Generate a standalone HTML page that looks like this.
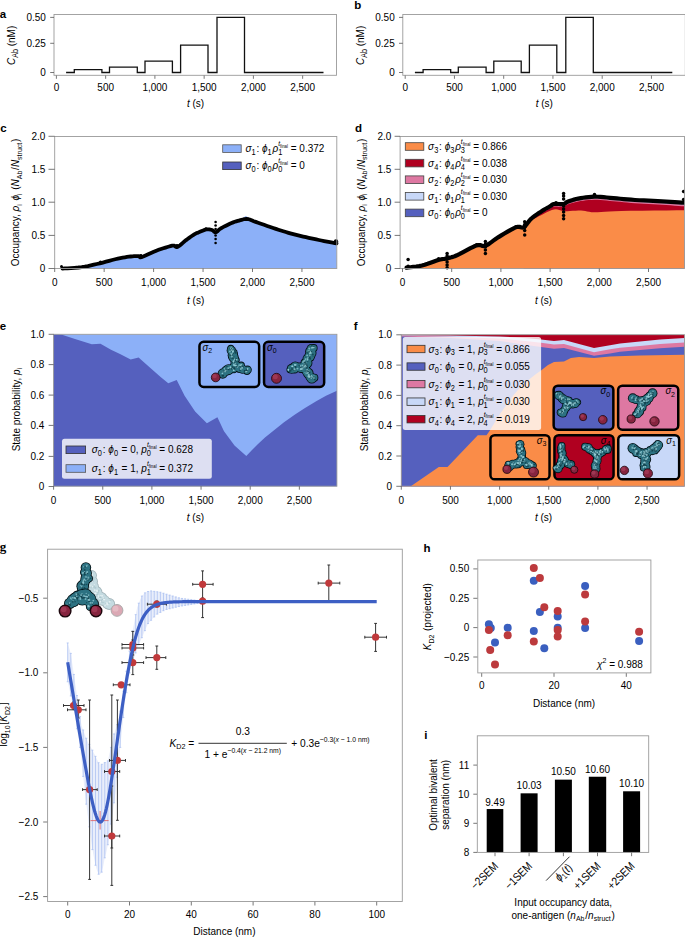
<!DOCTYPE html>
<html><head><meta charset="utf-8"><style>
html,body{margin:0;padding:0;background:#fff;overflow:hidden;}
svg{display:block;font-family:"Liberation Sans", sans-serif;}
</style></head><body>
<svg width="685" height="937" viewBox="0 0 685 937">
<rect width="685" height="937" fill="#fff"/>
<text x="-0.3" y="17.5" font-size="11.5" font-weight="bold" >a</text>
<rect x="54" y="14.5" width="282.5" height="60.8" fill="none" stroke="#9a9a9a" stroke-width="0.9" />
<line x1="50.2" y1="17.4" x2="54" y2="17.4" stroke="#555" stroke-width="0.8" />
<text transform="translate(45.9,20.95) scale(1,1.16)" font-size="10.0" text-anchor="end" >0.50</text>
<line x1="50.2" y1="43.3" x2="54" y2="43.3" stroke="#555" stroke-width="0.8" />
<text transform="translate(45.9,46.85) scale(1,1.16)" font-size="10.0" text-anchor="end" >0.25</text>
<line x1="50.2" y1="72.5" x2="54" y2="72.5" stroke="#555" stroke-width="0.8" />
<text transform="translate(45.9,76.05) scale(1,1.16)" font-size="10.0" text-anchor="end" >0</text>
<line x1="56.4" y1="75.5" x2="56.4" y2="78.8" stroke="#555" stroke-width="0.8" />
<text transform="translate(56.4,90.85) scale(1,1.16)" font-size="10.0" text-anchor="middle" >0</text>
<line x1="105.65" y1="75.5" x2="105.65" y2="78.8" stroke="#555" stroke-width="0.8" />
<text transform="translate(105.65,90.85) scale(1,1.16)" font-size="10.0" text-anchor="middle" >500</text>
<line x1="154.9" y1="75.5" x2="154.9" y2="78.8" stroke="#555" stroke-width="0.8" />
<text transform="translate(154.9,90.85) scale(1,1.16)" font-size="10.0" text-anchor="middle" >1,000</text>
<line x1="204.15" y1="75.5" x2="204.15" y2="78.8" stroke="#555" stroke-width="0.8" />
<text transform="translate(204.15,90.85) scale(1,1.16)" font-size="10.0" text-anchor="middle" >1,500</text>
<line x1="253.4" y1="75.5" x2="253.4" y2="78.8" stroke="#555" stroke-width="0.8" />
<text transform="translate(253.4,90.85) scale(1,1.16)" font-size="10.0" text-anchor="middle" >2,000</text>
<line x1="302.65" y1="75.5" x2="302.65" y2="78.8" stroke="#555" stroke-width="0.8" />
<text transform="translate(302.65,90.85) scale(1,1.16)" font-size="10.0" text-anchor="middle" >2,500</text>
<text transform="translate(195.5,107.35) scale(1,1.16)" font-size="10.0" text-anchor="middle" ><tspan font-style="italic">t</tspan> (s)</text>
<text transform="translate(15.05,45.4) rotate(-90) scale(1,1.16)" font-size="10.0" text-anchor="middle" ><tspan font-style="italic">C</tspan><tspan font-size="7.2" dy="2.3">Ab</tspan><tspan dy="-2.3"> </tspan>(nM)</text>
<path d="M66.1,72.5 H74.3 V69.6 H101.9 V72.5 H109.5 V67.2 H137.3 V72.5 H145 V61.2 H172.4 V72.5 H180.6 V45.1 H208 V72.5 H217 V17.3 H244.5 V72.5 H323.5" transform="translate(0,0)" fill="none" stroke="#111" stroke-width="1.3"/>
<text x="354.3" y="8.8" font-size="11.5" font-weight="bold" >b</text>
<rect x="402.8" y="14.5" width="282.5" height="60.8" fill="none" stroke="#9a9a9a" stroke-width="0.9" />
<line x1="399" y1="17.4" x2="402.8" y2="17.4" stroke="#555" stroke-width="0.8" />
<text transform="translate(394.7,20.95) scale(1,1.16)" font-size="10.0" text-anchor="end" >0.50</text>
<line x1="399" y1="43.3" x2="402.8" y2="43.3" stroke="#555" stroke-width="0.8" />
<text transform="translate(394.7,46.85) scale(1,1.16)" font-size="10.0" text-anchor="end" >0.25</text>
<line x1="399" y1="72.5" x2="402.8" y2="72.5" stroke="#555" stroke-width="0.8" />
<text transform="translate(394.7,76.05) scale(1,1.16)" font-size="10.0" text-anchor="end" >0</text>
<line x1="405.2" y1="75.5" x2="405.2" y2="78.8" stroke="#555" stroke-width="0.8" />
<text transform="translate(405.2,90.85) scale(1,1.16)" font-size="10.0" text-anchor="middle" >0</text>
<line x1="454.45" y1="75.5" x2="454.45" y2="78.8" stroke="#555" stroke-width="0.8" />
<text transform="translate(454.45,90.85) scale(1,1.16)" font-size="10.0" text-anchor="middle" >500</text>
<line x1="503.7" y1="75.5" x2="503.7" y2="78.8" stroke="#555" stroke-width="0.8" />
<text transform="translate(503.7,90.85) scale(1,1.16)" font-size="10.0" text-anchor="middle" >1,000</text>
<line x1="552.95" y1="75.5" x2="552.95" y2="78.8" stroke="#555" stroke-width="0.8" />
<text transform="translate(552.95,90.85) scale(1,1.16)" font-size="10.0" text-anchor="middle" >1,500</text>
<line x1="602.2" y1="75.5" x2="602.2" y2="78.8" stroke="#555" stroke-width="0.8" />
<text transform="translate(602.2,90.85) scale(1,1.16)" font-size="10.0" text-anchor="middle" >2,000</text>
<line x1="651.45" y1="75.5" x2="651.45" y2="78.8" stroke="#555" stroke-width="0.8" />
<text transform="translate(651.45,90.85) scale(1,1.16)" font-size="10.0" text-anchor="middle" >2,500</text>
<text transform="translate(544.3,107.35) scale(1,1.16)" font-size="10.0" text-anchor="middle" ><tspan font-style="italic">t</tspan> (s)</text>
<text transform="translate(363.85,45.4) rotate(-90) scale(1,1.16)" font-size="10.0" text-anchor="middle" ><tspan font-style="italic">C</tspan><tspan font-size="7.2" dy="2.3">Ab</tspan><tspan dy="-2.3"> </tspan>(nM)</text>
<path d="M66.1,72.5 H74.3 V69.6 H101.9 V72.5 H109.5 V67.2 H137.3 V72.5 H145 V61.2 H172.4 V72.5 H180.6 V45.1 H208 V72.5 H217 V17.3 H244.5 V72.5 H323.5" transform="translate(348.8,0)" fill="none" stroke="#111" stroke-width="1.3"/>
<text x="0.3" y="131.8" font-size="11.5" font-weight="bold" >c</text>
<polygon points="62.5,268.5 62.5,268.6 64.6,268.46 67.52,268.3 70.97,268.09 74.67,267.83 78.34,267.5 81.7,267.1 84.78,266.61 87.81,266.04 90.82,265.4 93.81,264.72 96.8,264.01 99.8,263.3 102.88,262.54 106.03,261.7 109.18,260.84 112.26,260.01 115.19,259.24 117.9,258.6 120.39,258.08 122.71,257.64 124.89,257.28 126.94,256.97 128.87,256.72 130.7,256.5 132.45,256.33 134.12,256.22 135.67,256.16 137.07,256.14 138.29,256.16 139.3,256.2 139.88,256.37 140.01,256.68 139.96,257.03 139.99,257.3 140.38,257.36 141.4,257.1 143.17,256.43 145.5,255.43 148.18,254.22 151.01,252.94 153.79,251.72 156.3,250.7 158.65,249.83 161.01,249.01 163.33,248.26 165.5,247.57 167.45,246.98 169.1,246.5 170.39,246.13 171.37,245.87 172.12,245.71 172.76,245.61 173.35,245.58 174,245.6 174.62,245.78 175.11,246.17 175.57,246.62 176.09,246.99 176.73,247.13 177.6,246.9 178.73,246.23 180.07,245.2 181.54,243.96 183.08,242.61 184.62,241.28 186.1,240.1 187.58,239.01 189.13,237.89 190.68,236.79 192.16,235.76 193.53,234.85 194.7,234.1 195.6,233.57 196.27,233.23 196.81,233.01 197.34,232.83 197.97,232.62 198.8,232.3 199.89,231.84 201.15,231.29 202.51,230.7 203.89,230.15 205.21,229.69 206.4,229.4 207.46,229.28 208.45,229.28 209.38,229.38 210.26,229.54 211.1,229.76 211.9,230 212.63,230.36 213.28,230.87 213.89,231.42 214.49,231.92 215.11,232.25 215.8,232.3 216.49,232.04 217.14,231.55 217.81,230.89 218.59,230.12 219.52,229.3 220.7,228.5 222.19,227.65 223.97,226.69 225.91,225.69 227.9,224.7 229.84,223.78 231.6,223 233.21,222.36 234.76,221.81 236.24,221.33 237.68,220.91 239.06,220.54 240.4,220.2 241.66,219.86 242.82,219.53 243.93,219.24 245.04,219.04 246.18,218.94 247.4,219 248.6,219.21 249.73,219.54 250.89,219.99 252.2,220.54 253.77,221.18 255.7,221.9 258.11,222.75 260.93,223.74 264.01,224.83 267.19,225.94 270.3,227.02 273.2,228 275.85,228.88 278.38,229.71 280.85,230.51 283.32,231.28 285.85,232.04 288.5,232.8 291.31,233.57 294.25,234.34 297.24,235.09 300.24,235.83 303.18,236.53 306,237.2 308.69,237.82 311.3,238.4 313.85,238.94 316.37,239.47 318.88,239.99 321.4,240.5 324.11,241.04 327.01,241.6 329.91,242.16 332.6,242.66 334.86,243.09 336.5,243.4 336.8,268.5" fill="#8cb0f8"/>
<polygon points="238,221 245.8,216 252,219.5 247.4,220" fill="#8cb0f8"/>
<path d="M62.5,268.6 64.6,268.46 67.52,268.3 70.97,268.09 74.67,267.83 78.34,267.5 81.7,267.1 84.78,266.61 87.81,266.04 90.82,265.4 93.81,264.72 96.8,264.01 99.8,263.3 102.88,262.54 106.03,261.7 109.18,260.84 112.26,260.01 115.19,259.24 117.9,258.6 120.39,258.08 122.71,257.64 124.89,257.28 126.94,256.97 128.87,256.72 130.7,256.5 132.45,256.33 134.12,256.22 135.67,256.16 137.07,256.14 138.29,256.16 139.3,256.2 139.88,256.37 140.01,256.68 139.96,257.03 139.99,257.3 140.38,257.36 141.4,257.1 143.17,256.43 145.5,255.43 148.18,254.22 151.01,252.94 153.79,251.72 156.3,250.7 158.65,249.83 161.01,249.01 163.33,248.26 165.5,247.57 167.45,246.98 169.1,246.5 170.39,246.13 171.37,245.87 172.12,245.71 172.76,245.61 173.35,245.58 174,245.6 174.62,245.78 175.11,246.17 175.57,246.62 176.09,246.99 176.73,247.13 177.6,246.9 178.73,246.23 180.07,245.2 181.54,243.96 183.08,242.61 184.62,241.28 186.1,240.1 187.58,239.01 189.13,237.89 190.68,236.79 192.16,235.76 193.53,234.85 194.7,234.1 195.6,233.57 196.27,233.23 196.81,233.01 197.34,232.83 197.97,232.62 198.8,232.3 199.89,231.84 201.15,231.29 202.51,230.7 203.89,230.15 205.21,229.69 206.4,229.4 207.46,229.28 208.45,229.28 209.38,229.38 210.26,229.54 211.1,229.76 211.9,230 212.63,230.36 213.28,230.87 213.89,231.42 214.49,231.92 215.11,232.25 215.8,232.3 216.49,232.04 217.14,231.55 217.81,230.89 218.59,230.12 219.52,229.3 220.7,228.5 222.19,227.65 223.97,226.69 225.91,225.69 227.9,224.7 229.84,223.78 231.6,223 233.21,222.36 234.76,221.81 236.24,221.33 237.68,220.91 239.06,220.54 240.4,220.2 241.66,219.86 242.82,219.53 243.93,219.24 245.04,219.04 246.18,218.94 247.4,219 248.6,219.21 249.73,219.54 250.89,219.99 252.2,220.54 253.77,221.18 255.7,221.9 258.11,222.75 260.93,223.74 264.01,224.83 267.19,225.94 270.3,227.02 273.2,228 275.85,228.88 278.38,229.71 280.85,230.51 283.32,231.28 285.85,232.04 288.5,232.8 291.31,233.57 294.25,234.34 297.24,235.09 300.24,235.83 303.18,236.53 306,237.2 308.69,237.82 311.3,238.4 313.85,238.94 316.37,239.47 318.88,239.99 321.4,240.5 324.11,241.04 327.01,241.6 329.91,242.16 332.6,242.66 334.86,243.09 336.5,243.4" fill="none" stroke="#000" stroke-width="3.8" stroke-linejoin="round" stroke-linecap="round"/>
<circle cx="215.6" cy="222" r="1.3" fill="#000"/>
<circle cx="215.6" cy="225.5" r="1.3" fill="#000"/>
<circle cx="215.6" cy="229" r="1.3" fill="#000"/>
<circle cx="215.6" cy="232" r="1.3" fill="#000"/>
<circle cx="215.6" cy="235.5" r="1.3" fill="#000"/>
<circle cx="215.6" cy="239" r="1.3" fill="#000"/>
<circle cx="215.6" cy="243" r="1.3" fill="#000"/>
<circle cx="61.5" cy="266.6" r="1.5" fill="#000"/>
<circle cx="100.5" cy="262" r="1.6" fill="#000"/>
<circle cx="336" cy="241.5" r="2.2" fill="#000"/>
<circle cx="141" cy="255.5" r="1.4" fill="#000"/>
<circle cx="177" cy="245.5" r="1.4" fill="#000"/>
<circle cx="206" cy="228.8" r="1.5" fill="#000"/>
<rect x="54.7" y="136.5" width="282.1" height="132" fill="none" stroke="#9a9a9a" stroke-width="0.9" />
<line x1="48.5" y1="136.3" x2="54.7" y2="136.3" stroke="#555" stroke-width="0.8" />
<text transform="translate(45.3,139.85) scale(1,1.16)" font-size="10.0" text-anchor="end" >2.0</text>
<line x1="48.5" y1="169.3" x2="54.7" y2="169.3" stroke="#555" stroke-width="0.8" />
<text transform="translate(45.3,172.85) scale(1,1.16)" font-size="10.0" text-anchor="end" >1.5</text>
<line x1="48.5" y1="202.2" x2="54.7" y2="202.2" stroke="#555" stroke-width="0.8" />
<text transform="translate(45.3,205.75) scale(1,1.16)" font-size="10.0" text-anchor="end" >1.0</text>
<line x1="48.5" y1="235.4" x2="54.7" y2="235.4" stroke="#555" stroke-width="0.8" />
<text transform="translate(45.3,238.95) scale(1,1.16)" font-size="10.0" text-anchor="end" >0.5</text>
<line x1="48.5" y1="268.5" x2="54.7" y2="268.5" stroke="#555" stroke-width="0.8" />
<text transform="translate(45.3,272.05) scale(1,1.16)" font-size="10.0" text-anchor="end" >0</text>
<line x1="54.7" y1="268.5" x2="54.7" y2="272" stroke="#555" stroke-width="0.8" />
<text transform="translate(54.7,286.35) scale(1,1.16)" font-size="10.0" text-anchor="middle" >0</text>
<line x1="104.15" y1="268.5" x2="104.15" y2="272" stroke="#555" stroke-width="0.8" />
<text transform="translate(104.15,286.35) scale(1,1.16)" font-size="10.0" text-anchor="middle" >500</text>
<line x1="153.6" y1="268.5" x2="153.6" y2="272" stroke="#555" stroke-width="0.8" />
<text transform="translate(153.6,286.35) scale(1,1.16)" font-size="10.0" text-anchor="middle" >1,000</text>
<line x1="203.05" y1="268.5" x2="203.05" y2="272" stroke="#555" stroke-width="0.8" />
<text transform="translate(203.05,286.35) scale(1,1.16)" font-size="10.0" text-anchor="middle" >1,500</text>
<line x1="252.5" y1="268.5" x2="252.5" y2="272" stroke="#555" stroke-width="0.8" />
<text transform="translate(252.5,286.35) scale(1,1.16)" font-size="10.0" text-anchor="middle" >2,000</text>
<line x1="301.95" y1="268.5" x2="301.95" y2="272" stroke="#555" stroke-width="0.8" />
<text transform="translate(301.95,286.35) scale(1,1.16)" font-size="10.0" text-anchor="middle" >2,500</text>
<text transform="translate(195.6,303.85) scale(1,1.16)" font-size="10.0" text-anchor="middle" ><tspan font-style="italic">t</tspan> (s)</text>
<text transform="translate(19.35,202.4) rotate(-90) scale(1,1.16)" font-size="10.0" text-anchor="middle" >Occupancy, <tspan font-style="italic">ρ</tspan><tspan font-size="7" dy="2">i</tspan><tspan dy="-2"> </tspan> <tspan font-style="italic">ϕ</tspan><tspan font-size="7" dy="2">i</tspan><tspan dy="-2"> </tspan> (<tspan font-style="italic">N</tspan><tspan font-size="7" dy="2">Ab</tspan><tspan dy="-2"> </tspan>/<tspan font-style="italic">N</tspan><tspan font-size="7" dy="2">struct</tspan><tspan dy="-2"> </tspan>)</text>
<rect x="222.7" y="144.8" width="18.5" height="7.6" fill="#8cb0f8" stroke="#555" stroke-width="0.8" />
<text transform="translate(245.5,152.15) scale(1,1.16)" font-size="10.0" text-anchor="start" ><tspan font-style="italic">σ</tspan><tspan font-size="7.4" dy="2.5">1</tspan><tspan dy="-2.5"> </tspan>: <tspan font-style="italic">ϕ</tspan><tspan font-size="7.4" dy="2.5">1</tspan><tspan dy="-2.5"> </tspan><tspan font-style="italic">ρ</tspan><tspan font-size="6.6" dy="-5.2" font-style="italic">t</tspan><tspan font-size="4.3" dy="1.3">final</tspan><tspan font-size="7.4" dx="-9.8" dy="6.4">1</tspan><tspan dy="-2.5" dx="5.7"> </tspan>= 0.372</text>
<rect x="222.7" y="162" width="18.5" height="7.6" fill="#5560be" stroke="#333" stroke-width="0.8" />
<text transform="translate(245.5,169.35) scale(1,1.16)" font-size="10.0" text-anchor="start" ><tspan font-style="italic">σ</tspan><tspan font-size="7.4" dy="2.5">0</tspan><tspan dy="-2.5"> </tspan>: <tspan font-style="italic">ϕ</tspan><tspan font-size="7.4" dy="2.5">0</tspan><tspan dy="-2.5"> </tspan><tspan font-style="italic">ρ</tspan><tspan font-size="6.6" dy="-5.2" font-style="italic">t</tspan><tspan font-size="4.3" dy="1.3">final</tspan><tspan font-size="7.4" dx="-9.8" dy="6.4">0</tspan><tspan dy="-2.5" dx="5.7"> </tspan>= 0</text>
<text x="354.9" y="132.4" font-size="11.5" font-weight="bold" >d</text>
<polygon points="406.6,268.5 406.6,267.7 408.25,267.5 410.53,267.25 413.23,266.94 416.15,266.56 419.11,266.08 421.9,265.5 424.66,264.73 427.57,263.77 430.51,262.72 433.36,261.67 435.99,260.73 438.3,260 440.19,259.51 441.76,259.2 443.11,258.99 444.37,258.82 445.66,258.61 447.1,258.3 448.56,257.96 449.93,257.65 451.32,257.31 452.86,256.86 454.68,256.21 456.9,255.3 459.74,253.93 463.14,252.13 466.81,250.14 470.47,248.19 473.83,246.53 476.6,245.4 478.65,244.98 480.18,245.11 481.41,245.53 482.55,245.96 483.81,246.14 485.4,245.8 487.28,244.89 489.29,243.62 491.41,242.09 493.65,240.43 496.01,238.72 498.5,237.1 501.28,235.4 504.37,233.52 507.59,231.61 510.73,229.81 513.6,228.29 516,227.2 517.85,226.73 519.29,226.79 520.46,227.12 521.5,227.48 522.53,227.59 523.7,227.2 524.95,226.24 526.15,224.91 527.35,223.33 528.6,221.65 529.93,219.99 531.4,218.5 533.07,217.12 534.91,215.74 536.85,214.38 538.79,213.09 540.63,211.88 542.3,210.8 543.81,209.85 545.24,209.01 546.58,208.27 547.83,207.6 548.97,206.98 550,206.4 550.82,205.86 551.4,205.36 551.89,204.92 552.4,204.55 553.06,204.24 554,204 555.33,203.89 556.96,203.9 558.75,203.99 560.54,204.07 562.17,204.1 563.5,204 564.41,203.77 564.99,203.47 565.42,203.1 565.87,202.69 566.5,202.25 567.5,201.8 568.84,201.31 570.4,200.76 572.14,200.18 574.05,199.61 576.11,199.07 578.3,198.6 580.66,198.17 583.2,197.75 585.89,197.36 588.7,197.04 591.58,196.81 594.5,196.7 597.46,196.74 600.5,196.9 603.61,197.16 606.8,197.47 610.06,197.8 613.4,198.1 616.78,198.39 620.2,198.72 623.69,199.06 627.3,199.39 631.06,199.71 635,200 639.25,200.25 643.79,200.47 648.48,200.68 653.17,200.88 657.73,201.08 662,201.3 666.21,201.54 670.52,201.81 674.69,202.08 678.48,202.33 681.66,202.55 684,202.7 684.4,268.5" fill="#c8d8f8"/>
<polygon points="523.7,227.3 524.5,226.42 525.58,225.21 526.87,223.77 528.31,222.23 529.84,220.7 531.4,219.3 533.07,217.98 534.91,216.64 536.85,215.31 538.79,214.04 540.63,212.85 542.3,211.8 543.81,210.89 545.24,210.08 546.58,209.37 547.83,208.73 548.97,208.15 550,207.6 550.82,207.09 551.4,206.64 551.89,206.24 552.4,205.9 553.06,205.62 554,205.4 555.33,205.3 556.96,205.31 558.75,205.39 560.54,205.47 562.17,205.5 563.5,205.4 564.41,205.18 564.99,204.89 565.42,204.54 565.87,204.15 566.5,203.73 567.5,203.3 568.84,202.83 570.4,202.29 572.14,201.73 574.05,201.17 576.11,200.65 578.3,200.2 580.66,199.79 583.2,199.39 585.89,199.02 588.7,198.71 591.58,198.5 594.5,198.4 597.46,198.44 600.5,198.61 603.61,198.86 606.8,199.17 610.06,199.49 613.4,199.8 616.78,200.11 620.2,200.44 623.69,200.8 627.3,201.16 631.06,201.49 635,201.8 639.25,202.07 643.79,202.31 648.48,202.53 653.17,202.75 657.73,202.97 662,203.2 666.21,203.46 670.52,203.75 674.69,204.04 678.48,204.31 681.66,204.54 684,204.7 684.4,268.5 523.7,268.5" fill="#de78a2"/>
<polygon points="523.7,227.4 524.5,226.57 525.58,225.41 526.87,224.05 528.31,222.59 529.84,221.13 531.4,219.8 533.07,218.54 534.91,217.25 536.85,215.98 538.79,214.75 540.63,213.61 542.3,212.6 543.81,211.72 545.24,210.96 546.58,210.28 547.83,209.67 548.97,209.11 550,208.6 550.82,208.13 551.4,207.71 551.89,207.34 552.4,207.04 553.06,206.79 554,206.6 555.33,206.52 556.96,206.56 558.75,206.66 560.54,206.76 562.17,206.79 563.5,206.7 564.41,206.48 564.99,206.17 565.42,205.79 565.87,205.38 566.5,204.94 567.5,204.5 568.84,204.03 570.4,203.51 572.14,202.97 574.05,202.43 576.11,201.93 578.3,201.5 580.66,201.11 583.2,200.72 585.89,200.37 588.7,200.09 591.58,199.89 594.5,199.8 597.46,199.85 600.5,200.01 603.61,200.27 606.8,200.57 610.06,200.9 613.4,201.2 616.78,201.5 620.2,201.84 623.69,202.19 627.3,202.54 631.06,202.88 635,203.2 639.25,203.49 643.79,203.77 648.48,204.03 653.17,204.29 657.73,204.54 662,204.8 666.21,205.07 670.52,205.36 674.69,205.65 678.48,205.91 681.66,206.14 684,206.3 684.4,268.5 523.7,268.5" fill="#b00020"/>
<polygon points="406.6,268.5 406.6,268.5 408.25,268.24 410.53,267.9 413.23,267.49 416.15,267.01 419.11,266.44 421.9,265.8 424.66,265 427.57,264.03 430.51,262.99 433.36,261.96 435.99,261.03 438.3,260.3 440.19,259.81 441.76,259.5 443.11,259.29 444.37,259.12 445.66,258.91 447.1,258.6 448.56,258.26 449.93,257.95 451.32,257.61 452.86,257.16 454.68,256.51 456.9,255.6 459.74,254.23 463.14,252.43 466.81,250.44 470.47,248.49 473.83,246.83 476.6,245.7 478.65,245.28 480.18,245.41 481.41,245.82 482.55,246.26 483.81,246.44 485.4,246.1 487.28,245.19 489.29,243.92 491.41,242.39 493.65,240.73 496.01,239.02 498.5,237.4 501.28,235.7 504.37,233.82 507.59,231.91 510.73,230.11 513.6,228.59 516,227.5 517.85,227.01 519.29,227.03 520.46,227.32 521.5,227.65 522.53,227.79 523.7,227.5 524.97,226.72 526.21,225.61 527.46,224.31 528.73,222.94 530.04,221.63 531.4,220.5 532.78,219.56 534.17,218.72 535.59,217.94 537.09,217.17 538.71,216.37 540.5,215.5 542.53,214.47 544.77,213.29 547.14,212.08 549.54,210.97 551.86,210.07 554,209.5 555.89,209.37 557.6,209.59 559.23,210.02 560.9,210.53 562.72,210.97 564.8,211.2 567.22,211.19 569.9,211.05 572.73,210.84 575.6,210.64 578.39,210.5 581,210.5 583.25,210.69 585.2,211.03 587.08,211.44 589.1,211.84 591.5,212.15 594.5,212.3 597.81,212.26 601.19,212.08 604.94,211.81 609.37,211.51 614.79,211.22 621.5,211 630.59,210.83 642.02,210.67 654.44,210.52 666.48,210.39 676.79,210.28 684,210.2 684.4,268.5" fill="#fa8c48"/>
<path d="M406.6,267.7 408.25,267.5 410.53,267.25 413.23,266.94 416.15,266.56 419.11,266.08 421.9,265.5 424.66,264.73 427.57,263.77 430.51,262.72 433.36,261.67 435.99,260.73 438.3,260 440.19,259.51 441.76,259.2 443.11,258.99 444.37,258.82 445.66,258.61 447.1,258.3 448.56,257.96 449.93,257.65 451.32,257.31 452.86,256.86 454.68,256.21 456.9,255.3 459.74,253.93 463.14,252.13 466.81,250.14 470.47,248.19 473.83,246.53 476.6,245.4 478.65,244.98 480.18,245.11 481.41,245.53 482.55,245.96 483.81,246.14 485.4,245.8 487.28,244.89 489.29,243.62 491.41,242.09 493.65,240.43 496.01,238.72 498.5,237.1 501.28,235.4 504.37,233.52 507.59,231.61 510.73,229.81 513.6,228.29 516,227.2 517.85,226.73 519.29,226.79 520.46,227.12 521.5,227.48 522.53,227.59 523.7,227.2 524.95,226.24 526.15,224.91 527.35,223.33 528.6,221.65 529.93,219.99 531.4,218.5 533.07,217.12 534.91,215.74 536.85,214.38 538.79,213.09 540.63,211.88 542.3,210.8 543.81,209.85 545.24,209.01 546.58,208.27 547.83,207.6 548.97,206.98 550,206.4 550.82,205.86 551.4,205.36 551.89,204.92 552.4,204.55 553.06,204.24 554,204 555.33,203.89 556.96,203.9 558.75,203.99 560.54,204.07 562.17,204.1 563.5,204 564.41,203.77 564.99,203.47 565.42,203.1 565.87,202.69 566.5,202.25 567.5,201.8 568.84,201.31 570.4,200.76 572.14,200.18 574.05,199.61 576.11,199.07 578.3,198.6 580.66,198.17 583.2,197.75 585.89,197.36 588.7,197.04 591.58,196.81 594.5,196.7 597.46,196.74 600.5,196.9 603.61,197.16 606.8,197.47 610.06,197.8 613.4,198.1 616.78,198.39 620.2,198.72 623.69,199.06 627.3,199.39 631.06,199.71 635,200 639.25,200.25 643.79,200.47 648.48,200.68 653.17,200.88 657.73,201.08 662,201.3 666.21,201.54 670.52,201.81 674.69,202.08 678.48,202.33 681.66,202.55 684,202.7" fill="none" stroke="#000" stroke-width="4.2" stroke-linejoin="round" stroke-linecap="round"/>
<circle cx="408.1" cy="259.6" r="1.75" fill="#000"/>
<circle cx="408.1" cy="266.2" r="1.75" fill="#000"/>
<circle cx="447.1" cy="253.5" r="1.75" fill="#000"/>
<circle cx="447.1" cy="256" r="1.75" fill="#000"/>
<circle cx="447.1" cy="259" r="1.75" fill="#000"/>
<circle cx="447.1" cy="262" r="1.75" fill="#000"/>
<circle cx="447.1" cy="265" r="1.75" fill="#000"/>
<circle cx="447.1" cy="267.7" r="1.75" fill="#000"/>
<circle cx="485.4" cy="241.5" r="1.75" fill="#000"/>
<circle cx="485.4" cy="244" r="1.75" fill="#000"/>
<circle cx="485.4" cy="247" r="1.75" fill="#000"/>
<circle cx="485.4" cy="250" r="1.75" fill="#000"/>
<circle cx="485.4" cy="253.5" r="1.75" fill="#000"/>
<circle cx="524.7" cy="221.7" r="1.75" fill="#000"/>
<circle cx="524.7" cy="224.5" r="1.75" fill="#000"/>
<circle cx="524.7" cy="227.5" r="1.75" fill="#000"/>
<circle cx="524.7" cy="230.5" r="1.75" fill="#000"/>
<circle cx="524.7" cy="234.9" r="1.75" fill="#000"/>
<circle cx="563.6" cy="193.5" r="1.75" fill="#000"/>
<circle cx="563.6" cy="196" r="1.75" fill="#000"/>
<circle cx="563.6" cy="199" r="1.75" fill="#000"/>
<circle cx="563.6" cy="206" r="1.75" fill="#000"/>
<circle cx="563.6" cy="209" r="1.75" fill="#000"/>
<circle cx="563.6" cy="212" r="1.75" fill="#000"/>
<circle cx="563.6" cy="215.5" r="1.75" fill="#000"/>
<circle cx="563.6" cy="218.8" r="1.75" fill="#000"/>
<circle cx="594.5" cy="194.5" r="1.75" fill="#000"/>
<circle cx="683.6" cy="191.5" r="1.75" fill="#000"/>
<circle cx="683.6" cy="199.5" r="1.75" fill="#000"/>
<circle cx="438.5" cy="258.5" r="1.6" fill="#000"/>
<circle cx="476.6" cy="244.5" r="1.6" fill="#000"/>
<circle cx="516" cy="226.5" r="1.6" fill="#000"/>
<circle cx="556" cy="202.5" r="1.6" fill="#000"/>
<rect x="400.1" y="136.5" width="284.4" height="132" fill="none" stroke="#9a9a9a" stroke-width="0.9" />
<line x1="394.6" y1="136.3" x2="400.1" y2="136.3" stroke="#555" stroke-width="0.8" />
<text transform="translate(391.4,139.85) scale(1,1.16)" font-size="10.0" text-anchor="end" >2.0</text>
<line x1="394.6" y1="169.3" x2="400.1" y2="169.3" stroke="#555" stroke-width="0.8" />
<text transform="translate(391.4,172.85) scale(1,1.16)" font-size="10.0" text-anchor="end" >1.5</text>
<line x1="394.6" y1="202.2" x2="400.1" y2="202.2" stroke="#555" stroke-width="0.8" />
<text transform="translate(391.4,205.75) scale(1,1.16)" font-size="10.0" text-anchor="end" >1.0</text>
<line x1="394.6" y1="235.4" x2="400.1" y2="235.4" stroke="#555" stroke-width="0.8" />
<text transform="translate(391.4,238.95) scale(1,1.16)" font-size="10.0" text-anchor="end" >0.5</text>
<line x1="394.6" y1="268.5" x2="400.1" y2="268.5" stroke="#555" stroke-width="0.8" />
<text transform="translate(391.4,272.05) scale(1,1.16)" font-size="10.0" text-anchor="end" >0</text>
<line x1="402.5" y1="268.5" x2="402.5" y2="272" stroke="#555" stroke-width="0.8" />
<text transform="translate(402.5,286.35) scale(1,1.16)" font-size="10.0" text-anchor="middle" >0</text>
<line x1="451.7" y1="268.5" x2="451.7" y2="272" stroke="#555" stroke-width="0.8" />
<text transform="translate(451.7,286.35) scale(1,1.16)" font-size="10.0" text-anchor="middle" >500</text>
<line x1="500.9" y1="268.5" x2="500.9" y2="272" stroke="#555" stroke-width="0.8" />
<text transform="translate(500.9,286.35) scale(1,1.16)" font-size="10.0" text-anchor="middle" >1,000</text>
<line x1="550.1" y1="268.5" x2="550.1" y2="272" stroke="#555" stroke-width="0.8" />
<text transform="translate(550.1,286.35) scale(1,1.16)" font-size="10.0" text-anchor="middle" >1,500</text>
<line x1="599.3" y1="268.5" x2="599.3" y2="272" stroke="#555" stroke-width="0.8" />
<text transform="translate(599.3,286.35) scale(1,1.16)" font-size="10.0" text-anchor="middle" >2,000</text>
<line x1="648.5" y1="268.5" x2="648.5" y2="272" stroke="#555" stroke-width="0.8" />
<text transform="translate(648.5,286.35) scale(1,1.16)" font-size="10.0" text-anchor="middle" >2,500</text>
<text transform="translate(543.5,303.85) scale(1,1.16)" font-size="10.0" text-anchor="middle" ><tspan font-style="italic">t</tspan> (s)</text>
<text transform="translate(364.65,202.4) rotate(-90) scale(1,1.16)" font-size="10.0" text-anchor="middle" >Occupancy, <tspan font-style="italic">ρ</tspan><tspan font-size="7" dy="2">i</tspan><tspan dy="-2"> </tspan> <tspan font-style="italic">ϕ</tspan><tspan font-size="7" dy="2">i</tspan><tspan dy="-2"> </tspan> (<tspan font-style="italic">N</tspan><tspan font-size="7" dy="2">Ab</tspan><tspan dy="-2"> </tspan>/<tspan font-style="italic">N</tspan><tspan font-size="7" dy="2">struct</tspan><tspan dy="-2"> </tspan>)</text>
<rect x="405.3" y="142.7" width="18.5" height="7.6" fill="#fa8c48" stroke="#444" stroke-width="0.8" />
<text transform="translate(428.1,150.05) scale(1,1.16)" font-size="10.0" text-anchor="start" ><tspan font-style="italic">σ</tspan><tspan font-size="7.4" dy="2.5">3</tspan><tspan dy="-2.5"> </tspan>: <tspan font-style="italic">ϕ</tspan><tspan font-size="7.4" dy="2.5">3</tspan><tspan dy="-2.5"> </tspan><tspan font-style="italic">ρ</tspan><tspan font-size="6.6" dy="-5.2" font-style="italic">t</tspan><tspan font-size="4.3" dy="1.3">final</tspan><tspan font-size="7.4" dx="-9.8" dy="6.4">3</tspan><tspan dy="-2.5" dx="5.7"> </tspan>= 0.866</text>
<rect x="405.3" y="159.3" width="18.5" height="7.6" fill="#b00020" stroke="#444" stroke-width="0.8" />
<text transform="translate(428.1,166.65) scale(1,1.16)" font-size="10.0" text-anchor="start" ><tspan font-style="italic">σ</tspan><tspan font-size="7.4" dy="2.5">4</tspan><tspan dy="-2.5"> </tspan>: <tspan font-style="italic">ϕ</tspan><tspan font-size="7.4" dy="2.5">4</tspan><tspan dy="-2.5"> </tspan><tspan font-style="italic">ρ</tspan><tspan font-size="6.6" dy="-5.2" font-style="italic">t</tspan><tspan font-size="4.3" dy="1.3">final</tspan><tspan font-size="7.4" dx="-9.8" dy="6.4">4</tspan><tspan dy="-2.5" dx="5.7"> </tspan>= 0.038</text>
<rect x="405.3" y="175.9" width="18.5" height="7.6" fill="#de78a2" stroke="#444" stroke-width="0.8" />
<text transform="translate(428.1,183.25) scale(1,1.16)" font-size="10.0" text-anchor="start" ><tspan font-style="italic">σ</tspan><tspan font-size="7.4" dy="2.5">2</tspan><tspan dy="-2.5"> </tspan>: <tspan font-style="italic">ϕ</tspan><tspan font-size="7.4" dy="2.5">2</tspan><tspan dy="-2.5"> </tspan><tspan font-style="italic">ρ</tspan><tspan font-size="6.6" dy="-5.2" font-style="italic">t</tspan><tspan font-size="4.3" dy="1.3">final</tspan><tspan font-size="7.4" dx="-9.8" dy="6.4">2</tspan><tspan dy="-2.5" dx="5.7"> </tspan>= 0.030</text>
<rect x="405.3" y="192.5" width="18.5" height="7.6" fill="#c8d8f8" stroke="#444" stroke-width="0.8" />
<text transform="translate(428.1,199.85) scale(1,1.16)" font-size="10.0" text-anchor="start" ><tspan font-style="italic">σ</tspan><tspan font-size="7.4" dy="2.5">1</tspan><tspan dy="-2.5"> </tspan>: <tspan font-style="italic">ϕ</tspan><tspan font-size="7.4" dy="2.5">1</tspan><tspan dy="-2.5"> </tspan><tspan font-style="italic">ρ</tspan><tspan font-size="6.6" dy="-5.2" font-style="italic">t</tspan><tspan font-size="4.3" dy="1.3">final</tspan><tspan font-size="7.4" dx="-9.8" dy="6.4">1</tspan><tspan dy="-2.5" dx="5.7"> </tspan>= 0.030</text>
<rect x="405.3" y="209.1" width="18.5" height="7.6" fill="#5560be" stroke="#444" stroke-width="0.8" />
<text transform="translate(428.1,216.45) scale(1,1.16)" font-size="10.0" text-anchor="start" ><tspan font-style="italic">σ</tspan><tspan font-size="7.4" dy="2.5">0</tspan><tspan dy="-2.5"> </tspan>: <tspan font-style="italic">ϕ</tspan><tspan font-size="7.4" dy="2.5">0</tspan><tspan dy="-2.5"> </tspan><tspan font-style="italic">ρ</tspan><tspan font-size="6.6" dy="-5.2" font-style="italic">t</tspan><tspan font-size="4.3" dy="1.3">final</tspan><tspan font-size="7.4" dx="-9.8" dy="6.4">0</tspan><tspan dy="-2.5" dx="5.7"> </tspan>= 0</text>
<text x="-0.3" y="329.9" font-size="11.5" font-weight="bold" >e</text>
<rect x="53.6" y="334.4" width="283.3" height="151.8" fill="#8cb0f8" stroke="none" stroke-width="1" />
<polygon points="53.6,334.4 62,334.8 75,339 91.8,344.3 100.5,343.7 111,349.7 120,354 130.7,359.4 138.6,357.6 150.4,368.1 160.9,377.3 168.3,383.3 176.7,379.9 184.6,395.7 195.1,411.5 206.9,423.3 217.4,417.2 224,431.2 234.5,445.6 246.3,456.1 252,450 258,444 265,437.5 273.4,430.7 284,422.2 295,414.5 305,408 316.6,401 326,395.8 336.9,390.8 336.9,486.2 53.6,486.2" fill="#5560be"/>
<rect x="53.6" y="334.3" width="283.3" height="151.9" fill="none" stroke="#9a9a9a" stroke-width="0.9" />
<line x1="48.6" y1="334.3" x2="53.6" y2="334.3" stroke="#555" stroke-width="0.8" />
<text transform="translate(44.4,337.85) scale(1,1.16)" font-size="10.0" text-anchor="end" >1.0</text>
<line x1="48.6" y1="364.6" x2="53.6" y2="364.6" stroke="#555" stroke-width="0.8" />
<text transform="translate(44.4,368.15) scale(1,1.16)" font-size="10.0" text-anchor="end" >0.8</text>
<line x1="48.6" y1="395.1" x2="53.6" y2="395.1" stroke="#555" stroke-width="0.8" />
<text transform="translate(44.4,398.65) scale(1,1.16)" font-size="10.0" text-anchor="end" >0.6</text>
<line x1="48.6" y1="425.4" x2="53.6" y2="425.4" stroke="#555" stroke-width="0.8" />
<text transform="translate(44.4,428.95) scale(1,1.16)" font-size="10.0" text-anchor="end" >0.4</text>
<line x1="48.6" y1="456.4" x2="53.6" y2="456.4" stroke="#555" stroke-width="0.8" />
<text transform="translate(44.4,459.95) scale(1,1.16)" font-size="10.0" text-anchor="end" >0.2</text>
<line x1="48.6" y1="486.5" x2="53.6" y2="486.5" stroke="#555" stroke-width="0.8" />
<text transform="translate(44.4,490.05) scale(1,1.16)" font-size="10.0" text-anchor="end" >0</text>
<line x1="53.6" y1="486.2" x2="53.6" y2="489.7" stroke="#555" stroke-width="0.8" />
<text transform="translate(53.6,504.05) scale(1,1.16)" font-size="10.0" text-anchor="middle" >0</text>
<line x1="102.75" y1="486.2" x2="102.75" y2="489.7" stroke="#555" stroke-width="0.8" />
<text transform="translate(102.75,504.05) scale(1,1.16)" font-size="10.0" text-anchor="middle" >500</text>
<line x1="151.9" y1="486.2" x2="151.9" y2="489.7" stroke="#555" stroke-width="0.8" />
<text transform="translate(151.9,504.05) scale(1,1.16)" font-size="10.0" text-anchor="middle" >1,000</text>
<line x1="201.05" y1="486.2" x2="201.05" y2="489.7" stroke="#555" stroke-width="0.8" />
<text transform="translate(201.05,504.05) scale(1,1.16)" font-size="10.0" text-anchor="middle" >1,500</text>
<line x1="250.2" y1="486.2" x2="250.2" y2="489.7" stroke="#555" stroke-width="0.8" />
<text transform="translate(250.2,504.05) scale(1,1.16)" font-size="10.0" text-anchor="middle" >2,000</text>
<line x1="299.35" y1="486.2" x2="299.35" y2="489.7" stroke="#555" stroke-width="0.8" />
<text transform="translate(299.35,504.05) scale(1,1.16)" font-size="10.0" text-anchor="middle" >2,500</text>
<text transform="translate(195.4,521.05) scale(1,1.16)" font-size="10.0" text-anchor="middle" ><tspan font-style="italic">t</tspan> (s)</text>
<text transform="translate(19.65,409.2) rotate(-90) scale(1,1.16)" font-size="10.0" text-anchor="middle" >State probability, <tspan font-style="italic">p</tspan><tspan font-size="7" dy="2">i</tspan><tspan dy="-2"> </tspan></text>
<rect x="62" y="438.8" width="149.8" height="40" rx="2.5" fill="#fff" fill-opacity="0.8"/>
<rect x="66" y="446" width="19.6" height="7.6" fill="#5560be" stroke="#333" stroke-width="0.8" />
<text transform="translate(91.8,453.35) scale(1,1.16)" font-size="10.0" text-anchor="start" ><tspan font-style="italic">σ</tspan><tspan font-size="7.4" dy="2.5">0</tspan><tspan dy="-2.5"> </tspan>: <tspan font-style="italic">ϕ</tspan><tspan font-size="7.4" dy="2.5">0</tspan><tspan dy="-2.5"> </tspan> = 0, <tspan font-style="italic">p</tspan><tspan font-size="6.6" dy="-5.2" font-style="italic">t</tspan><tspan font-size="4.3" dy="1.3">final</tspan><tspan font-size="7.4" dx="-9.8" dy="6.4">0</tspan><tspan dy="-2.5" dx="5.7"> </tspan>= 0.628</text>
<rect x="66" y="464.7" width="19.6" height="7.6" fill="#8cb0f8" stroke="#555" stroke-width="0.8" />
<text transform="translate(91.8,472.05) scale(1,1.16)" font-size="10.0" text-anchor="start" ><tspan font-style="italic">σ</tspan><tspan font-size="7.4" dy="2.5">1</tspan><tspan dy="-2.5"> </tspan>: <tspan font-style="italic">ϕ</tspan><tspan font-size="7.4" dy="2.5">1</tspan><tspan dy="-2.5"> </tspan> = 1, <tspan font-style="italic">p</tspan><tspan font-size="6.6" dy="-5.2" font-style="italic">t</tspan><tspan font-size="4.3" dy="1.3">final</tspan><tspan font-size="7.4" dx="-9.8" dy="6.4">1</tspan><tspan dy="-2.5" dx="5.7"> </tspan>= 0.372</text>
<rect x="199.45" y="341.85" width="59.7" height="45.1" rx="4.2" ry="4.2" fill="#8cb0f8" stroke="#000" stroke-width="2.5"/>
<text transform="translate(202.5,350.8) scale(1,1.16)" font-size="9.5" text-anchor="start" ><tspan font-style="italic">σ</tspan><tspan font-size="7" dy="2">2</tspan></text>
<rect x="264.05" y="341.85" width="60.1" height="45.1" rx="4.2" ry="4.2" fill="#5560be" stroke="#000" stroke-width="2.5"/>
<text transform="translate(267.1,350.8) scale(1,1.16)" font-size="9.5" text-anchor="start" ><tspan font-style="italic">σ</tspan><tspan font-size="7" dy="2">0</tspan></text>
<circle cx="235.07" cy="363.79" r="4.51" fill="#041115"/>
<circle cx="233.53" cy="362.23" r="2.74" fill="#041115"/>
<circle cx="234.79" cy="360.11" r="4.23" fill="#041115"/>
<circle cx="236.82" cy="360.06" r="2.94" fill="#041115"/>
<circle cx="233.46" cy="357.22" r="5.26" fill="#041115"/>
<circle cx="231.71" cy="355.24" r="4.01" fill="#041115"/>
<circle cx="233.14" cy="353.77" r="4.87" fill="#041115"/>
<circle cx="233.26" cy="351.37" r="3.45" fill="#041115"/>
<circle cx="231.25" cy="350.58" r="4.59" fill="#041115"/>
<circle cx="230.81" cy="348.38" r="3.54" fill="#041115"/>
<circle cx="235.67" cy="365.83" r="5.11" fill="#041115"/>
<circle cx="232.45" cy="368.36" r="4.77" fill="#041115"/>
<circle cx="233.99" cy="370.13" r="3.02" fill="#041115"/>
<circle cx="228.4" cy="369.7" r="5.43" fill="#041115"/>
<circle cx="225.65" cy="369.58" r="3.58" fill="#041115"/>
<circle cx="225.39" cy="371.38" r="4.65" fill="#041115"/>
<circle cx="222.69" cy="373.57" r="5.07" fill="#041115"/>
<circle cx="235.46" cy="366.58" r="5.06" fill="#041115"/>
<circle cx="239.78" cy="367.68" r="5.35" fill="#041115"/>
<circle cx="241.1" cy="365.32" r="3.75" fill="#041115"/>
<circle cx="242.63" cy="369.23" r="4.57" fill="#041115"/>
<circle cx="247.48" cy="369.86" r="4.32" fill="#041115"/>
<circle cx="246.91" cy="371.86" r="3.25" fill="#041115"/>
<circle cx="235.07" cy="363.79" r="3.66" fill="#2d7282"/>
<circle cx="233.53" cy="362.23" r="1.89" fill="#2d7282"/>
<circle cx="234.79" cy="360.11" r="3.38" fill="#2d7282"/>
<circle cx="236.82" cy="360.06" r="2.09" fill="#2d7282"/>
<circle cx="233.46" cy="357.22" r="4.41" fill="#2d7282"/>
<circle cx="231.71" cy="355.24" r="3.16" fill="#2d7282"/>
<circle cx="233.14" cy="353.77" r="4.02" fill="#2d7282"/>
<circle cx="233.26" cy="351.37" r="2.6" fill="#2d7282"/>
<circle cx="231.25" cy="350.58" r="3.74" fill="#2d7282"/>
<circle cx="230.81" cy="348.38" r="2.69" fill="#2d7282"/>
<circle cx="235.67" cy="365.83" r="4.26" fill="#2d7282"/>
<circle cx="232.45" cy="368.36" r="3.92" fill="#2d7282"/>
<circle cx="233.99" cy="370.13" r="2.17" fill="#2d7282"/>
<circle cx="228.4" cy="369.7" r="4.58" fill="#2d7282"/>
<circle cx="225.65" cy="369.58" r="2.73" fill="#2d7282"/>
<circle cx="225.39" cy="371.38" r="3.8" fill="#2d7282"/>
<circle cx="222.69" cy="373.57" r="4.22" fill="#2d7282"/>
<circle cx="235.46" cy="366.58" r="4.21" fill="#2d7282"/>
<circle cx="239.78" cy="367.68" r="4.5" fill="#2d7282"/>
<circle cx="241.1" cy="365.32" r="2.9" fill="#2d7282"/>
<circle cx="242.63" cy="369.23" r="3.72" fill="#2d7282"/>
<circle cx="247.48" cy="369.86" r="3.47" fill="#2d7282"/>
<circle cx="246.91" cy="371.86" r="2.4" fill="#2d7282"/>
<circle cx="235.16" cy="363.7" r="0.87" fill="#11404b" opacity="0.75"/>
<circle cx="237.09" cy="364.38" r="0.7" fill="#11404b" opacity="0.75"/>
<circle cx="237.17" cy="361.84" r="0.8" fill="#11404b" opacity="0.75"/>
<circle cx="235.54" cy="363.14" r="0.54" fill="#9ad3dc" opacity="0.7"/>
<circle cx="234.99" cy="363.64" r="0.6" fill="#9ad3dc" opacity="0.7"/>
<circle cx="233.78" cy="363.04" r="0.58" fill="#9ad3dc" opacity="0.7"/>
<circle cx="234.79" cy="362.58" r="0.69" fill="#11404b" opacity="0.75"/>
<circle cx="234.84" cy="361.88" r="0.73" fill="#11404b" opacity="0.75"/>
<circle cx="232.76" cy="362.43" r="0.89" fill="#11404b" opacity="0.75"/>
<circle cx="233.17" cy="361.6" r="0.81" fill="#9ad3dc" opacity="0.7"/>
<circle cx="233.82" cy="361.63" r="0.72" fill="#9ad3dc" opacity="0.7"/>
<circle cx="233.47" cy="361.87" r="0.65" fill="#9ad3dc" opacity="0.7"/>
<circle cx="236.18" cy="359.92" r="0.83" fill="#11404b" opacity="0.75"/>
<circle cx="235.91" cy="360.2" r="0.85" fill="#11404b" opacity="0.75"/>
<circle cx="236.44" cy="360.32" r="0.88" fill="#11404b" opacity="0.75"/>
<circle cx="233.52" cy="360.74" r="0.73" fill="#9ad3dc" opacity="0.7"/>
<circle cx="234.56" cy="359.31" r="0.85" fill="#9ad3dc" opacity="0.7"/>
<circle cx="234.77" cy="359.97" r="0.53" fill="#9ad3dc" opacity="0.7"/>
<circle cx="236.09" cy="358.62" r="0.65" fill="#11404b" opacity="0.75"/>
<circle cx="235.86" cy="360.33" r="0.69" fill="#11404b" opacity="0.75"/>
<circle cx="236.47" cy="360.45" r="0.72" fill="#11404b" opacity="0.75"/>
<circle cx="236.58" cy="359.64" r="0.69" fill="#9ad3dc" opacity="0.7"/>
<circle cx="236.81" cy="359.93" r="0.78" fill="#9ad3dc" opacity="0.7"/>
<circle cx="236.76" cy="359.57" r="0.61" fill="#9ad3dc" opacity="0.7"/>
<circle cx="233.74" cy="356.43" r="0.61" fill="#11404b" opacity="0.75"/>
<circle cx="231.2" cy="358.2" r="0.56" fill="#11404b" opacity="0.75"/>
<circle cx="232.95" cy="358.28" r="1" fill="#11404b" opacity="0.75"/>
<circle cx="231.44" cy="355.81" r="0.58" fill="#9ad3dc" opacity="0.7"/>
<circle cx="231.66" cy="356.62" r="0.94" fill="#9ad3dc" opacity="0.7"/>
<circle cx="232.89" cy="356.79" r="0.56" fill="#9ad3dc" opacity="0.7"/>
<circle cx="231.23" cy="355.15" r="0.98" fill="#11404b" opacity="0.75"/>
<circle cx="231.95" cy="354.84" r="0.67" fill="#11404b" opacity="0.75"/>
<circle cx="232.28" cy="353.72" r="0.98" fill="#11404b" opacity="0.75"/>
<circle cx="231.38" cy="355.12" r="0.65" fill="#9ad3dc" opacity="0.7"/>
<circle cx="231.74" cy="354.61" r="0.67" fill="#9ad3dc" opacity="0.7"/>
<circle cx="230.92" cy="354.76" r="0.7" fill="#9ad3dc" opacity="0.7"/>
<circle cx="233.58" cy="353.53" r="0.5" fill="#11404b" opacity="0.75"/>
<circle cx="235.79" cy="352.79" r="1.09" fill="#11404b" opacity="0.75"/>
<circle cx="230.34" cy="355" r="1.06" fill="#11404b" opacity="0.75"/>
<circle cx="231.16" cy="353.77" r="0.92" fill="#9ad3dc" opacity="0.7"/>
<circle cx="232.69" cy="352.44" r="0.64" fill="#9ad3dc" opacity="0.7"/>
<circle cx="232.5" cy="353.55" r="0.53" fill="#9ad3dc" opacity="0.7"/>
<circle cx="232.75" cy="351.05" r="0.99" fill="#11404b" opacity="0.75"/>
<circle cx="235.07" cy="351.89" r="0.92" fill="#11404b" opacity="0.75"/>
<circle cx="234.92" cy="350.51" r="1.04" fill="#11404b" opacity="0.75"/>
<circle cx="233.2" cy="351.26" r="0.87" fill="#9ad3dc" opacity="0.7"/>
<circle cx="232.69" cy="351.45" r="0.83" fill="#9ad3dc" opacity="0.7"/>
<circle cx="232.76" cy="350.79" r="0.97" fill="#9ad3dc" opacity="0.7"/>
<circle cx="230.47" cy="349.92" r="0.65" fill="#11404b" opacity="0.75"/>
<circle cx="232.17" cy="349.49" r="0.97" fill="#11404b" opacity="0.75"/>
<circle cx="230.9" cy="351.06" r="0.82" fill="#11404b" opacity="0.75"/>
<circle cx="231.3" cy="350.09" r="0.9" fill="#9ad3dc" opacity="0.7"/>
<circle cx="232.03" cy="348.77" r="0.91" fill="#9ad3dc" opacity="0.7"/>
<circle cx="229.96" cy="351.48" r="0.93" fill="#9ad3dc" opacity="0.7"/>
<circle cx="231.37" cy="348.56" r="0.66" fill="#11404b" opacity="0.75"/>
<circle cx="229.92" cy="348.23" r="0.78" fill="#11404b" opacity="0.75"/>
<circle cx="230.81" cy="348.38" r="0.53" fill="#11404b" opacity="0.75"/>
<circle cx="230.52" cy="348.47" r="0.53" fill="#9ad3dc" opacity="0.7"/>
<circle cx="231.61" cy="347.1" r="0.54" fill="#9ad3dc" opacity="0.7"/>
<circle cx="230.38" cy="347.94" r="0.66" fill="#9ad3dc" opacity="0.7"/>
<circle cx="234.36" cy="367.6" r="0.85" fill="#11404b" opacity="0.75"/>
<circle cx="235.26" cy="366.33" r="0.7" fill="#11404b" opacity="0.75"/>
<circle cx="237.02" cy="367.16" r="0.93" fill="#11404b" opacity="0.75"/>
<circle cx="235.39" cy="365.7" r="0.59" fill="#9ad3dc" opacity="0.7"/>
<circle cx="234.11" cy="365.12" r="0.89" fill="#9ad3dc" opacity="0.7"/>
<circle cx="233.66" cy="364.86" r="0.81" fill="#9ad3dc" opacity="0.7"/>
<circle cx="231.39" cy="368.84" r="0.8" fill="#11404b" opacity="0.75"/>
<circle cx="232.06" cy="367.09" r="0.92" fill="#11404b" opacity="0.75"/>
<circle cx="231.7" cy="368.54" r="0.82" fill="#11404b" opacity="0.75"/>
<circle cx="232.38" cy="368.09" r="0.71" fill="#9ad3dc" opacity="0.7"/>
<circle cx="230.56" cy="367.13" r="0.97" fill="#9ad3dc" opacity="0.7"/>
<circle cx="230.36" cy="367.4" r="0.9" fill="#9ad3dc" opacity="0.7"/>
<circle cx="233.93" cy="370.93" r="0.57" fill="#11404b" opacity="0.75"/>
<circle cx="234.44" cy="369.07" r="1.03" fill="#11404b" opacity="0.75"/>
<circle cx="234.3" cy="369.01" r="0.94" fill="#11404b" opacity="0.75"/>
<circle cx="233.86" cy="369.94" r="0.79" fill="#9ad3dc" opacity="0.7"/>
<circle cx="233.76" cy="370.3" r="0.89" fill="#9ad3dc" opacity="0.7"/>
<circle cx="233.8" cy="370.24" r="0.55" fill="#9ad3dc" opacity="0.7"/>
<circle cx="228.88" cy="369.26" r="0.51" fill="#11404b" opacity="0.75"/>
<circle cx="228.64" cy="369.33" r="1.01" fill="#11404b" opacity="0.75"/>
<circle cx="226.98" cy="366.99" r="1.07" fill="#11404b" opacity="0.75"/>
<circle cx="227.12" cy="367.67" r="0.52" fill="#9ad3dc" opacity="0.7"/>
<circle cx="228.35" cy="368.13" r="0.86" fill="#9ad3dc" opacity="0.7"/>
<circle cx="226.26" cy="370.43" r="0.97" fill="#9ad3dc" opacity="0.7"/>
<circle cx="226.31" cy="369.84" r="0.84" fill="#11404b" opacity="0.75"/>
<circle cx="225.9" cy="369.11" r="0.61" fill="#11404b" opacity="0.75"/>
<circle cx="225.66" cy="370.92" r="0.95" fill="#11404b" opacity="0.75"/>
<circle cx="225.02" cy="369.24" r="0.7" fill="#9ad3dc" opacity="0.7"/>
<circle cx="224.91" cy="369.29" r="0.54" fill="#9ad3dc" opacity="0.7"/>
<circle cx="224.43" cy="368.35" r="0.71" fill="#9ad3dc" opacity="0.7"/>
<circle cx="225.38" cy="370.9" r="0.91" fill="#11404b" opacity="0.75"/>
<circle cx="225.46" cy="369.34" r="0.81" fill="#11404b" opacity="0.75"/>
<circle cx="223.44" cy="371.58" r="1.04" fill="#11404b" opacity="0.75"/>
<circle cx="225.07" cy="371.45" r="0.87" fill="#9ad3dc" opacity="0.7"/>
<circle cx="225.89" cy="370.16" r="0.72" fill="#9ad3dc" opacity="0.7"/>
<circle cx="225.3" cy="370.85" r="0.63" fill="#9ad3dc" opacity="0.7"/>
<circle cx="223.31" cy="375.45" r="0.69" fill="#11404b" opacity="0.75"/>
<circle cx="222.95" cy="375.89" r="1.07" fill="#11404b" opacity="0.75"/>
<circle cx="222.01" cy="375.85" r="0.75" fill="#11404b" opacity="0.75"/>
<circle cx="223.04" cy="371.96" r="0.63" fill="#9ad3dc" opacity="0.7"/>
<circle cx="222.53" cy="373.57" r="0.74" fill="#9ad3dc" opacity="0.7"/>
<circle cx="222.19" cy="373.33" r="0.68" fill="#9ad3dc" opacity="0.7"/>
<circle cx="234.32" cy="368.92" r="0.59" fill="#11404b" opacity="0.75"/>
<circle cx="237.07" cy="366.49" r="0.86" fill="#11404b" opacity="0.75"/>
<circle cx="232.71" cy="367.14" r="0.99" fill="#11404b" opacity="0.75"/>
<circle cx="234.66" cy="365.47" r="0.86" fill="#9ad3dc" opacity="0.7"/>
<circle cx="235.72" cy="365.45" r="0.87" fill="#9ad3dc" opacity="0.7"/>
<circle cx="236.12" cy="365.42" r="0.61" fill="#9ad3dc" opacity="0.7"/>
<circle cx="240.02" cy="370.25" r="0.91" fill="#11404b" opacity="0.75"/>
<circle cx="242.75" cy="366.89" r="0.65" fill="#11404b" opacity="0.75"/>
<circle cx="240.12" cy="368.54" r="0.61" fill="#11404b" opacity="0.75"/>
<circle cx="239.26" cy="365.2" r="0.95" fill="#9ad3dc" opacity="0.7"/>
<circle cx="237.24" cy="367.44" r="0.66" fill="#9ad3dc" opacity="0.7"/>
<circle cx="237.96" cy="366.51" r="0.54" fill="#9ad3dc" opacity="0.7"/>
<circle cx="242.72" cy="366.38" r="0.68" fill="#11404b" opacity="0.75"/>
<circle cx="240.27" cy="366.38" r="0.91" fill="#11404b" opacity="0.75"/>
<circle cx="241.88" cy="365.36" r="0.76" fill="#11404b" opacity="0.75"/>
<circle cx="240.75" cy="365" r="0.79" fill="#9ad3dc" opacity="0.7"/>
<circle cx="241.49" cy="364.62" r="0.77" fill="#9ad3dc" opacity="0.7"/>
<circle cx="240.54" cy="365.49" r="0.83" fill="#9ad3dc" opacity="0.7"/>
<circle cx="244.64" cy="370.95" r="1.05" fill="#11404b" opacity="0.75"/>
<circle cx="244.93" cy="370.83" r="0.72" fill="#11404b" opacity="0.75"/>
<circle cx="242.95" cy="367" r="0.68" fill="#11404b" opacity="0.75"/>
<circle cx="242.18" cy="367.68" r="0.9" fill="#9ad3dc" opacity="0.7"/>
<circle cx="240.8" cy="369.01" r="0.98" fill="#9ad3dc" opacity="0.7"/>
<circle cx="242.24" cy="367.95" r="0.56" fill="#9ad3dc" opacity="0.7"/>
<circle cx="246.5" cy="369.89" r="0.93" fill="#11404b" opacity="0.75"/>
<circle cx="246.8" cy="368.44" r="0.61" fill="#11404b" opacity="0.75"/>
<circle cx="246.41" cy="368.47" r="0.61" fill="#11404b" opacity="0.75"/>
<circle cx="247.95" cy="368.42" r="0.56" fill="#9ad3dc" opacity="0.7"/>
<circle cx="247.65" cy="369.49" r="0.67" fill="#9ad3dc" opacity="0.7"/>
<circle cx="247.26" cy="368.49" r="0.78" fill="#9ad3dc" opacity="0.7"/>
<circle cx="246.39" cy="371.16" r="0.69" fill="#11404b" opacity="0.75"/>
<circle cx="246.97" cy="371.98" r="0.93" fill="#11404b" opacity="0.75"/>
<circle cx="246.94" cy="370.82" r="0.94" fill="#11404b" opacity="0.75"/>
<circle cx="246.46" cy="371.68" r="0.69" fill="#9ad3dc" opacity="0.7"/>
<circle cx="246.96" cy="371.71" r="0.75" fill="#9ad3dc" opacity="0.7"/>
<circle cx="245.69" cy="371.77" r="0.68" fill="#9ad3dc" opacity="0.7"/>
<circle cx="215.7" cy="377.4" r="4.4" fill="#86243f" stroke="#1c060c" stroke-width="0.8"/>
<circle cx="214.6" cy="376.08" r="2.2" fill="#a8405c" opacity="0.7"/>
<circle cx="304.37" cy="365.83" r="4.68" fill="#041115"/>
<circle cx="306.47" cy="366.77" r="3.15" fill="#041115"/>
<circle cx="306.88" cy="363.02" r="5.58" fill="#041115"/>
<circle cx="304.12" cy="362.38" r="3.54" fill="#041115"/>
<circle cx="307.17" cy="358.74" r="4.6" fill="#041115"/>
<circle cx="309.69" cy="356.28" r="5.46" fill="#041115"/>
<circle cx="308.67" cy="358.86" r="3.88" fill="#041115"/>
<circle cx="311.17" cy="353.01" r="5.34" fill="#041115"/>
<circle cx="309.05" cy="351.35" r="3.85" fill="#041115"/>
<circle cx="311.48" cy="348.96" r="5.04" fill="#041115"/>
<circle cx="313.79" cy="347.95" r="3.85" fill="#041115"/>
<circle cx="303.68" cy="367.65" r="5.09" fill="#041115"/>
<circle cx="305.56" cy="365.94" r="3.87" fill="#041115"/>
<circle cx="299.86" cy="367.49" r="5.04" fill="#041115"/>
<circle cx="301.19" cy="369.63" r="3.27" fill="#041115"/>
<circle cx="295.27" cy="366.94" r="5.44" fill="#041115"/>
<circle cx="294.75" cy="369.65" r="3.76" fill="#041115"/>
<circle cx="291.75" cy="368.8" r="4.99" fill="#041115"/>
<circle cx="289.63" cy="370.09" r="3.13" fill="#041115"/>
<circle cx="304.64" cy="367.77" r="5.21" fill="#041115"/>
<circle cx="306.59" cy="371.4" r="4.79" fill="#041115"/>
<circle cx="308.78" cy="372.29" r="3.05" fill="#041115"/>
<circle cx="308.18" cy="373.08" r="5.38" fill="#041115"/>
<circle cx="309.38" cy="375.52" r="3.63" fill="#041115"/>
<circle cx="309.82" cy="376.88" r="4.43" fill="#041115"/>
<circle cx="311.74" cy="378.23" r="5.34" fill="#041115"/>
<circle cx="314.37" cy="377.66" r="3.97" fill="#041115"/>
<circle cx="304.37" cy="365.83" r="3.83" fill="#2d7282"/>
<circle cx="306.47" cy="366.77" r="2.3" fill="#2d7282"/>
<circle cx="306.88" cy="363.02" r="4.73" fill="#2d7282"/>
<circle cx="304.12" cy="362.38" r="2.69" fill="#2d7282"/>
<circle cx="307.17" cy="358.74" r="3.75" fill="#2d7282"/>
<circle cx="309.69" cy="356.28" r="4.61" fill="#2d7282"/>
<circle cx="308.67" cy="358.86" r="3.03" fill="#2d7282"/>
<circle cx="311.17" cy="353.01" r="4.49" fill="#2d7282"/>
<circle cx="309.05" cy="351.35" r="3" fill="#2d7282"/>
<circle cx="311.48" cy="348.96" r="4.19" fill="#2d7282"/>
<circle cx="313.79" cy="347.95" r="3" fill="#2d7282"/>
<circle cx="303.68" cy="367.65" r="4.24" fill="#2d7282"/>
<circle cx="305.56" cy="365.94" r="3.02" fill="#2d7282"/>
<circle cx="299.86" cy="367.49" r="4.19" fill="#2d7282"/>
<circle cx="301.19" cy="369.63" r="2.42" fill="#2d7282"/>
<circle cx="295.27" cy="366.94" r="4.59" fill="#2d7282"/>
<circle cx="294.75" cy="369.65" r="2.91" fill="#2d7282"/>
<circle cx="291.75" cy="368.8" r="4.14" fill="#2d7282"/>
<circle cx="289.63" cy="370.09" r="2.28" fill="#2d7282"/>
<circle cx="304.64" cy="367.77" r="4.36" fill="#2d7282"/>
<circle cx="306.59" cy="371.4" r="3.94" fill="#2d7282"/>
<circle cx="308.78" cy="372.29" r="2.2" fill="#2d7282"/>
<circle cx="308.18" cy="373.08" r="4.53" fill="#2d7282"/>
<circle cx="309.38" cy="375.52" r="2.78" fill="#2d7282"/>
<circle cx="309.82" cy="376.88" r="3.58" fill="#2d7282"/>
<circle cx="311.74" cy="378.23" r="4.49" fill="#2d7282"/>
<circle cx="314.37" cy="377.66" r="3.12" fill="#2d7282"/>
<circle cx="301.92" cy="367.38" r="0.87" fill="#11404b" opacity="0.75"/>
<circle cx="304.74" cy="365.01" r="0.61" fill="#11404b" opacity="0.75"/>
<circle cx="303.97" cy="365.98" r="0.73" fill="#11404b" opacity="0.75"/>
<circle cx="304.81" cy="365.06" r="0.5" fill="#9ad3dc" opacity="0.7"/>
<circle cx="303.92" cy="366.08" r="0.89" fill="#9ad3dc" opacity="0.7"/>
<circle cx="303.63" cy="365.53" r="0.55" fill="#9ad3dc" opacity="0.7"/>
<circle cx="307.24" cy="366.68" r="0.62" fill="#11404b" opacity="0.75"/>
<circle cx="306.56" cy="366.8" r="0.6" fill="#11404b" opacity="0.75"/>
<circle cx="306.34" cy="366.52" r="0.52" fill="#11404b" opacity="0.75"/>
<circle cx="306.14" cy="366.46" r="1" fill="#9ad3dc" opacity="0.7"/>
<circle cx="305.66" cy="367" r="0.89" fill="#9ad3dc" opacity="0.7"/>
<circle cx="305.19" cy="366.02" r="0.74" fill="#9ad3dc" opacity="0.7"/>
<circle cx="306.96" cy="364.58" r="0.52" fill="#11404b" opacity="0.75"/>
<circle cx="306.05" cy="363.47" r="1.03" fill="#11404b" opacity="0.75"/>
<circle cx="307.8" cy="361.38" r="0.52" fill="#11404b" opacity="0.75"/>
<circle cx="306.06" cy="362.95" r="0.6" fill="#9ad3dc" opacity="0.7"/>
<circle cx="304.19" cy="362.95" r="0.57" fill="#9ad3dc" opacity="0.7"/>
<circle cx="304.35" cy="364.35" r="0.78" fill="#9ad3dc" opacity="0.7"/>
<circle cx="304.98" cy="362.32" r="1.04" fill="#11404b" opacity="0.75"/>
<circle cx="303.15" cy="360.97" r="0.95" fill="#11404b" opacity="0.75"/>
<circle cx="303.92" cy="362.38" r="0.63" fill="#11404b" opacity="0.75"/>
<circle cx="304.54" cy="360.85" r="0.96" fill="#9ad3dc" opacity="0.7"/>
<circle cx="302.99" cy="362" r="0.9" fill="#9ad3dc" opacity="0.7"/>
<circle cx="303.58" cy="361.04" r="0.76" fill="#9ad3dc" opacity="0.7"/>
<circle cx="306.01" cy="357.04" r="0.66" fill="#11404b" opacity="0.75"/>
<circle cx="309.71" cy="357.41" r="0.54" fill="#11404b" opacity="0.75"/>
<circle cx="310.01" cy="358.22" r="0.9" fill="#11404b" opacity="0.75"/>
<circle cx="305.24" cy="359.8" r="0.56" fill="#9ad3dc" opacity="0.7"/>
<circle cx="308.02" cy="357.32" r="0.53" fill="#9ad3dc" opacity="0.7"/>
<circle cx="305.61" cy="358.99" r="0.78" fill="#9ad3dc" opacity="0.7"/>
<circle cx="309.62" cy="352.86" r="0.63" fill="#11404b" opacity="0.75"/>
<circle cx="313.09" cy="356.35" r="0.51" fill="#11404b" opacity="0.75"/>
<circle cx="310" cy="355.98" r="0.99" fill="#11404b" opacity="0.75"/>
<circle cx="309.73" cy="353.64" r="0.78" fill="#9ad3dc" opacity="0.7"/>
<circle cx="309.88" cy="355.62" r="0.84" fill="#9ad3dc" opacity="0.7"/>
<circle cx="307.13" cy="355.47" r="0.89" fill="#9ad3dc" opacity="0.7"/>
<circle cx="307.42" cy="359.08" r="0.52" fill="#11404b" opacity="0.75"/>
<circle cx="310.08" cy="359.16" r="0.79" fill="#11404b" opacity="0.75"/>
<circle cx="309.65" cy="357.75" r="0.58" fill="#11404b" opacity="0.75"/>
<circle cx="307.26" cy="358.26" r="0.76" fill="#9ad3dc" opacity="0.7"/>
<circle cx="307.3" cy="359.79" r="0.91" fill="#9ad3dc" opacity="0.7"/>
<circle cx="307.64" cy="359.28" r="0.69" fill="#9ad3dc" opacity="0.7"/>
<circle cx="311.43" cy="351.92" r="0.64" fill="#11404b" opacity="0.75"/>
<circle cx="307.71" cy="353.3" r="0.56" fill="#11404b" opacity="0.75"/>
<circle cx="312.84" cy="354.48" r="1.03" fill="#11404b" opacity="0.75"/>
<circle cx="310.27" cy="352.04" r="0.93" fill="#9ad3dc" opacity="0.7"/>
<circle cx="311.17" cy="352.72" r="0.94" fill="#9ad3dc" opacity="0.7"/>
<circle cx="310.22" cy="353.08" r="0.92" fill="#9ad3dc" opacity="0.7"/>
<circle cx="307.36" cy="352.24" r="0.6" fill="#11404b" opacity="0.75"/>
<circle cx="309.35" cy="351.05" r="0.59" fill="#11404b" opacity="0.75"/>
<circle cx="308.24" cy="351.38" r="0.83" fill="#11404b" opacity="0.75"/>
<circle cx="309.54" cy="350.02" r="0.5" fill="#9ad3dc" opacity="0.7"/>
<circle cx="307.98" cy="351.07" r="0.74" fill="#9ad3dc" opacity="0.7"/>
<circle cx="308.88" cy="350.37" r="0.54" fill="#9ad3dc" opacity="0.7"/>
<circle cx="311.57" cy="351.8" r="0.71" fill="#11404b" opacity="0.75"/>
<circle cx="311.83" cy="345.67" r="0.88" fill="#11404b" opacity="0.75"/>
<circle cx="310.58" cy="347.13" r="0.69" fill="#11404b" opacity="0.75"/>
<circle cx="311.98" cy="347.73" r="0.96" fill="#9ad3dc" opacity="0.7"/>
<circle cx="309.18" cy="348.4" r="0.89" fill="#9ad3dc" opacity="0.7"/>
<circle cx="310.92" cy="347.83" r="0.57" fill="#9ad3dc" opacity="0.7"/>
<circle cx="313.9" cy="347.09" r="0.9" fill="#11404b" opacity="0.75"/>
<circle cx="313.92" cy="348.1" r="0.59" fill="#11404b" opacity="0.75"/>
<circle cx="313.94" cy="347.56" r="1.04" fill="#11404b" opacity="0.75"/>
<circle cx="312.73" cy="347.47" r="0.68" fill="#9ad3dc" opacity="0.7"/>
<circle cx="313.67" cy="347.71" r="0.7" fill="#9ad3dc" opacity="0.7"/>
<circle cx="313.98" cy="347.56" r="0.83" fill="#9ad3dc" opacity="0.7"/>
<circle cx="303.21" cy="368.56" r="0.51" fill="#11404b" opacity="0.75"/>
<circle cx="306.88" cy="368.06" r="1" fill="#11404b" opacity="0.75"/>
<circle cx="304.55" cy="365.05" r="1.07" fill="#11404b" opacity="0.75"/>
<circle cx="302.05" cy="367.95" r="0.75" fill="#9ad3dc" opacity="0.7"/>
<circle cx="302.27" cy="365.48" r="0.88" fill="#9ad3dc" opacity="0.7"/>
<circle cx="303.89" cy="367.3" r="0.83" fill="#9ad3dc" opacity="0.7"/>
<circle cx="304.75" cy="364.33" r="0.87" fill="#11404b" opacity="0.75"/>
<circle cx="305.92" cy="365.3" r="1.06" fill="#11404b" opacity="0.75"/>
<circle cx="304.36" cy="366.74" r="1.04" fill="#11404b" opacity="0.75"/>
<circle cx="305.42" cy="365.28" r="0.62" fill="#9ad3dc" opacity="0.7"/>
<circle cx="304.35" cy="365.57" r="1" fill="#9ad3dc" opacity="0.7"/>
<circle cx="305.85" cy="365.14" r="0.7" fill="#9ad3dc" opacity="0.7"/>
<circle cx="300.25" cy="366.62" r="0.75" fill="#11404b" opacity="0.75"/>
<circle cx="300.48" cy="367.54" r="0.82" fill="#11404b" opacity="0.75"/>
<circle cx="299.14" cy="365.56" r="0.72" fill="#11404b" opacity="0.75"/>
<circle cx="300.68" cy="365.96" r="0.58" fill="#9ad3dc" opacity="0.7"/>
<circle cx="297.46" cy="368.62" r="0.99" fill="#9ad3dc" opacity="0.7"/>
<circle cx="300.52" cy="365.94" r="0.66" fill="#9ad3dc" opacity="0.7"/>
<circle cx="301.61" cy="369.9" r="0.63" fill="#11404b" opacity="0.75"/>
<circle cx="302.74" cy="368.87" r="0.97" fill="#11404b" opacity="0.75"/>
<circle cx="301.47" cy="370" r="0.68" fill="#11404b" opacity="0.75"/>
<circle cx="301.35" cy="369.32" r="0.9" fill="#9ad3dc" opacity="0.7"/>
<circle cx="300.95" cy="368.76" r="0.98" fill="#9ad3dc" opacity="0.7"/>
<circle cx="300.33" cy="369.53" r="0.58" fill="#9ad3dc" opacity="0.7"/>
<circle cx="295.36" cy="367.01" r="0.69" fill="#11404b" opacity="0.75"/>
<circle cx="295.43" cy="367.1" r="1.1" fill="#11404b" opacity="0.75"/>
<circle cx="294.47" cy="370.11" r="0.92" fill="#11404b" opacity="0.75"/>
<circle cx="295.01" cy="364.97" r="0.98" fill="#9ad3dc" opacity="0.7"/>
<circle cx="295.88" cy="364.85" r="0.78" fill="#9ad3dc" opacity="0.7"/>
<circle cx="294.75" cy="364.81" r="0.78" fill="#9ad3dc" opacity="0.7"/>
<circle cx="294.39" cy="369.64" r="1.01" fill="#11404b" opacity="0.75"/>
<circle cx="294.59" cy="369.66" r="0.6" fill="#11404b" opacity="0.75"/>
<circle cx="295.17" cy="369.22" r="0.73" fill="#11404b" opacity="0.75"/>
<circle cx="294.31" cy="368.06" r="0.66" fill="#9ad3dc" opacity="0.7"/>
<circle cx="293.98" cy="369.26" r="0.51" fill="#9ad3dc" opacity="0.7"/>
<circle cx="294.78" cy="369.52" r="0.98" fill="#9ad3dc" opacity="0.7"/>
<circle cx="292.05" cy="369.22" r="1.01" fill="#11404b" opacity="0.75"/>
<circle cx="292.09" cy="368.11" r="0.83" fill="#11404b" opacity="0.75"/>
<circle cx="289.39" cy="369.14" r="0.61" fill="#11404b" opacity="0.75"/>
<circle cx="292.11" cy="366.14" r="0.85" fill="#9ad3dc" opacity="0.7"/>
<circle cx="292.75" cy="366.47" r="0.69" fill="#9ad3dc" opacity="0.7"/>
<circle cx="292.19" cy="366.58" r="0.79" fill="#9ad3dc" opacity="0.7"/>
<circle cx="290.51" cy="370.79" r="1.05" fill="#11404b" opacity="0.75"/>
<circle cx="289.23" cy="371.2" r="1.04" fill="#11404b" opacity="0.75"/>
<circle cx="289.57" cy="370.05" r="0.88" fill="#11404b" opacity="0.75"/>
<circle cx="288.35" cy="369.97" r="0.83" fill="#9ad3dc" opacity="0.7"/>
<circle cx="288.33" cy="369.77" r="0.81" fill="#9ad3dc" opacity="0.7"/>
<circle cx="288.44" cy="369.68" r="0.95" fill="#9ad3dc" opacity="0.7"/>
<circle cx="307.05" cy="365.86" r="0.9" fill="#11404b" opacity="0.75"/>
<circle cx="303.98" cy="365.77" r="0.82" fill="#11404b" opacity="0.75"/>
<circle cx="305.87" cy="367.67" r="0.55" fill="#11404b" opacity="0.75"/>
<circle cx="304.38" cy="366.33" r="0.77" fill="#9ad3dc" opacity="0.7"/>
<circle cx="304.26" cy="367.09" r="0.6" fill="#9ad3dc" opacity="0.7"/>
<circle cx="302.61" cy="368.69" r="0.95" fill="#9ad3dc" opacity="0.7"/>
<circle cx="306.47" cy="371.05" r="1.09" fill="#11404b" opacity="0.75"/>
<circle cx="307.34" cy="369.97" r="0.5" fill="#11404b" opacity="0.75"/>
<circle cx="307.69" cy="369.76" r="0.87" fill="#11404b" opacity="0.75"/>
<circle cx="305" cy="372.44" r="0.52" fill="#9ad3dc" opacity="0.7"/>
<circle cx="306.25" cy="371.09" r="0.68" fill="#9ad3dc" opacity="0.7"/>
<circle cx="307.2" cy="369.55" r="0.91" fill="#9ad3dc" opacity="0.7"/>
<circle cx="308.58" cy="372.94" r="0.86" fill="#11404b" opacity="0.75"/>
<circle cx="309.49" cy="372.44" r="1.08" fill="#11404b" opacity="0.75"/>
<circle cx="308.82" cy="370.77" r="0.68" fill="#11404b" opacity="0.75"/>
<circle cx="308.5" cy="371.18" r="0.85" fill="#9ad3dc" opacity="0.7"/>
<circle cx="308.51" cy="372.1" r="0.51" fill="#9ad3dc" opacity="0.7"/>
<circle cx="309.19" cy="371.02" r="0.64" fill="#9ad3dc" opacity="0.7"/>
<circle cx="308.24" cy="371.61" r="0.88" fill="#11404b" opacity="0.75"/>
<circle cx="308.82" cy="372.1" r="0.87" fill="#11404b" opacity="0.75"/>
<circle cx="308.12" cy="374.93" r="0.52" fill="#11404b" opacity="0.75"/>
<circle cx="307.27" cy="372.97" r="0.96" fill="#9ad3dc" opacity="0.7"/>
<circle cx="306" cy="373.65" r="0.54" fill="#9ad3dc" opacity="0.7"/>
<circle cx="308.5" cy="372.6" r="0.55" fill="#9ad3dc" opacity="0.7"/>
<circle cx="309.88" cy="377.54" r="0.9" fill="#11404b" opacity="0.75"/>
<circle cx="310.24" cy="374.82" r="0.57" fill="#11404b" opacity="0.75"/>
<circle cx="308.83" cy="376.38" r="1.09" fill="#11404b" opacity="0.75"/>
<circle cx="308.87" cy="375.6" r="0.92" fill="#9ad3dc" opacity="0.7"/>
<circle cx="307.7" cy="376.05" r="0.65" fill="#9ad3dc" opacity="0.7"/>
<circle cx="308.69" cy="374.5" r="0.95" fill="#9ad3dc" opacity="0.7"/>
<circle cx="311.97" cy="377.99" r="0.61" fill="#11404b" opacity="0.75"/>
<circle cx="309.8" cy="376.81" r="0.96" fill="#11404b" opacity="0.75"/>
<circle cx="310.06" cy="377.42" r="0.52" fill="#11404b" opacity="0.75"/>
<circle cx="309.02" cy="376.65" r="0.99" fill="#9ad3dc" opacity="0.7"/>
<circle cx="309.39" cy="376.08" r="1" fill="#9ad3dc" opacity="0.7"/>
<circle cx="309.24" cy="376.97" r="0.98" fill="#9ad3dc" opacity="0.7"/>
<circle cx="314.08" cy="377.49" r="1.09" fill="#11404b" opacity="0.75"/>
<circle cx="314.77" cy="379.38" r="0.92" fill="#11404b" opacity="0.75"/>
<circle cx="310.24" cy="375.59" r="0.56" fill="#11404b" opacity="0.75"/>
<circle cx="311.25" cy="378.26" r="0.74" fill="#9ad3dc" opacity="0.7"/>
<circle cx="310.75" cy="376.94" r="0.68" fill="#9ad3dc" opacity="0.7"/>
<circle cx="311.5" cy="375.78" r="0.88" fill="#9ad3dc" opacity="0.7"/>
<circle cx="314.74" cy="377.75" r="0.63" fill="#11404b" opacity="0.75"/>
<circle cx="314.47" cy="379.08" r="0.62" fill="#11404b" opacity="0.75"/>
<circle cx="313.76" cy="377.05" r="0.72" fill="#11404b" opacity="0.75"/>
<circle cx="313.99" cy="375.78" r="0.6" fill="#9ad3dc" opacity="0.7"/>
<circle cx="312.5" cy="376.96" r="0.61" fill="#9ad3dc" opacity="0.7"/>
<circle cx="313.97" cy="377.9" r="0.91" fill="#9ad3dc" opacity="0.7"/>
<circle cx="276.5" cy="378.3" r="5" fill="#86243f" stroke="#1c060c" stroke-width="0.8"/>
<circle cx="275.25" cy="376.8" r="2.5" fill="#a8405c" opacity="0.7"/>
<text x="353.8" y="329.9" font-size="11.5" font-weight="bold" >f</text>
<rect x="401.3" y="334.8" width="283.2" height="151.4" fill="#b00020" stroke="none" stroke-width="1" />
<polygon points="401.3,335.2 450,335.6 500,336.4 530,338.5 541,339.6 554,341.1 564,339.9 594,348.1 610,345.2 620,343.5 640,341.4 660,339.6 684.5,338.1 684.5,486.2 401.3,486.2" fill="#c8d8f8"/>
<polygon points="401.3,335.8 450,336.8 500,338.5 530,341.5 541,342.8 554,344.6 564,344 594,352.2 610,349.3 620,347.8 640,345.9 660,344 684.5,342.4 684.5,486.2 401.3,486.2" fill="#de78a2"/>
<polygon points="401.3,336.4 450,338 500,341 530,345.5 541,346.9 554,348.7 564,348.1 594,355.7 610,353.4 620,351.8 640,349.9 660,348.3 684.5,346.7 684.5,486.2 401.3,486.2" fill="#5560be"/>
<polygon points="410.8,486.2 438.8,466.9 447.5,466.9 477.8,435.3 486.5,435.3 489.7,430.7 500,414 513.4,395.2 521,386.5 529.1,379.4 536,374 541,370.6 548,365 554,362.1 564,361.5 570.9,358 579,357.1 594,358 610,356.6 640,355.4 684.5,354.8 684.5,486.2" fill="#fa8c48"/>
<rect x="401.3" y="334.7" width="283.2" height="151.5" fill="none" stroke="#9a9a9a" stroke-width="0.9" />
<line x1="396.3" y1="334.8" x2="401.3" y2="334.8" stroke="#555" stroke-width="0.8" />
<text transform="translate(392.1,338.35) scale(1,1.16)" font-size="10.0" text-anchor="end" >1.0</text>
<line x1="396.3" y1="365.1" x2="401.3" y2="365.1" stroke="#555" stroke-width="0.8" />
<text transform="translate(392.1,368.65) scale(1,1.16)" font-size="10.0" text-anchor="end" >0.8</text>
<line x1="396.3" y1="395.4" x2="401.3" y2="395.4" stroke="#555" stroke-width="0.8" />
<text transform="translate(392.1,398.95) scale(1,1.16)" font-size="10.0" text-anchor="end" >0.6</text>
<line x1="396.3" y1="425.7" x2="401.3" y2="425.7" stroke="#555" stroke-width="0.8" />
<text transform="translate(392.1,429.25) scale(1,1.16)" font-size="10.0" text-anchor="end" >0.4</text>
<line x1="396.3" y1="456" x2="401.3" y2="456" stroke="#555" stroke-width="0.8" />
<text transform="translate(392.1,459.55) scale(1,1.16)" font-size="10.0" text-anchor="end" >0.2</text>
<line x1="396.3" y1="486.3" x2="401.3" y2="486.3" stroke="#555" stroke-width="0.8" />
<text transform="translate(392.1,489.85) scale(1,1.16)" font-size="10.0" text-anchor="end" >0</text>
<line x1="401.3" y1="486.2" x2="401.3" y2="489.7" stroke="#555" stroke-width="0.8" />
<text transform="translate(401.3,504.05) scale(1,1.16)" font-size="10.0" text-anchor="middle" >0</text>
<line x1="450.45" y1="486.2" x2="450.45" y2="489.7" stroke="#555" stroke-width="0.8" />
<text transform="translate(450.45,504.05) scale(1,1.16)" font-size="10.0" text-anchor="middle" >500</text>
<line x1="499.6" y1="486.2" x2="499.6" y2="489.7" stroke="#555" stroke-width="0.8" />
<text transform="translate(499.6,504.05) scale(1,1.16)" font-size="10.0" text-anchor="middle" >1,000</text>
<line x1="548.75" y1="486.2" x2="548.75" y2="489.7" stroke="#555" stroke-width="0.8" />
<text transform="translate(548.75,504.05) scale(1,1.16)" font-size="10.0" text-anchor="middle" >1,500</text>
<line x1="597.9" y1="486.2" x2="597.9" y2="489.7" stroke="#555" stroke-width="0.8" />
<text transform="translate(597.9,504.05) scale(1,1.16)" font-size="10.0" text-anchor="middle" >2,000</text>
<line x1="647.05" y1="486.2" x2="647.05" y2="489.7" stroke="#555" stroke-width="0.8" />
<text transform="translate(647.05,504.05) scale(1,1.16)" font-size="10.0" text-anchor="middle" >2,500</text>
<text transform="translate(543.5,521.05) scale(1,1.16)" font-size="10.0" text-anchor="middle" ><tspan font-style="italic">t</tspan> (s)</text>
<text transform="translate(368.45,409.2) rotate(-90) scale(1,1.16)" font-size="10.0" text-anchor="middle" >State probability, <tspan font-style="italic">p</tspan><tspan font-size="7" dy="2">i</tspan><tspan dy="-2"> </tspan></text>
<rect x="402.8" y="337" width="138.3" height="93.1" rx="2.5" fill="#fff" fill-opacity="0.8"/>
<rect x="407" y="345.3" width="18" height="7.4" fill="#fa8c48" stroke="#333" stroke-width="0.8" />
<text transform="translate(428.6,352.55) scale(1,1.16)" font-size="10.0" text-anchor="start" ><tspan font-style="italic">σ</tspan><tspan font-size="7.4" dy="2.5">3</tspan><tspan dy="-2.5"> </tspan>: <tspan font-style="italic">ϕ</tspan><tspan font-size="7.4" dy="2.5">3</tspan><tspan dy="-2.5"> </tspan> = 1, <tspan font-style="italic">p</tspan><tspan font-size="6.6" dy="-5.2" font-style="italic">t</tspan><tspan font-size="4.3" dy="1.3">final</tspan><tspan font-size="7.4" dx="-9.8" dy="6.4">3</tspan><tspan dy="-2.5" dx="5.7"> </tspan>= 0.866</text>
<rect x="407" y="362.85" width="18" height="7.4" fill="#5560be" stroke="#333" stroke-width="0.8" />
<text transform="translate(428.6,370.1) scale(1,1.16)" font-size="10.0" text-anchor="start" ><tspan font-style="italic">σ</tspan><tspan font-size="7.4" dy="2.5">0</tspan><tspan dy="-2.5"> </tspan>: <tspan font-style="italic">ϕ</tspan><tspan font-size="7.4" dy="2.5">0</tspan><tspan dy="-2.5"> </tspan> = 0, <tspan font-style="italic">p</tspan><tspan font-size="6.6" dy="-5.2" font-style="italic">t</tspan><tspan font-size="4.3" dy="1.3">final</tspan><tspan font-size="7.4" dx="-9.8" dy="6.4">0</tspan><tspan dy="-2.5" dx="5.7"> </tspan>= 0.055</text>
<rect x="407" y="380.4" width="18" height="7.4" fill="#de78a2" stroke="#333" stroke-width="0.8" />
<text transform="translate(428.6,387.65) scale(1,1.16)" font-size="10.0" text-anchor="start" ><tspan font-style="italic">σ</tspan><tspan font-size="7.4" dy="2.5">2</tspan><tspan dy="-2.5"> </tspan>: <tspan font-style="italic">ϕ</tspan><tspan font-size="7.4" dy="2.5">2</tspan><tspan dy="-2.5"> </tspan> = 1, <tspan font-style="italic">p</tspan><tspan font-size="6.6" dy="-5.2" font-style="italic">t</tspan><tspan font-size="4.3" dy="1.3">final</tspan><tspan font-size="7.4" dx="-9.8" dy="6.4">0</tspan><tspan dy="-2.5" dx="5.7"> </tspan>= 0.030</text>
<rect x="407" y="397.95" width="18" height="7.4" fill="#c8d8f8" stroke="#333" stroke-width="0.8" />
<text transform="translate(428.6,405.2) scale(1,1.16)" font-size="10.0" text-anchor="start" ><tspan font-style="italic">σ</tspan><tspan font-size="7.4" dy="2.5">1</tspan><tspan dy="-2.5"> </tspan>: <tspan font-style="italic">ϕ</tspan><tspan font-size="7.4" dy="2.5">1</tspan><tspan dy="-2.5"> </tspan> = 1, <tspan font-style="italic">p</tspan><tspan font-size="6.6" dy="-5.2" font-style="italic">t</tspan><tspan font-size="4.3" dy="1.3">final</tspan><tspan font-size="7.4" dx="-9.8" dy="6.4">1</tspan><tspan dy="-2.5" dx="5.7"> </tspan>= 0.030</text>
<rect x="407" y="415.5" width="18" height="7.4" fill="#b00020" stroke="#333" stroke-width="0.8" />
<text transform="translate(428.6,422.75) scale(1,1.16)" font-size="10.0" text-anchor="start" ><tspan font-style="italic">σ</tspan><tspan font-size="7.4" dy="2.5">4</tspan><tspan dy="-2.5"> </tspan>: <tspan font-style="italic">ϕ</tspan><tspan font-size="7.4" dy="2.5">4</tspan><tspan dy="-2.5"> </tspan> = 2, <tspan font-style="italic">p</tspan><tspan font-size="6.6" dy="-5.2" font-style="italic">t</tspan><tspan font-size="4.3" dy="1.3">final</tspan><tspan font-size="7.4" dx="-9.8" dy="6.4">4</tspan><tspan dy="-2.5" dx="5.7"> </tspan>= 0.019</text>
<rect x="553.65" y="385.65" width="59.7" height="44" rx="4.2" ry="4.2" fill="#5560be" stroke="#000" stroke-width="2.5"/>
<text transform="translate(610.1,394.2) scale(1,1.16)" font-size="9.5" text-anchor="end" ><tspan font-style="italic">σ</tspan><tspan font-size="7" dy="2">0</tspan></text>
<rect x="618.15" y="385.65" width="60.1" height="44" rx="4.2" ry="4.2" fill="#de78a2" stroke="#000" stroke-width="2.5"/>
<text transform="translate(675,394.2) scale(1,1.16)" font-size="9.5" text-anchor="end" ><tspan font-style="italic">σ</tspan><tspan font-size="7" dy="2">2</tspan></text>
<rect x="490.45" y="435.25" width="59.1" height="44.1" rx="4.2" ry="4.2" fill="#fa8c48" stroke="#000" stroke-width="2.5"/>
<text transform="translate(546.3,443.8) scale(1,1.16)" font-size="9.5" text-anchor="end" ><tspan font-style="italic">σ</tspan><tspan font-size="7" dy="2">3</tspan></text>
<rect x="554.45" y="435.25" width="59.1" height="44.1" rx="4.2" ry="4.2" fill="#b00020" stroke="#000" stroke-width="2.5"/>
<text transform="translate(610.3,443.8) scale(1,1.16)" font-size="9.5" text-anchor="end" ><tspan font-style="italic">σ</tspan><tspan font-size="7" dy="2">4</tspan></text>
<rect x="618.25" y="435.25" width="60.9" height="44.1" rx="4.2" ry="4.2" fill="#c8d8f8" stroke="#000" stroke-width="2.5"/>
<text transform="translate(675.9,443.8) scale(1,1.16)" font-size="9.5" text-anchor="end" ><tspan font-style="italic">σ</tspan><tspan font-size="7" dy="2">1</tspan></text>
<circle cx="569.09" cy="404.17" r="4.5" fill="#041115"/>
<circle cx="567.08" cy="400.77" r="4.63" fill="#041115"/>
<circle cx="569.2" cy="399.98" r="3.35" fill="#041115"/>
<circle cx="563.48" cy="399.3" r="4.81" fill="#041115"/>
<circle cx="561.19" cy="398.66" r="3.4" fill="#041115"/>
<circle cx="561.35" cy="396.82" r="3.82" fill="#041115"/>
<circle cx="558.96" cy="395.48" r="4.66" fill="#041115"/>
<circle cx="557.26" cy="393.94" r="2.88" fill="#041115"/>
<circle cx="569.29" cy="403.24" r="3.81" fill="#041115"/>
<circle cx="571.06" cy="403.04" r="2.98" fill="#041115"/>
<circle cx="572.21" cy="403.36" r="4.13" fill="#041115"/>
<circle cx="572.76" cy="405.25" r="3.26" fill="#041115"/>
<circle cx="574.98" cy="403.53" r="4.58" fill="#041115"/>
<circle cx="573.54" cy="405.24" r="2.87" fill="#041115"/>
<circle cx="576.3" cy="402.18" r="3.97" fill="#041115"/>
<circle cx="578.18" cy="402.22" r="2.94" fill="#041115"/>
<circle cx="568.4" cy="404.21" r="4.19" fill="#041115"/>
<circle cx="567.59" cy="406.04" r="2.92" fill="#041115"/>
<circle cx="566.32" cy="406.79" r="4.59" fill="#041115"/>
<circle cx="566.31" cy="404.54" r="3.51" fill="#041115"/>
<circle cx="565.81" cy="408.14" r="3.83" fill="#041115"/>
<circle cx="567.6" cy="408.24" r="2.37" fill="#041115"/>
<circle cx="564.4" cy="410.19" r="4.01" fill="#041115"/>
<circle cx="562.71" cy="412.75" r="4.84" fill="#041115"/>
<circle cx="560.34" cy="412.38" r="3.62" fill="#041115"/>
<circle cx="569.09" cy="404.17" r="3.65" fill="#2d7282"/>
<circle cx="567.08" cy="400.77" r="3.78" fill="#2d7282"/>
<circle cx="569.2" cy="399.98" r="2.5" fill="#2d7282"/>
<circle cx="563.48" cy="399.3" r="3.96" fill="#2d7282"/>
<circle cx="561.19" cy="398.66" r="2.55" fill="#2d7282"/>
<circle cx="561.35" cy="396.82" r="2.97" fill="#2d7282"/>
<circle cx="558.96" cy="395.48" r="3.81" fill="#2d7282"/>
<circle cx="557.26" cy="393.94" r="2.03" fill="#2d7282"/>
<circle cx="569.29" cy="403.24" r="2.96" fill="#2d7282"/>
<circle cx="571.06" cy="403.04" r="2.13" fill="#2d7282"/>
<circle cx="572.21" cy="403.36" r="3.28" fill="#2d7282"/>
<circle cx="572.76" cy="405.25" r="2.41" fill="#2d7282"/>
<circle cx="574.98" cy="403.53" r="3.73" fill="#2d7282"/>
<circle cx="573.54" cy="405.24" r="2.02" fill="#2d7282"/>
<circle cx="576.3" cy="402.18" r="3.12" fill="#2d7282"/>
<circle cx="578.18" cy="402.22" r="2.09" fill="#2d7282"/>
<circle cx="568.4" cy="404.21" r="3.34" fill="#2d7282"/>
<circle cx="567.59" cy="406.04" r="2.07" fill="#2d7282"/>
<circle cx="566.32" cy="406.79" r="3.74" fill="#2d7282"/>
<circle cx="566.31" cy="404.54" r="2.66" fill="#2d7282"/>
<circle cx="565.81" cy="408.14" r="2.98" fill="#2d7282"/>
<circle cx="567.6" cy="408.24" r="1.52" fill="#2d7282"/>
<circle cx="564.4" cy="410.19" r="3.16" fill="#2d7282"/>
<circle cx="562.71" cy="412.75" r="3.99" fill="#2d7282"/>
<circle cx="560.34" cy="412.38" r="2.77" fill="#2d7282"/>
<circle cx="570.79" cy="405.55" r="0.98" fill="#11404b" opacity="0.75"/>
<circle cx="569.15" cy="404.09" r="1.07" fill="#11404b" opacity="0.75"/>
<circle cx="569.92" cy="404.71" r="0.87" fill="#11404b" opacity="0.75"/>
<circle cx="569.42" cy="403.37" r="0.96" fill="#9ad3dc" opacity="0.7"/>
<circle cx="568.59" cy="403.53" r="0.66" fill="#9ad3dc" opacity="0.7"/>
<circle cx="568.81" cy="404.21" r="0.57" fill="#9ad3dc" opacity="0.7"/>
<circle cx="565.95" cy="397.97" r="0.6" fill="#11404b" opacity="0.75"/>
<circle cx="569.92" cy="401.67" r="0.82" fill="#11404b" opacity="0.75"/>
<circle cx="566.48" cy="401.17" r="0.86" fill="#11404b" opacity="0.75"/>
<circle cx="567.24" cy="399.61" r="0.71" fill="#9ad3dc" opacity="0.7"/>
<circle cx="565.06" cy="401.8" r="0.52" fill="#9ad3dc" opacity="0.7"/>
<circle cx="565.58" cy="399.33" r="0.57" fill="#9ad3dc" opacity="0.7"/>
<circle cx="568.98" cy="398.09" r="0.88" fill="#11404b" opacity="0.75"/>
<circle cx="569.25" cy="399.77" r="0.76" fill="#11404b" opacity="0.75"/>
<circle cx="570.2" cy="401.35" r="0.68" fill="#11404b" opacity="0.75"/>
<circle cx="567.91" cy="398.99" r="0.93" fill="#9ad3dc" opacity="0.7"/>
<circle cx="569.62" cy="399.31" r="0.74" fill="#9ad3dc" opacity="0.7"/>
<circle cx="569.09" cy="399.16" r="0.65" fill="#9ad3dc" opacity="0.7"/>
<circle cx="563.1" cy="399.56" r="0.73" fill="#11404b" opacity="0.75"/>
<circle cx="566.51" cy="399.08" r="0.88" fill="#11404b" opacity="0.75"/>
<circle cx="562.41" cy="399.31" r="0.55" fill="#11404b" opacity="0.75"/>
<circle cx="561.47" cy="399.01" r="0.93" fill="#9ad3dc" opacity="0.7"/>
<circle cx="561.59" cy="398.52" r="0.89" fill="#9ad3dc" opacity="0.7"/>
<circle cx="563.08" cy="397.61" r="0.88" fill="#9ad3dc" opacity="0.7"/>
<circle cx="560.26" cy="399.74" r="0.67" fill="#11404b" opacity="0.75"/>
<circle cx="559.63" cy="398.8" r="0.91" fill="#11404b" opacity="0.75"/>
<circle cx="560.67" cy="400.51" r="0.89" fill="#11404b" opacity="0.75"/>
<circle cx="561.13" cy="398.56" r="0.77" fill="#9ad3dc" opacity="0.7"/>
<circle cx="560.05" cy="398.56" r="0.73" fill="#9ad3dc" opacity="0.7"/>
<circle cx="561.32" cy="397.55" r="0.9" fill="#9ad3dc" opacity="0.7"/>
<circle cx="560.46" cy="398.07" r="0.94" fill="#11404b" opacity="0.75"/>
<circle cx="561.74" cy="396.09" r="1.01" fill="#11404b" opacity="0.75"/>
<circle cx="562.47" cy="395.63" r="1.09" fill="#11404b" opacity="0.75"/>
<circle cx="561.86" cy="395.9" r="0.76" fill="#9ad3dc" opacity="0.7"/>
<circle cx="559.73" cy="397.08" r="0.97" fill="#9ad3dc" opacity="0.7"/>
<circle cx="560.32" cy="395.92" r="0.86" fill="#9ad3dc" opacity="0.7"/>
<circle cx="558.89" cy="394.96" r="0.97" fill="#11404b" opacity="0.75"/>
<circle cx="557.18" cy="394.49" r="0.75" fill="#11404b" opacity="0.75"/>
<circle cx="557.27" cy="393.82" r="0.88" fill="#11404b" opacity="0.75"/>
<circle cx="558.93" cy="395.31" r="0.58" fill="#9ad3dc" opacity="0.7"/>
<circle cx="557.62" cy="394.52" r="0.61" fill="#9ad3dc" opacity="0.7"/>
<circle cx="558.54" cy="393.93" r="0.52" fill="#9ad3dc" opacity="0.7"/>
<circle cx="556.9" cy="394" r="0.53" fill="#11404b" opacity="0.75"/>
<circle cx="557.61" cy="394.32" r="0.61" fill="#11404b" opacity="0.75"/>
<circle cx="557.28" cy="393.99" r="0.78" fill="#11404b" opacity="0.75"/>
<circle cx="556.5" cy="393.57" r="0.8" fill="#9ad3dc" opacity="0.7"/>
<circle cx="556.07" cy="393.88" r="0.5" fill="#9ad3dc" opacity="0.7"/>
<circle cx="556.88" cy="393.72" r="0.71" fill="#9ad3dc" opacity="0.7"/>
<circle cx="570.77" cy="404.54" r="0.72" fill="#11404b" opacity="0.75"/>
<circle cx="570.71" cy="403.56" r="0.56" fill="#11404b" opacity="0.75"/>
<circle cx="568.52" cy="403.01" r="0.85" fill="#11404b" opacity="0.75"/>
<circle cx="570.07" cy="401.84" r="0.71" fill="#9ad3dc" opacity="0.7"/>
<circle cx="569.42" cy="401.97" r="0.68" fill="#9ad3dc" opacity="0.7"/>
<circle cx="568.14" cy="403.5" r="0.78" fill="#9ad3dc" opacity="0.7"/>
<circle cx="572.65" cy="402.6" r="0.87" fill="#11404b" opacity="0.75"/>
<circle cx="570.16" cy="404.26" r="0.5" fill="#11404b" opacity="0.75"/>
<circle cx="571.81" cy="403.64" r="0.87" fill="#11404b" opacity="0.75"/>
<circle cx="570.18" cy="403.25" r="0.95" fill="#9ad3dc" opacity="0.7"/>
<circle cx="570.47" cy="402.76" r="0.61" fill="#9ad3dc" opacity="0.7"/>
<circle cx="569.74" cy="402.78" r="0.69" fill="#9ad3dc" opacity="0.7"/>
<circle cx="574.53" cy="402.78" r="0.86" fill="#11404b" opacity="0.75"/>
<circle cx="572.05" cy="405.93" r="0.8" fill="#11404b" opacity="0.75"/>
<circle cx="571.48" cy="403.79" r="1.09" fill="#11404b" opacity="0.75"/>
<circle cx="571.71" cy="402.89" r="0.74" fill="#9ad3dc" opacity="0.7"/>
<circle cx="570.9" cy="403.74" r="0.72" fill="#9ad3dc" opacity="0.7"/>
<circle cx="570.55" cy="403.03" r="0.91" fill="#9ad3dc" opacity="0.7"/>
<circle cx="573.78" cy="405.34" r="0.66" fill="#11404b" opacity="0.75"/>
<circle cx="574.14" cy="404.66" r="0.65" fill="#11404b" opacity="0.75"/>
<circle cx="572.72" cy="405.55" r="1.09" fill="#11404b" opacity="0.75"/>
<circle cx="571.78" cy="405.05" r="0.74" fill="#9ad3dc" opacity="0.7"/>
<circle cx="572.39" cy="404.33" r="0.87" fill="#9ad3dc" opacity="0.7"/>
<circle cx="571.59" cy="405.61" r="0.65" fill="#9ad3dc" opacity="0.7"/>
<circle cx="574" cy="403.32" r="0.68" fill="#11404b" opacity="0.75"/>
<circle cx="573.62" cy="403.27" r="0.72" fill="#11404b" opacity="0.75"/>
<circle cx="574.92" cy="401.77" r="0.52" fill="#11404b" opacity="0.75"/>
<circle cx="573.83" cy="403.43" r="0.96" fill="#9ad3dc" opacity="0.7"/>
<circle cx="575.4" cy="402.23" r="0.51" fill="#9ad3dc" opacity="0.7"/>
<circle cx="574.98" cy="402.44" r="0.79" fill="#9ad3dc" opacity="0.7"/>
<circle cx="573.28" cy="404.26" r="0.79" fill="#11404b" opacity="0.75"/>
<circle cx="574.07" cy="404.91" r="0.74" fill="#11404b" opacity="0.75"/>
<circle cx="573.73" cy="404.99" r="0.68" fill="#11404b" opacity="0.75"/>
<circle cx="573.57" cy="405.06" r="0.92" fill="#9ad3dc" opacity="0.7"/>
<circle cx="573.4" cy="404.63" r="0.64" fill="#9ad3dc" opacity="0.7"/>
<circle cx="573.55" cy="404.04" r="0.57" fill="#9ad3dc" opacity="0.7"/>
<circle cx="574.95" cy="402.37" r="0.8" fill="#11404b" opacity="0.75"/>
<circle cx="576.12" cy="402.52" r="0.85" fill="#11404b" opacity="0.75"/>
<circle cx="576.37" cy="402.02" r="0.64" fill="#11404b" opacity="0.75"/>
<circle cx="576.5" cy="400.57" r="0.83" fill="#9ad3dc" opacity="0.7"/>
<circle cx="575.04" cy="402.97" r="0.99" fill="#9ad3dc" opacity="0.7"/>
<circle cx="577.15" cy="401" r="0.52" fill="#9ad3dc" opacity="0.7"/>
<circle cx="578.38" cy="401.92" r="0.89" fill="#11404b" opacity="0.75"/>
<circle cx="579.31" cy="401.87" r="0.58" fill="#11404b" opacity="0.75"/>
<circle cx="577.77" cy="403.7" r="0.59" fill="#11404b" opacity="0.75"/>
<circle cx="577.89" cy="401.67" r="0.58" fill="#9ad3dc" opacity="0.7"/>
<circle cx="578.11" cy="402.08" r="0.55" fill="#9ad3dc" opacity="0.7"/>
<circle cx="578" cy="402.14" r="0.53" fill="#9ad3dc" opacity="0.7"/>
<circle cx="566.63" cy="403.31" r="1.03" fill="#11404b" opacity="0.75"/>
<circle cx="569.16" cy="405.07" r="0.69" fill="#11404b" opacity="0.75"/>
<circle cx="567.34" cy="403.44" r="1.06" fill="#11404b" opacity="0.75"/>
<circle cx="568.2" cy="404.12" r="0.85" fill="#9ad3dc" opacity="0.7"/>
<circle cx="567.02" cy="404.49" r="0.75" fill="#9ad3dc" opacity="0.7"/>
<circle cx="568.85" cy="403.05" r="0.81" fill="#9ad3dc" opacity="0.7"/>
<circle cx="567.52" cy="406.95" r="0.65" fill="#11404b" opacity="0.75"/>
<circle cx="567.6" cy="405.19" r="0.58" fill="#11404b" opacity="0.75"/>
<circle cx="567.65" cy="406.65" r="0.94" fill="#11404b" opacity="0.75"/>
<circle cx="566.61" cy="406.16" r="0.83" fill="#9ad3dc" opacity="0.7"/>
<circle cx="566.73" cy="406.39" r="0.55" fill="#9ad3dc" opacity="0.7"/>
<circle cx="566.78" cy="406.27" r="0.62" fill="#9ad3dc" opacity="0.7"/>
<circle cx="567.35" cy="405.78" r="0.69" fill="#11404b" opacity="0.75"/>
<circle cx="566.34" cy="406.7" r="0.94" fill="#11404b" opacity="0.75"/>
<circle cx="566.74" cy="406.93" r="1.07" fill="#11404b" opacity="0.75"/>
<circle cx="566.15" cy="406.19" r="0.56" fill="#9ad3dc" opacity="0.7"/>
<circle cx="567.18" cy="405.38" r="0.91" fill="#9ad3dc" opacity="0.7"/>
<circle cx="564.8" cy="407.14" r="0.68" fill="#9ad3dc" opacity="0.7"/>
<circle cx="566.38" cy="405.25" r="0.87" fill="#11404b" opacity="0.75"/>
<circle cx="565.84" cy="405.21" r="0.58" fill="#11404b" opacity="0.75"/>
<circle cx="566.99" cy="403.34" r="0.98" fill="#11404b" opacity="0.75"/>
<circle cx="565.08" cy="403.7" r="0.76" fill="#9ad3dc" opacity="0.7"/>
<circle cx="565.8" cy="403.64" r="0.87" fill="#9ad3dc" opacity="0.7"/>
<circle cx="566.09" cy="404.42" r="0.52" fill="#9ad3dc" opacity="0.7"/>
<circle cx="565.84" cy="408.23" r="1.03" fill="#11404b" opacity="0.75"/>
<circle cx="564.01" cy="408.35" r="0.5" fill="#11404b" opacity="0.75"/>
<circle cx="563.73" cy="408.53" r="0.87" fill="#11404b" opacity="0.75"/>
<circle cx="565.01" cy="407.61" r="0.55" fill="#9ad3dc" opacity="0.7"/>
<circle cx="565.43" cy="408.21" r="0.69" fill="#9ad3dc" opacity="0.7"/>
<circle cx="564.27" cy="407.37" r="0.58" fill="#9ad3dc" opacity="0.7"/>
<circle cx="567.59" cy="408.58" r="0.6" fill="#11404b" opacity="0.75"/>
<circle cx="567.53" cy="408.52" r="0.79" fill="#11404b" opacity="0.75"/>
<circle cx="568.7" cy="408.46" r="0.72" fill="#11404b" opacity="0.75"/>
<circle cx="567.91" cy="407.6" r="0.84" fill="#9ad3dc" opacity="0.7"/>
<circle cx="566.88" cy="407.63" r="0.56" fill="#9ad3dc" opacity="0.7"/>
<circle cx="567.49" cy="407.9" r="0.84" fill="#9ad3dc" opacity="0.7"/>
<circle cx="564.35" cy="409.78" r="0.62" fill="#11404b" opacity="0.75"/>
<circle cx="564.98" cy="410.28" r="0.55" fill="#11404b" opacity="0.75"/>
<circle cx="562.4" cy="411.62" r="0.72" fill="#11404b" opacity="0.75"/>
<circle cx="563.42" cy="409.94" r="0.64" fill="#9ad3dc" opacity="0.7"/>
<circle cx="564.21" cy="408.7" r="0.58" fill="#9ad3dc" opacity="0.7"/>
<circle cx="562.99" cy="410.12" r="0.97" fill="#9ad3dc" opacity="0.7"/>
<circle cx="561.87" cy="411.66" r="1.09" fill="#11404b" opacity="0.75"/>
<circle cx="562.9" cy="412.76" r="0.97" fill="#11404b" opacity="0.75"/>
<circle cx="562.59" cy="412.83" r="0.83" fill="#11404b" opacity="0.75"/>
<circle cx="563.49" cy="411.6" r="0.68" fill="#9ad3dc" opacity="0.7"/>
<circle cx="562.45" cy="412.85" r="0.95" fill="#9ad3dc" opacity="0.7"/>
<circle cx="560.94" cy="411.07" r="0.53" fill="#9ad3dc" opacity="0.7"/>
<circle cx="560.35" cy="412.49" r="0.74" fill="#11404b" opacity="0.75"/>
<circle cx="560.87" cy="412.59" r="0.74" fill="#11404b" opacity="0.75"/>
<circle cx="560.3" cy="412.49" r="0.52" fill="#11404b" opacity="0.75"/>
<circle cx="560.55" cy="412.04" r="0.75" fill="#9ad3dc" opacity="0.7"/>
<circle cx="559.46" cy="411.89" r="0.54" fill="#9ad3dc" opacity="0.7"/>
<circle cx="560.07" cy="412.31" r="0.77" fill="#9ad3dc" opacity="0.7"/>
<circle cx="583.1" cy="417.1" r="3.6" fill="#86243f" stroke="#1c060c" stroke-width="0.8"/>
<circle cx="582.2" cy="416.02" r="1.8" fill="#a8405c" opacity="0.7"/>
<circle cx="602.8" cy="419.8" r="4.3" fill="#86243f" stroke="#1c060c" stroke-width="0.8"/>
<circle cx="601.72" cy="418.51" r="2.15" fill="#a8405c" opacity="0.7"/>
<circle cx="645.12" cy="401.68" r="4.79" fill="#041115"/>
<circle cx="647.48" cy="401.68" r="3.48" fill="#041115"/>
<circle cx="642.12" cy="400.77" r="4.43" fill="#041115"/>
<circle cx="639.28" cy="400.62" r="4.2" fill="#041115"/>
<circle cx="637.33" cy="400.14" r="3.1" fill="#041115"/>
<circle cx="635.99" cy="400.01" r="4.11" fill="#041115"/>
<circle cx="636.63" cy="398.17" r="3.04" fill="#041115"/>
<circle cx="632.74" cy="398.15" r="4.85" fill="#041115"/>
<circle cx="644.51" cy="401.05" r="4.81" fill="#041115"/>
<circle cx="642.94" cy="399.27" r="3.12" fill="#041115"/>
<circle cx="646.72" cy="399.25" r="4.97" fill="#041115"/>
<circle cx="645.13" cy="401.15" r="3.87" fill="#041115"/>
<circle cx="648.57" cy="397.98" r="4.93" fill="#041115"/>
<circle cx="649.41" cy="395.68" r="3.88" fill="#041115"/>
<circle cx="650.3" cy="395.94" r="3.92" fill="#041115"/>
<circle cx="648.74" cy="394.96" r="2.46" fill="#041115"/>
<circle cx="652.54" cy="393.19" r="4.89" fill="#041115"/>
<circle cx="651.62" cy="395.43" r="3.07" fill="#041115"/>
<circle cx="644.02" cy="401.24" r="4.44" fill="#041115"/>
<circle cx="642.3" cy="404.5" r="4.69" fill="#041115"/>
<circle cx="641.15" cy="406.5" r="3.64" fill="#041115"/>
<circle cx="641.25" cy="406.22" r="4.6" fill="#041115"/>
<circle cx="642.82" cy="407.83" r="3.66" fill="#041115"/>
<circle cx="639.92" cy="409.17" r="3.95" fill="#041115"/>
<circle cx="641.76" cy="408.95" r="2.59" fill="#041115"/>
<circle cx="639.15" cy="411.41" r="5.01" fill="#041115"/>
<circle cx="637.53" cy="413.97" r="4.4" fill="#041115"/>
<circle cx="635.44" cy="414.36" r="3.25" fill="#041115"/>
<circle cx="645.12" cy="401.68" r="3.94" fill="#2d7282"/>
<circle cx="647.48" cy="401.68" r="2.63" fill="#2d7282"/>
<circle cx="642.12" cy="400.77" r="3.58" fill="#2d7282"/>
<circle cx="639.28" cy="400.62" r="3.35" fill="#2d7282"/>
<circle cx="637.33" cy="400.14" r="2.25" fill="#2d7282"/>
<circle cx="635.99" cy="400.01" r="3.26" fill="#2d7282"/>
<circle cx="636.63" cy="398.17" r="2.19" fill="#2d7282"/>
<circle cx="632.74" cy="398.15" r="4" fill="#2d7282"/>
<circle cx="644.51" cy="401.05" r="3.96" fill="#2d7282"/>
<circle cx="642.94" cy="399.27" r="2.27" fill="#2d7282"/>
<circle cx="646.72" cy="399.25" r="4.12" fill="#2d7282"/>
<circle cx="645.13" cy="401.15" r="3.02" fill="#2d7282"/>
<circle cx="648.57" cy="397.98" r="4.08" fill="#2d7282"/>
<circle cx="649.41" cy="395.68" r="3.03" fill="#2d7282"/>
<circle cx="650.3" cy="395.94" r="3.07" fill="#2d7282"/>
<circle cx="648.74" cy="394.96" r="1.61" fill="#2d7282"/>
<circle cx="652.54" cy="393.19" r="4.04" fill="#2d7282"/>
<circle cx="651.62" cy="395.43" r="2.22" fill="#2d7282"/>
<circle cx="644.02" cy="401.24" r="3.59" fill="#2d7282"/>
<circle cx="642.3" cy="404.5" r="3.84" fill="#2d7282"/>
<circle cx="641.15" cy="406.5" r="2.79" fill="#2d7282"/>
<circle cx="641.25" cy="406.22" r="3.75" fill="#2d7282"/>
<circle cx="642.82" cy="407.83" r="2.81" fill="#2d7282"/>
<circle cx="639.92" cy="409.17" r="3.1" fill="#2d7282"/>
<circle cx="641.76" cy="408.95" r="1.74" fill="#2d7282"/>
<circle cx="639.15" cy="411.41" r="4.16" fill="#2d7282"/>
<circle cx="637.53" cy="413.97" r="3.55" fill="#2d7282"/>
<circle cx="635.44" cy="414.36" r="2.4" fill="#2d7282"/>
<circle cx="644.89" cy="401.82" r="0.95" fill="#11404b" opacity="0.75"/>
<circle cx="644.96" cy="403.21" r="0.97" fill="#11404b" opacity="0.75"/>
<circle cx="645.15" cy="401.74" r="0.57" fill="#11404b" opacity="0.75"/>
<circle cx="644.61" cy="400.82" r="0.63" fill="#9ad3dc" opacity="0.7"/>
<circle cx="643.21" cy="400.24" r="0.63" fill="#9ad3dc" opacity="0.7"/>
<circle cx="643.16" cy="400.53" r="0.81" fill="#9ad3dc" opacity="0.7"/>
<circle cx="647.37" cy="402.67" r="0.79" fill="#11404b" opacity="0.75"/>
<circle cx="647.98" cy="402.3" r="0.68" fill="#11404b" opacity="0.75"/>
<circle cx="647.71" cy="401.04" r="0.9" fill="#11404b" opacity="0.75"/>
<circle cx="648.3" cy="400.33" r="0.69" fill="#9ad3dc" opacity="0.7"/>
<circle cx="647.19" cy="401.14" r="0.7" fill="#9ad3dc" opacity="0.7"/>
<circle cx="646.48" cy="400.74" r="0.97" fill="#9ad3dc" opacity="0.7"/>
<circle cx="642.11" cy="400.79" r="0.77" fill="#11404b" opacity="0.75"/>
<circle cx="642.2" cy="400.8" r="0.96" fill="#11404b" opacity="0.75"/>
<circle cx="643.68" cy="402.1" r="0.72" fill="#11404b" opacity="0.75"/>
<circle cx="642.99" cy="398.98" r="0.53" fill="#9ad3dc" opacity="0.7"/>
<circle cx="639.92" cy="400.96" r="0.81" fill="#9ad3dc" opacity="0.7"/>
<circle cx="640.56" cy="399.79" r="0.91" fill="#9ad3dc" opacity="0.7"/>
<circle cx="638.03" cy="400.68" r="0.56" fill="#11404b" opacity="0.75"/>
<circle cx="639.03" cy="400.91" r="0.88" fill="#11404b" opacity="0.75"/>
<circle cx="638.98" cy="400.38" r="0.88" fill="#11404b" opacity="0.75"/>
<circle cx="638.98" cy="400.73" r="0.82" fill="#9ad3dc" opacity="0.7"/>
<circle cx="637.75" cy="399.38" r="0.81" fill="#9ad3dc" opacity="0.7"/>
<circle cx="639.21" cy="400.26" r="0.92" fill="#9ad3dc" opacity="0.7"/>
<circle cx="638.29" cy="400.7" r="1.05" fill="#11404b" opacity="0.75"/>
<circle cx="638.67" cy="399.26" r="0.77" fill="#11404b" opacity="0.75"/>
<circle cx="636.84" cy="398.8" r="0.58" fill="#11404b" opacity="0.75"/>
<circle cx="637.93" cy="398.95" r="0.72" fill="#9ad3dc" opacity="0.7"/>
<circle cx="637.33" cy="399.43" r="0.64" fill="#9ad3dc" opacity="0.7"/>
<circle cx="637.3" cy="399.96" r="0.9" fill="#9ad3dc" opacity="0.7"/>
<circle cx="636.72" cy="399.91" r="1.06" fill="#11404b" opacity="0.75"/>
<circle cx="637.92" cy="401.14" r="0.67" fill="#11404b" opacity="0.75"/>
<circle cx="637.08" cy="399.78" r="1.05" fill="#11404b" opacity="0.75"/>
<circle cx="635.75" cy="400.15" r="0.91" fill="#9ad3dc" opacity="0.7"/>
<circle cx="635.53" cy="398.92" r="0.52" fill="#9ad3dc" opacity="0.7"/>
<circle cx="635.15" cy="400.13" r="0.53" fill="#9ad3dc" opacity="0.7"/>
<circle cx="637.97" cy="398.11" r="1.07" fill="#11404b" opacity="0.75"/>
<circle cx="636.45" cy="397.59" r="0.55" fill="#11404b" opacity="0.75"/>
<circle cx="636.61" cy="397.97" r="0.83" fill="#11404b" opacity="0.75"/>
<circle cx="636.04" cy="397.69" r="0.54" fill="#9ad3dc" opacity="0.7"/>
<circle cx="635.91" cy="398.49" r="0.52" fill="#9ad3dc" opacity="0.7"/>
<circle cx="636.43" cy="397.94" r="0.64" fill="#9ad3dc" opacity="0.7"/>
<circle cx="633.8" cy="399.63" r="0.73" fill="#11404b" opacity="0.75"/>
<circle cx="632.86" cy="398.85" r="0.84" fill="#11404b" opacity="0.75"/>
<circle cx="633.87" cy="397.43" r="0.6" fill="#11404b" opacity="0.75"/>
<circle cx="632.06" cy="397.96" r="0.79" fill="#9ad3dc" opacity="0.7"/>
<circle cx="632.77" cy="396.63" r="0.59" fill="#9ad3dc" opacity="0.7"/>
<circle cx="631.73" cy="397.85" r="0.72" fill="#9ad3dc" opacity="0.7"/>
<circle cx="641.99" cy="402.95" r="0.83" fill="#11404b" opacity="0.75"/>
<circle cx="643.32" cy="399.12" r="0.89" fill="#11404b" opacity="0.75"/>
<circle cx="644.91" cy="399.94" r="0.9" fill="#11404b" opacity="0.75"/>
<circle cx="644.78" cy="400.62" r="0.81" fill="#9ad3dc" opacity="0.7"/>
<circle cx="644.29" cy="400.94" r="0.52" fill="#9ad3dc" opacity="0.7"/>
<circle cx="644.49" cy="400.67" r="0.86" fill="#9ad3dc" opacity="0.7"/>
<circle cx="643.48" cy="399.66" r="0.52" fill="#11404b" opacity="0.75"/>
<circle cx="641.57" cy="398.89" r="0.64" fill="#11404b" opacity="0.75"/>
<circle cx="641.41" cy="398.6" r="0.68" fill="#11404b" opacity="0.75"/>
<circle cx="642.11" cy="398.56" r="0.93" fill="#9ad3dc" opacity="0.7"/>
<circle cx="641.94" cy="399.42" r="0.56" fill="#9ad3dc" opacity="0.7"/>
<circle cx="641.56" cy="399.71" r="0.53" fill="#9ad3dc" opacity="0.7"/>
<circle cx="648.88" cy="398.05" r="0.91" fill="#11404b" opacity="0.75"/>
<circle cx="646.44" cy="397.12" r="0.67" fill="#11404b" opacity="0.75"/>
<circle cx="646.09" cy="399.48" r="1.02" fill="#11404b" opacity="0.75"/>
<circle cx="646.72" cy="397.11" r="0.61" fill="#9ad3dc" opacity="0.7"/>
<circle cx="646.34" cy="398.59" r="0.9" fill="#9ad3dc" opacity="0.7"/>
<circle cx="646.47" cy="396.59" r="0.85" fill="#9ad3dc" opacity="0.7"/>
<circle cx="644.38" cy="399.43" r="0.56" fill="#11404b" opacity="0.75"/>
<circle cx="645.07" cy="401.1" r="0.72" fill="#11404b" opacity="0.75"/>
<circle cx="646.84" cy="402.69" r="0.52" fill="#11404b" opacity="0.75"/>
<circle cx="645.87" cy="399.43" r="0.72" fill="#9ad3dc" opacity="0.7"/>
<circle cx="645.16" cy="400.96" r="0.57" fill="#9ad3dc" opacity="0.7"/>
<circle cx="644.95" cy="401.28" r="0.5" fill="#9ad3dc" opacity="0.7"/>
<circle cx="648.71" cy="397.73" r="0.85" fill="#11404b" opacity="0.75"/>
<circle cx="648.51" cy="398.41" r="0.75" fill="#11404b" opacity="0.75"/>
<circle cx="649.9" cy="400.88" r="0.73" fill="#11404b" opacity="0.75"/>
<circle cx="647.81" cy="396.65" r="0.81" fill="#9ad3dc" opacity="0.7"/>
<circle cx="647.99" cy="397.46" r="0.57" fill="#9ad3dc" opacity="0.7"/>
<circle cx="648.75" cy="397.42" r="0.72" fill="#9ad3dc" opacity="0.7"/>
<circle cx="649.91" cy="394.38" r="1.07" fill="#11404b" opacity="0.75"/>
<circle cx="649.86" cy="394.52" r="0.57" fill="#11404b" opacity="0.75"/>
<circle cx="648.45" cy="395.05" r="1.02" fill="#11404b" opacity="0.75"/>
<circle cx="648.51" cy="394.61" r="0.91" fill="#9ad3dc" opacity="0.7"/>
<circle cx="648.13" cy="394.6" r="0.95" fill="#9ad3dc" opacity="0.7"/>
<circle cx="647.62" cy="396.03" r="0.93" fill="#9ad3dc" opacity="0.7"/>
<circle cx="650.81" cy="395.28" r="0.65" fill="#11404b" opacity="0.75"/>
<circle cx="650.92" cy="396.61" r="1.01" fill="#11404b" opacity="0.75"/>
<circle cx="650.29" cy="395.95" r="0.68" fill="#11404b" opacity="0.75"/>
<circle cx="649.12" cy="396.43" r="0.88" fill="#9ad3dc" opacity="0.7"/>
<circle cx="650.41" cy="395.69" r="0.69" fill="#9ad3dc" opacity="0.7"/>
<circle cx="648.54" cy="396.43" r="0.92" fill="#9ad3dc" opacity="0.7"/>
<circle cx="647.53" cy="394.81" r="0.81" fill="#11404b" opacity="0.75"/>
<circle cx="648.85" cy="394.34" r="0.72" fill="#11404b" opacity="0.75"/>
<circle cx="649.82" cy="394.92" r="0.86" fill="#11404b" opacity="0.75"/>
<circle cx="648.92" cy="394.27" r="0.9" fill="#9ad3dc" opacity="0.7"/>
<circle cx="648.54" cy="395.05" r="0.55" fill="#9ad3dc" opacity="0.7"/>
<circle cx="648.37" cy="394.27" r="0.58" fill="#9ad3dc" opacity="0.7"/>
<circle cx="652.17" cy="393.18" r="0.91" fill="#11404b" opacity="0.75"/>
<circle cx="652.59" cy="392.91" r="1.09" fill="#11404b" opacity="0.75"/>
<circle cx="652.33" cy="392.84" r="0.71" fill="#11404b" opacity="0.75"/>
<circle cx="650.63" cy="393.54" r="0.96" fill="#9ad3dc" opacity="0.7"/>
<circle cx="651.98" cy="393.26" r="0.81" fill="#9ad3dc" opacity="0.7"/>
<circle cx="652.99" cy="391.27" r="0.73" fill="#9ad3dc" opacity="0.7"/>
<circle cx="652.45" cy="396.13" r="0.77" fill="#11404b" opacity="0.75"/>
<circle cx="651.95" cy="394.47" r="0.94" fill="#11404b" opacity="0.75"/>
<circle cx="652.71" cy="395.23" r="1.05" fill="#11404b" opacity="0.75"/>
<circle cx="651.51" cy="395.41" r="0.94" fill="#9ad3dc" opacity="0.7"/>
<circle cx="650.39" cy="396.17" r="0.73" fill="#9ad3dc" opacity="0.7"/>
<circle cx="651.19" cy="395.64" r="0.86" fill="#9ad3dc" opacity="0.7"/>
<circle cx="642.68" cy="402.43" r="0.56" fill="#11404b" opacity="0.75"/>
<circle cx="644.57" cy="400.32" r="1" fill="#11404b" opacity="0.75"/>
<circle cx="645.17" cy="402.77" r="0.78" fill="#11404b" opacity="0.75"/>
<circle cx="643.9" cy="401.17" r="0.77" fill="#9ad3dc" opacity="0.7"/>
<circle cx="644.08" cy="400.91" r="0.72" fill="#9ad3dc" opacity="0.7"/>
<circle cx="642.1" cy="402.53" r="0.98" fill="#9ad3dc" opacity="0.7"/>
<circle cx="641.66" cy="403.18" r="0.54" fill="#11404b" opacity="0.75"/>
<circle cx="643.87" cy="406" r="0.98" fill="#11404b" opacity="0.75"/>
<circle cx="644.94" cy="404.32" r="0.76" fill="#11404b" opacity="0.75"/>
<circle cx="640.91" cy="404.37" r="0.67" fill="#9ad3dc" opacity="0.7"/>
<circle cx="640.94" cy="402.75" r="0.73" fill="#9ad3dc" opacity="0.7"/>
<circle cx="643.29" cy="402.98" r="0.52" fill="#9ad3dc" opacity="0.7"/>
<circle cx="641.13" cy="405.03" r="0.87" fill="#11404b" opacity="0.75"/>
<circle cx="643.11" cy="406.54" r="0.8" fill="#11404b" opacity="0.75"/>
<circle cx="640.79" cy="406.41" r="0.52" fill="#11404b" opacity="0.75"/>
<circle cx="640.77" cy="406.76" r="0.65" fill="#9ad3dc" opacity="0.7"/>
<circle cx="640.96" cy="406.54" r="0.86" fill="#9ad3dc" opacity="0.7"/>
<circle cx="640.81" cy="404.93" r="0.61" fill="#9ad3dc" opacity="0.7"/>
<circle cx="641.01" cy="404.46" r="0.55" fill="#11404b" opacity="0.75"/>
<circle cx="642.01" cy="405.47" r="0.61" fill="#11404b" opacity="0.75"/>
<circle cx="642.38" cy="408.75" r="0.63" fill="#11404b" opacity="0.75"/>
<circle cx="640.01" cy="405.61" r="0.68" fill="#9ad3dc" opacity="0.7"/>
<circle cx="641.15" cy="405.94" r="0.71" fill="#9ad3dc" opacity="0.7"/>
<circle cx="640.45" cy="404.9" r="0.8" fill="#9ad3dc" opacity="0.7"/>
<circle cx="642.65" cy="409.26" r="1.08" fill="#11404b" opacity="0.75"/>
<circle cx="641.38" cy="407.99" r="1" fill="#11404b" opacity="0.75"/>
<circle cx="642.81" cy="408.43" r="1.08" fill="#11404b" opacity="0.75"/>
<circle cx="642.01" cy="407.65" r="0.69" fill="#9ad3dc" opacity="0.7"/>
<circle cx="643.42" cy="406.98" r="0.95" fill="#9ad3dc" opacity="0.7"/>
<circle cx="642.25" cy="407.93" r="0.82" fill="#9ad3dc" opacity="0.7"/>
<circle cx="639.23" cy="410.67" r="0.8" fill="#11404b" opacity="0.75"/>
<circle cx="640.16" cy="409.3" r="0.76" fill="#11404b" opacity="0.75"/>
<circle cx="639.49" cy="409.08" r="0.66" fill="#11404b" opacity="0.75"/>
<circle cx="639.42" cy="409.53" r="0.65" fill="#9ad3dc" opacity="0.7"/>
<circle cx="638.81" cy="408.61" r="0.93" fill="#9ad3dc" opacity="0.7"/>
<circle cx="639.66" cy="407.68" r="0.64" fill="#9ad3dc" opacity="0.7"/>
<circle cx="640.75" cy="408.98" r="1.04" fill="#11404b" opacity="0.75"/>
<circle cx="641.77" cy="408.97" r="0.53" fill="#11404b" opacity="0.75"/>
<circle cx="640.56" cy="408.84" r="0.59" fill="#11404b" opacity="0.75"/>
<circle cx="641.78" cy="408.19" r="0.93" fill="#9ad3dc" opacity="0.7"/>
<circle cx="641.84" cy="408.75" r="0.9" fill="#9ad3dc" opacity="0.7"/>
<circle cx="641.55" cy="409.01" r="0.7" fill="#9ad3dc" opacity="0.7"/>
<circle cx="638.92" cy="411.43" r="0.67" fill="#11404b" opacity="0.75"/>
<circle cx="639.35" cy="411.81" r="0.56" fill="#11404b" opacity="0.75"/>
<circle cx="639.86" cy="411.52" r="0.7" fill="#11404b" opacity="0.75"/>
<circle cx="637.53" cy="410.4" r="0.81" fill="#9ad3dc" opacity="0.7"/>
<circle cx="638.46" cy="410.77" r="0.81" fill="#9ad3dc" opacity="0.7"/>
<circle cx="638.59" cy="411.46" r="0.56" fill="#9ad3dc" opacity="0.7"/>
<circle cx="637.34" cy="413.63" r="0.63" fill="#11404b" opacity="0.75"/>
<circle cx="636.58" cy="415.26" r="0.89" fill="#11404b" opacity="0.75"/>
<circle cx="636.11" cy="413.05" r="0.62" fill="#11404b" opacity="0.75"/>
<circle cx="638.17" cy="412.37" r="0.7" fill="#9ad3dc" opacity="0.7"/>
<circle cx="636.32" cy="413.32" r="0.56" fill="#9ad3dc" opacity="0.7"/>
<circle cx="636.76" cy="412.03" r="0.68" fill="#9ad3dc" opacity="0.7"/>
<circle cx="634.95" cy="414.36" r="1.05" fill="#11404b" opacity="0.75"/>
<circle cx="634.94" cy="414.85" r="0.93" fill="#11404b" opacity="0.75"/>
<circle cx="634.23" cy="415.61" r="0.75" fill="#11404b" opacity="0.75"/>
<circle cx="635.16" cy="413.89" r="0.79" fill="#9ad3dc" opacity="0.7"/>
<circle cx="635.24" cy="414.2" r="0.94" fill="#9ad3dc" opacity="0.7"/>
<circle cx="634.51" cy="414.52" r="0.84" fill="#9ad3dc" opacity="0.7"/>
<circle cx="631.2" cy="419" r="4.1" fill="#86243f" stroke="#1c060c" stroke-width="0.8"/>
<circle cx="630.18" cy="417.77" r="2.05" fill="#a8405c" opacity="0.7"/>
<circle cx="654.5" cy="421.4" r="4.7" fill="#86243f" stroke="#1c060c" stroke-width="0.8"/>
<circle cx="653.33" cy="419.99" r="2.35" fill="#a8405c" opacity="0.7"/>
<circle cx="521.44" cy="460.24" r="4.44" fill="#041115"/>
<circle cx="519.34" cy="459.76" r="2.97" fill="#041115"/>
<circle cx="521.61" cy="456.06" r="4.12" fill="#041115"/>
<circle cx="523.39" cy="456.89" r="2.56" fill="#041115"/>
<circle cx="521.72" cy="453" r="4.56" fill="#041115"/>
<circle cx="520.17" cy="451.4" r="3.58" fill="#041115"/>
<circle cx="520.63" cy="451.16" r="4.74" fill="#041115"/>
<circle cx="522.11" cy="449.35" r="3.08" fill="#041115"/>
<circle cx="519.79" cy="446.89" r="4.22" fill="#041115"/>
<circle cx="520.13" cy="444.22" r="4.27" fill="#041115"/>
<circle cx="518.17" cy="443.62" r="2.61" fill="#041115"/>
<circle cx="521.53" cy="461.29" r="4.12" fill="#041115"/>
<circle cx="520.76" cy="463.09" r="2.96" fill="#041115"/>
<circle cx="518.43" cy="462.72" r="4.59" fill="#041115"/>
<circle cx="518.51" cy="464.97" r="3.26" fill="#041115"/>
<circle cx="516.1" cy="463.87" r="4.68" fill="#041115"/>
<circle cx="518.38" cy="463.58" r="2.88" fill="#041115"/>
<circle cx="512.66" cy="464.19" r="4.55" fill="#041115"/>
<circle cx="514.82" cy="464.73" r="3.32" fill="#041115"/>
<circle cx="509.12" cy="466.6" r="4.97" fill="#041115"/>
<circle cx="508.28" cy="464.27" r="3.52" fill="#041115"/>
<circle cx="521.93" cy="461.54" r="4.75" fill="#041115"/>
<circle cx="525.01" cy="461.55" r="4.62" fill="#041115"/>
<circle cx="528.29" cy="464.02" r="4.83" fill="#041115"/>
<circle cx="526.49" cy="465.58" r="3.5" fill="#041115"/>
<circle cx="530.19" cy="464.22" r="4.08" fill="#041115"/>
<circle cx="531.99" cy="464.92" r="3.08" fill="#041115"/>
<circle cx="532.6" cy="465.83" r="4.21" fill="#041115"/>
<circle cx="521.44" cy="460.24" r="3.59" fill="#2d7282"/>
<circle cx="519.34" cy="459.76" r="2.12" fill="#2d7282"/>
<circle cx="521.61" cy="456.06" r="3.27" fill="#2d7282"/>
<circle cx="523.39" cy="456.89" r="1.71" fill="#2d7282"/>
<circle cx="521.72" cy="453" r="3.71" fill="#2d7282"/>
<circle cx="520.17" cy="451.4" r="2.73" fill="#2d7282"/>
<circle cx="520.63" cy="451.16" r="3.89" fill="#2d7282"/>
<circle cx="522.11" cy="449.35" r="2.23" fill="#2d7282"/>
<circle cx="519.79" cy="446.89" r="3.37" fill="#2d7282"/>
<circle cx="520.13" cy="444.22" r="3.42" fill="#2d7282"/>
<circle cx="518.17" cy="443.62" r="1.76" fill="#2d7282"/>
<circle cx="521.53" cy="461.29" r="3.27" fill="#2d7282"/>
<circle cx="520.76" cy="463.09" r="2.11" fill="#2d7282"/>
<circle cx="518.43" cy="462.72" r="3.74" fill="#2d7282"/>
<circle cx="518.51" cy="464.97" r="2.41" fill="#2d7282"/>
<circle cx="516.1" cy="463.87" r="3.83" fill="#2d7282"/>
<circle cx="518.38" cy="463.58" r="2.03" fill="#2d7282"/>
<circle cx="512.66" cy="464.19" r="3.7" fill="#2d7282"/>
<circle cx="514.82" cy="464.73" r="2.47" fill="#2d7282"/>
<circle cx="509.12" cy="466.6" r="4.12" fill="#2d7282"/>
<circle cx="508.28" cy="464.27" r="2.67" fill="#2d7282"/>
<circle cx="521.93" cy="461.54" r="3.9" fill="#2d7282"/>
<circle cx="525.01" cy="461.55" r="3.77" fill="#2d7282"/>
<circle cx="528.29" cy="464.02" r="3.98" fill="#2d7282"/>
<circle cx="526.49" cy="465.58" r="2.65" fill="#2d7282"/>
<circle cx="530.19" cy="464.22" r="3.23" fill="#2d7282"/>
<circle cx="531.99" cy="464.92" r="2.23" fill="#2d7282"/>
<circle cx="532.6" cy="465.83" r="3.36" fill="#2d7282"/>
<circle cx="522.57" cy="460.87" r="0.83" fill="#11404b" opacity="0.75"/>
<circle cx="523.19" cy="458.67" r="1.02" fill="#11404b" opacity="0.75"/>
<circle cx="521.23" cy="461.41" r="0.72" fill="#11404b" opacity="0.75"/>
<circle cx="522.1" cy="458.1" r="0.58" fill="#9ad3dc" opacity="0.7"/>
<circle cx="520.83" cy="460.32" r="0.62" fill="#9ad3dc" opacity="0.7"/>
<circle cx="520.4" cy="459.28" r="0.63" fill="#9ad3dc" opacity="0.7"/>
<circle cx="520.05" cy="459.78" r="0.72" fill="#11404b" opacity="0.75"/>
<circle cx="517.86" cy="459.1" r="0.91" fill="#11404b" opacity="0.75"/>
<circle cx="518.3" cy="459.66" r="0.91" fill="#11404b" opacity="0.75"/>
<circle cx="518.23" cy="460.33" r="0.89" fill="#9ad3dc" opacity="0.7"/>
<circle cx="519.65" cy="458.68" r="0.7" fill="#9ad3dc" opacity="0.7"/>
<circle cx="519.14" cy="459.65" r="0.82" fill="#9ad3dc" opacity="0.7"/>
<circle cx="521.77" cy="456.13" r="0.63" fill="#11404b" opacity="0.75"/>
<circle cx="522.08" cy="456.82" r="0.53" fill="#11404b" opacity="0.75"/>
<circle cx="522.01" cy="456.06" r="0.56" fill="#11404b" opacity="0.75"/>
<circle cx="521.47" cy="456" r="0.94" fill="#9ad3dc" opacity="0.7"/>
<circle cx="521.43" cy="455.7" r="0.63" fill="#9ad3dc" opacity="0.7"/>
<circle cx="520.83" cy="455.77" r="0.56" fill="#9ad3dc" opacity="0.7"/>
<circle cx="524.18" cy="455.79" r="0.78" fill="#11404b" opacity="0.75"/>
<circle cx="523.27" cy="456.91" r="0.56" fill="#11404b" opacity="0.75"/>
<circle cx="523.19" cy="457.2" r="1" fill="#11404b" opacity="0.75"/>
<circle cx="523.27" cy="456.91" r="0.98" fill="#9ad3dc" opacity="0.7"/>
<circle cx="523.23" cy="456.7" r="0.77" fill="#9ad3dc" opacity="0.7"/>
<circle cx="522.85" cy="457.23" r="0.99" fill="#9ad3dc" opacity="0.7"/>
<circle cx="523.07" cy="451.43" r="0.66" fill="#11404b" opacity="0.75"/>
<circle cx="521.39" cy="453.37" r="0.96" fill="#11404b" opacity="0.75"/>
<circle cx="519.46" cy="452.53" r="0.7" fill="#11404b" opacity="0.75"/>
<circle cx="519.75" cy="452.99" r="0.99" fill="#9ad3dc" opacity="0.7"/>
<circle cx="522.14" cy="451.08" r="0.91" fill="#9ad3dc" opacity="0.7"/>
<circle cx="521.66" cy="452.38" r="0.76" fill="#9ad3dc" opacity="0.7"/>
<circle cx="520.13" cy="451.45" r="0.52" fill="#11404b" opacity="0.75"/>
<circle cx="520.07" cy="451.96" r="0.92" fill="#11404b" opacity="0.75"/>
<circle cx="521.12" cy="451.14" r="1.06" fill="#11404b" opacity="0.75"/>
<circle cx="521.13" cy="449.99" r="0.68" fill="#9ad3dc" opacity="0.7"/>
<circle cx="519.69" cy="451.4" r="0.6" fill="#9ad3dc" opacity="0.7"/>
<circle cx="519.03" cy="451.46" r="0.95" fill="#9ad3dc" opacity="0.7"/>
<circle cx="521.44" cy="449.9" r="0.89" fill="#11404b" opacity="0.75"/>
<circle cx="520.72" cy="450.91" r="0.9" fill="#11404b" opacity="0.75"/>
<circle cx="522.69" cy="449.85" r="0.95" fill="#11404b" opacity="0.75"/>
<circle cx="520.23" cy="450.81" r="0.89" fill="#9ad3dc" opacity="0.7"/>
<circle cx="518.69" cy="450.53" r="0.99" fill="#9ad3dc" opacity="0.7"/>
<circle cx="519.69" cy="450.66" r="0.97" fill="#9ad3dc" opacity="0.7"/>
<circle cx="522.06" cy="449.05" r="0.58" fill="#11404b" opacity="0.75"/>
<circle cx="523.04" cy="450.66" r="0.98" fill="#11404b" opacity="0.75"/>
<circle cx="523" cy="450.52" r="1.09" fill="#11404b" opacity="0.75"/>
<circle cx="521.91" cy="448.81" r="0.77" fill="#9ad3dc" opacity="0.7"/>
<circle cx="521.99" cy="449.38" r="0.99" fill="#9ad3dc" opacity="0.7"/>
<circle cx="521.82" cy="448.59" r="0.97" fill="#9ad3dc" opacity="0.7"/>
<circle cx="517.64" cy="447.84" r="1" fill="#11404b" opacity="0.75"/>
<circle cx="519.95" cy="447.55" r="0.68" fill="#11404b" opacity="0.75"/>
<circle cx="519.88" cy="448.47" r="0.66" fill="#11404b" opacity="0.75"/>
<circle cx="519.47" cy="446.7" r="0.96" fill="#9ad3dc" opacity="0.7"/>
<circle cx="518.8" cy="446.51" r="0.79" fill="#9ad3dc" opacity="0.7"/>
<circle cx="520.13" cy="445.98" r="0.96" fill="#9ad3dc" opacity="0.7"/>
<circle cx="518.68" cy="444.21" r="0.81" fill="#11404b" opacity="0.75"/>
<circle cx="521.33" cy="444.36" r="0.61" fill="#11404b" opacity="0.75"/>
<circle cx="522.31" cy="444.28" r="0.6" fill="#11404b" opacity="0.75"/>
<circle cx="518.89" cy="443.15" r="0.78" fill="#9ad3dc" opacity="0.7"/>
<circle cx="518.98" cy="443.88" r="0.78" fill="#9ad3dc" opacity="0.7"/>
<circle cx="520.14" cy="443.9" r="0.78" fill="#9ad3dc" opacity="0.7"/>
<circle cx="518.18" cy="444.01" r="0.96" fill="#11404b" opacity="0.75"/>
<circle cx="517.38" cy="443.58" r="0.96" fill="#11404b" opacity="0.75"/>
<circle cx="518.7" cy="443.29" r="0.87" fill="#11404b" opacity="0.75"/>
<circle cx="517.73" cy="443.16" r="0.85" fill="#9ad3dc" opacity="0.7"/>
<circle cx="517.65" cy="443.22" r="0.74" fill="#9ad3dc" opacity="0.7"/>
<circle cx="518.54" cy="442.87" r="0.94" fill="#9ad3dc" opacity="0.7"/>
<circle cx="522.16" cy="461.05" r="0.84" fill="#11404b" opacity="0.75"/>
<circle cx="523.59" cy="460.52" r="0.58" fill="#11404b" opacity="0.75"/>
<circle cx="522.36" cy="462.09" r="0.54" fill="#11404b" opacity="0.75"/>
<circle cx="521.28" cy="461.28" r="0.83" fill="#9ad3dc" opacity="0.7"/>
<circle cx="521.56" cy="459.37" r="0.58" fill="#9ad3dc" opacity="0.7"/>
<circle cx="521.28" cy="459.87" r="0.57" fill="#9ad3dc" opacity="0.7"/>
<circle cx="521.97" cy="462" r="0.63" fill="#11404b" opacity="0.75"/>
<circle cx="521.4" cy="462.9" r="0.79" fill="#11404b" opacity="0.75"/>
<circle cx="522.17" cy="463" r="0.6" fill="#11404b" opacity="0.75"/>
<circle cx="520.13" cy="462.67" r="0.67" fill="#9ad3dc" opacity="0.7"/>
<circle cx="520.26" cy="463.13" r="0.86" fill="#9ad3dc" opacity="0.7"/>
<circle cx="520.08" cy="463.53" r="0.72" fill="#9ad3dc" opacity="0.7"/>
<circle cx="519.42" cy="462.83" r="0.87" fill="#11404b" opacity="0.75"/>
<circle cx="518.24" cy="462.71" r="1.09" fill="#11404b" opacity="0.75"/>
<circle cx="519.12" cy="459.89" r="0.56" fill="#11404b" opacity="0.75"/>
<circle cx="518.24" cy="462.7" r="0.89" fill="#9ad3dc" opacity="0.7"/>
<circle cx="518.03" cy="462.67" r="0.71" fill="#9ad3dc" opacity="0.7"/>
<circle cx="519.17" cy="460.85" r="0.63" fill="#9ad3dc" opacity="0.7"/>
<circle cx="519.56" cy="466.4" r="0.84" fill="#11404b" opacity="0.75"/>
<circle cx="518.46" cy="464.8" r="0.53" fill="#11404b" opacity="0.75"/>
<circle cx="518.2" cy="464.21" r="0.54" fill="#11404b" opacity="0.75"/>
<circle cx="518.96" cy="464.04" r="0.9" fill="#9ad3dc" opacity="0.7"/>
<circle cx="517.26" cy="465.48" r="0.53" fill="#9ad3dc" opacity="0.7"/>
<circle cx="518.7" cy="464.22" r="0.67" fill="#9ad3dc" opacity="0.7"/>
<circle cx="513.42" cy="462.94" r="0.66" fill="#11404b" opacity="0.75"/>
<circle cx="517.21" cy="465.04" r="0.64" fill="#11404b" opacity="0.75"/>
<circle cx="516.48" cy="464.18" r="0.53" fill="#11404b" opacity="0.75"/>
<circle cx="515.26" cy="463.92" r="0.65" fill="#9ad3dc" opacity="0.7"/>
<circle cx="516.06" cy="463.08" r="0.75" fill="#9ad3dc" opacity="0.7"/>
<circle cx="515.18" cy="463.98" r="0.51" fill="#9ad3dc" opacity="0.7"/>
<circle cx="518.38" cy="463.61" r="0.94" fill="#11404b" opacity="0.75"/>
<circle cx="518.09" cy="463.48" r="0.78" fill="#11404b" opacity="0.75"/>
<circle cx="518.54" cy="463.51" r="0.99" fill="#11404b" opacity="0.75"/>
<circle cx="517.8" cy="463.19" r="0.92" fill="#9ad3dc" opacity="0.7"/>
<circle cx="517.75" cy="463.25" r="0.84" fill="#9ad3dc" opacity="0.7"/>
<circle cx="518.66" cy="463.15" r="0.92" fill="#9ad3dc" opacity="0.7"/>
<circle cx="512.16" cy="462.38" r="0.74" fill="#11404b" opacity="0.75"/>
<circle cx="512.57" cy="464.32" r="0.58" fill="#11404b" opacity="0.75"/>
<circle cx="514.64" cy="465.14" r="0.65" fill="#11404b" opacity="0.75"/>
<circle cx="512.37" cy="464.24" r="0.92" fill="#9ad3dc" opacity="0.7"/>
<circle cx="513.09" cy="462.6" r="0.64" fill="#9ad3dc" opacity="0.7"/>
<circle cx="511.89" cy="464.15" r="0.73" fill="#9ad3dc" opacity="0.7"/>
<circle cx="515.3" cy="465.47" r="0.66" fill="#11404b" opacity="0.75"/>
<circle cx="516.68" cy="464.28" r="0.83" fill="#11404b" opacity="0.75"/>
<circle cx="514.88" cy="466.64" r="0.69" fill="#11404b" opacity="0.75"/>
<circle cx="514.72" cy="464.7" r="0.69" fill="#9ad3dc" opacity="0.7"/>
<circle cx="514.17" cy="464.17" r="0.6" fill="#9ad3dc" opacity="0.7"/>
<circle cx="514.74" cy="464.66" r="0.63" fill="#9ad3dc" opacity="0.7"/>
<circle cx="510.23" cy="467.3" r="0.53" fill="#11404b" opacity="0.75"/>
<circle cx="510.11" cy="466.74" r="0.64" fill="#11404b" opacity="0.75"/>
<circle cx="507.62" cy="465.71" r="0.95" fill="#11404b" opacity="0.75"/>
<circle cx="508.47" cy="464.77" r="0.94" fill="#9ad3dc" opacity="0.7"/>
<circle cx="508.28" cy="466.17" r="0.99" fill="#9ad3dc" opacity="0.7"/>
<circle cx="507.19" cy="467" r="0.82" fill="#9ad3dc" opacity="0.7"/>
<circle cx="510" cy="464.76" r="1.04" fill="#11404b" opacity="0.75"/>
<circle cx="507.19" cy="463.15" r="0.99" fill="#11404b" opacity="0.75"/>
<circle cx="509" cy="465.13" r="0.8" fill="#11404b" opacity="0.75"/>
<circle cx="508.51" cy="462.88" r="0.91" fill="#9ad3dc" opacity="0.7"/>
<circle cx="507.47" cy="462.94" r="0.84" fill="#9ad3dc" opacity="0.7"/>
<circle cx="508.17" cy="463.81" r="0.52" fill="#9ad3dc" opacity="0.7"/>
<circle cx="522.68" cy="462.38" r="0.56" fill="#11404b" opacity="0.75"/>
<circle cx="522.82" cy="460.05" r="0.88" fill="#11404b" opacity="0.75"/>
<circle cx="520.44" cy="460.03" r="0.79" fill="#11404b" opacity="0.75"/>
<circle cx="520.27" cy="462.73" r="0.87" fill="#9ad3dc" opacity="0.7"/>
<circle cx="520.95" cy="460.54" r="0.83" fill="#9ad3dc" opacity="0.7"/>
<circle cx="520.22" cy="462.35" r="0.63" fill="#9ad3dc" opacity="0.7"/>
<circle cx="525.73" cy="461.91" r="0.94" fill="#11404b" opacity="0.75"/>
<circle cx="525.63" cy="463.69" r="1.09" fill="#11404b" opacity="0.75"/>
<circle cx="523.86" cy="461.59" r="0.79" fill="#11404b" opacity="0.75"/>
<circle cx="524.51" cy="459.71" r="0.81" fill="#9ad3dc" opacity="0.7"/>
<circle cx="524.91" cy="461.29" r="0.57" fill="#9ad3dc" opacity="0.7"/>
<circle cx="523.17" cy="461.38" r="0.65" fill="#9ad3dc" opacity="0.7"/>
<circle cx="528.25" cy="464" r="0.54" fill="#11404b" opacity="0.75"/>
<circle cx="528.04" cy="466.14" r="0.92" fill="#11404b" opacity="0.75"/>
<circle cx="527.87" cy="463.19" r="0.81" fill="#11404b" opacity="0.75"/>
<circle cx="527.31" cy="463.22" r="0.56" fill="#9ad3dc" opacity="0.7"/>
<circle cx="528.48" cy="463.45" r="0.99" fill="#9ad3dc" opacity="0.7"/>
<circle cx="528.35" cy="463.89" r="0.73" fill="#9ad3dc" opacity="0.7"/>
<circle cx="527.37" cy="463.72" r="0.77" fill="#11404b" opacity="0.75"/>
<circle cx="526.44" cy="466.03" r="1.07" fill="#11404b" opacity="0.75"/>
<circle cx="526.79" cy="466.78" r="0.59" fill="#11404b" opacity="0.75"/>
<circle cx="525.41" cy="464.34" r="0.57" fill="#9ad3dc" opacity="0.7"/>
<circle cx="526.6" cy="464.66" r="0.94" fill="#9ad3dc" opacity="0.7"/>
<circle cx="526.39" cy="465.12" r="0.95" fill="#9ad3dc" opacity="0.7"/>
<circle cx="530.12" cy="464.22" r="0.5" fill="#11404b" opacity="0.75"/>
<circle cx="529.03" cy="464.28" r="0.68" fill="#11404b" opacity="0.75"/>
<circle cx="530.75" cy="464.91" r="0.69" fill="#11404b" opacity="0.75"/>
<circle cx="530.21" cy="464.12" r="0.88" fill="#9ad3dc" opacity="0.7"/>
<circle cx="530.25" cy="463.88" r="0.96" fill="#9ad3dc" opacity="0.7"/>
<circle cx="529.84" cy="462.35" r="0.64" fill="#9ad3dc" opacity="0.7"/>
<circle cx="531.51" cy="465.42" r="1.1" fill="#11404b" opacity="0.75"/>
<circle cx="531.45" cy="464.58" r="0.76" fill="#11404b" opacity="0.75"/>
<circle cx="531.98" cy="465" r="0.56" fill="#11404b" opacity="0.75"/>
<circle cx="532.07" cy="464.44" r="0.97" fill="#9ad3dc" opacity="0.7"/>
<circle cx="531.54" cy="464.88" r="0.76" fill="#9ad3dc" opacity="0.7"/>
<circle cx="531.39" cy="464.98" r="0.98" fill="#9ad3dc" opacity="0.7"/>
<circle cx="534.22" cy="464.38" r="0.88" fill="#11404b" opacity="0.75"/>
<circle cx="534.76" cy="464.52" r="0.83" fill="#11404b" opacity="0.75"/>
<circle cx="532.57" cy="465.7" r="0.94" fill="#11404b" opacity="0.75"/>
<circle cx="531.27" cy="464.82" r="0.82" fill="#9ad3dc" opacity="0.7"/>
<circle cx="532.4" cy="465.79" r="0.96" fill="#9ad3dc" opacity="0.7"/>
<circle cx="531.55" cy="466.11" r="0.67" fill="#9ad3dc" opacity="0.7"/>
<circle cx="507" cy="469.3" r="4.1" fill="#86243f" stroke="#1c060c" stroke-width="0.8"/>
<circle cx="505.98" cy="468.07" r="2.05" fill="#a8405c" opacity="0.7"/>
<circle cx="533.5" cy="472.1" r="5" fill="#86243f" stroke="#1c060c" stroke-width="0.8"/>
<circle cx="532.25" cy="470.6" r="2.5" fill="#a8405c" opacity="0.7"/>
<circle cx="563.74" cy="458.4" r="3.97" fill="#041115"/>
<circle cx="562.3" cy="457.2" r="3.82" fill="#041115"/>
<circle cx="561.18" cy="455.81" r="2.68" fill="#041115"/>
<circle cx="562.39" cy="453.31" r="4.22" fill="#041115"/>
<circle cx="561.67" cy="450.43" r="3.83" fill="#041115"/>
<circle cx="560.18" cy="451.41" r="3.01" fill="#041115"/>
<circle cx="561.18" cy="448.21" r="4.14" fill="#041115"/>
<circle cx="561.69" cy="445.8" r="3.8" fill="#041115"/>
<circle cx="560.76" cy="447.31" r="2.83" fill="#041115"/>
<circle cx="563.24" cy="459.64" r="4.27" fill="#041115"/>
<circle cx="564.53" cy="461.24" r="2.61" fill="#041115"/>
<circle cx="561.73" cy="461.01" r="4.75" fill="#041115"/>
<circle cx="560.87" cy="464.61" r="4.36" fill="#041115"/>
<circle cx="559.56" cy="466.26" r="3.37" fill="#041115"/>
<circle cx="559.67" cy="465.86" r="3.88" fill="#041115"/>
<circle cx="559.14" cy="464.12" r="3.08" fill="#041115"/>
<circle cx="558.01" cy="468.52" r="4.64" fill="#041115"/>
<circle cx="555.77" cy="468.11" r="3.23" fill="#041115"/>
<circle cx="563.65" cy="459.01" r="3.81" fill="#041115"/>
<circle cx="564.92" cy="460.22" r="3.97" fill="#041115"/>
<circle cx="564.73" cy="462.08" r="2.74" fill="#041115"/>
<circle cx="568.2" cy="463.63" r="4.14" fill="#041115"/>
<circle cx="566.63" cy="464.82" r="2.63" fill="#041115"/>
<circle cx="570.76" cy="464.52" r="4.45" fill="#041115"/>
<circle cx="563.74" cy="458.4" r="3.12" fill="#2d7282"/>
<circle cx="562.3" cy="457.2" r="2.97" fill="#2d7282"/>
<circle cx="561.18" cy="455.81" r="1.83" fill="#2d7282"/>
<circle cx="562.39" cy="453.31" r="3.37" fill="#2d7282"/>
<circle cx="561.67" cy="450.43" r="2.98" fill="#2d7282"/>
<circle cx="560.18" cy="451.41" r="2.16" fill="#2d7282"/>
<circle cx="561.18" cy="448.21" r="3.29" fill="#2d7282"/>
<circle cx="561.69" cy="445.8" r="2.95" fill="#2d7282"/>
<circle cx="560.76" cy="447.31" r="1.98" fill="#2d7282"/>
<circle cx="563.24" cy="459.64" r="3.42" fill="#2d7282"/>
<circle cx="564.53" cy="461.24" r="1.76" fill="#2d7282"/>
<circle cx="561.73" cy="461.01" r="3.9" fill="#2d7282"/>
<circle cx="560.87" cy="464.61" r="3.51" fill="#2d7282"/>
<circle cx="559.56" cy="466.26" r="2.52" fill="#2d7282"/>
<circle cx="559.67" cy="465.86" r="3.03" fill="#2d7282"/>
<circle cx="559.14" cy="464.12" r="2.23" fill="#2d7282"/>
<circle cx="558.01" cy="468.52" r="3.79" fill="#2d7282"/>
<circle cx="555.77" cy="468.11" r="2.38" fill="#2d7282"/>
<circle cx="563.65" cy="459.01" r="2.96" fill="#2d7282"/>
<circle cx="564.92" cy="460.22" r="3.12" fill="#2d7282"/>
<circle cx="564.73" cy="462.08" r="1.89" fill="#2d7282"/>
<circle cx="568.2" cy="463.63" r="3.29" fill="#2d7282"/>
<circle cx="566.63" cy="464.82" r="1.78" fill="#2d7282"/>
<circle cx="570.76" cy="464.52" r="3.6" fill="#2d7282"/>
<circle cx="563.73" cy="458.43" r="0.96" fill="#11404b" opacity="0.75"/>
<circle cx="563.51" cy="458.76" r="0.76" fill="#11404b" opacity="0.75"/>
<circle cx="563.86" cy="459.42" r="0.77" fill="#11404b" opacity="0.75"/>
<circle cx="562.69" cy="457.75" r="0.64" fill="#9ad3dc" opacity="0.7"/>
<circle cx="563.49" cy="458.5" r="0.55" fill="#9ad3dc" opacity="0.7"/>
<circle cx="563.21" cy="457.81" r="0.9" fill="#9ad3dc" opacity="0.7"/>
<circle cx="560.61" cy="457.15" r="1.09" fill="#11404b" opacity="0.75"/>
<circle cx="562.33" cy="457.21" r="0.58" fill="#11404b" opacity="0.75"/>
<circle cx="561.27" cy="458.09" r="0.95" fill="#11404b" opacity="0.75"/>
<circle cx="560.55" cy="456.53" r="0.5" fill="#9ad3dc" opacity="0.7"/>
<circle cx="562.37" cy="456.72" r="0.94" fill="#9ad3dc" opacity="0.7"/>
<circle cx="560.69" cy="458.15" r="0.88" fill="#9ad3dc" opacity="0.7"/>
<circle cx="562.02" cy="455.76" r="0.61" fill="#11404b" opacity="0.75"/>
<circle cx="561.81" cy="455.69" r="0.55" fill="#11404b" opacity="0.75"/>
<circle cx="560.6" cy="455.36" r="0.78" fill="#11404b" opacity="0.75"/>
<circle cx="560.95" cy="455.86" r="0.79" fill="#9ad3dc" opacity="0.7"/>
<circle cx="560.99" cy="455.67" r="0.72" fill="#9ad3dc" opacity="0.7"/>
<circle cx="561.05" cy="454.94" r="0.74" fill="#9ad3dc" opacity="0.7"/>
<circle cx="561.63" cy="453.91" r="0.64" fill="#11404b" opacity="0.75"/>
<circle cx="562.78" cy="454.45" r="0.56" fill="#11404b" opacity="0.75"/>
<circle cx="562.09" cy="451.42" r="0.87" fill="#11404b" opacity="0.75"/>
<circle cx="561.66" cy="453.77" r="0.72" fill="#9ad3dc" opacity="0.7"/>
<circle cx="560.41" cy="454.06" r="0.88" fill="#9ad3dc" opacity="0.7"/>
<circle cx="561.29" cy="452.19" r="0.6" fill="#9ad3dc" opacity="0.7"/>
<circle cx="561.84" cy="451.67" r="0.95" fill="#11404b" opacity="0.75"/>
<circle cx="561.67" cy="450.42" r="0.87" fill="#11404b" opacity="0.75"/>
<circle cx="563.16" cy="449.47" r="1.06" fill="#11404b" opacity="0.75"/>
<circle cx="561.95" cy="450" r="0.65" fill="#9ad3dc" opacity="0.7"/>
<circle cx="560.53" cy="448.93" r="0.68" fill="#9ad3dc" opacity="0.7"/>
<circle cx="562.42" cy="448.95" r="0.76" fill="#9ad3dc" opacity="0.7"/>
<circle cx="559.01" cy="450.24" r="0.97" fill="#11404b" opacity="0.75"/>
<circle cx="559.77" cy="452.81" r="0.62" fill="#11404b" opacity="0.75"/>
<circle cx="559.05" cy="452.62" r="1.01" fill="#11404b" opacity="0.75"/>
<circle cx="559.72" cy="451.29" r="0.81" fill="#9ad3dc" opacity="0.7"/>
<circle cx="560.36" cy="450.44" r="0.97" fill="#9ad3dc" opacity="0.7"/>
<circle cx="560.02" cy="450.25" r="0.8" fill="#9ad3dc" opacity="0.7"/>
<circle cx="560.45" cy="449.07" r="0.79" fill="#11404b" opacity="0.75"/>
<circle cx="559.01" cy="447.81" r="0.66" fill="#11404b" opacity="0.75"/>
<circle cx="562.93" cy="449.02" r="0.66" fill="#11404b" opacity="0.75"/>
<circle cx="560.89" cy="448.03" r="0.91" fill="#9ad3dc" opacity="0.7"/>
<circle cx="560.49" cy="448.11" r="0.9" fill="#9ad3dc" opacity="0.7"/>
<circle cx="560.72" cy="447.74" r="0.94" fill="#9ad3dc" opacity="0.7"/>
<circle cx="560.97" cy="446.25" r="1.08" fill="#11404b" opacity="0.75"/>
<circle cx="562.13" cy="444.1" r="0.65" fill="#11404b" opacity="0.75"/>
<circle cx="562.24" cy="444.51" r="1" fill="#11404b" opacity="0.75"/>
<circle cx="560.3" cy="445.2" r="0.9" fill="#9ad3dc" opacity="0.7"/>
<circle cx="560.54" cy="445.22" r="0.89" fill="#9ad3dc" opacity="0.7"/>
<circle cx="562.71" cy="444.35" r="0.89" fill="#9ad3dc" opacity="0.7"/>
<circle cx="561.39" cy="448.04" r="0.91" fill="#11404b" opacity="0.75"/>
<circle cx="561.39" cy="447.69" r="1.02" fill="#11404b" opacity="0.75"/>
<circle cx="561.98" cy="446.48" r="0.56" fill="#11404b" opacity="0.75"/>
<circle cx="560.24" cy="446.31" r="0.83" fill="#9ad3dc" opacity="0.7"/>
<circle cx="560.62" cy="447.27" r="0.96" fill="#9ad3dc" opacity="0.7"/>
<circle cx="560.96" cy="446.45" r="0.68" fill="#9ad3dc" opacity="0.7"/>
<circle cx="564.29" cy="457.68" r="0.93" fill="#11404b" opacity="0.75"/>
<circle cx="562.53" cy="459.13" r="0.68" fill="#11404b" opacity="0.75"/>
<circle cx="562.68" cy="460.34" r="0.81" fill="#11404b" opacity="0.75"/>
<circle cx="561.69" cy="460.13" r="0.67" fill="#9ad3dc" opacity="0.7"/>
<circle cx="562.61" cy="459.75" r="0.69" fill="#9ad3dc" opacity="0.7"/>
<circle cx="561.78" cy="458.66" r="0.55" fill="#9ad3dc" opacity="0.7"/>
<circle cx="564.6" cy="461.65" r="0.61" fill="#11404b" opacity="0.75"/>
<circle cx="564.52" cy="461.09" r="0.53" fill="#11404b" opacity="0.75"/>
<circle cx="563.55" cy="460.88" r="1" fill="#11404b" opacity="0.75"/>
<circle cx="564.27" cy="460.88" r="0.94" fill="#9ad3dc" opacity="0.7"/>
<circle cx="564.45" cy="460.64" r="0.78" fill="#9ad3dc" opacity="0.7"/>
<circle cx="565.02" cy="460.21" r="0.97" fill="#9ad3dc" opacity="0.7"/>
<circle cx="562.42" cy="461.77" r="0.74" fill="#11404b" opacity="0.75"/>
<circle cx="562.89" cy="463.09" r="0.54" fill="#11404b" opacity="0.75"/>
<circle cx="563.12" cy="459.82" r="0.87" fill="#11404b" opacity="0.75"/>
<circle cx="559.69" cy="459.78" r="0.79" fill="#9ad3dc" opacity="0.7"/>
<circle cx="562.51" cy="458.79" r="0.85" fill="#9ad3dc" opacity="0.7"/>
<circle cx="562.44" cy="459.93" r="0.68" fill="#9ad3dc" opacity="0.7"/>
<circle cx="561.69" cy="463.38" r="0.69" fill="#11404b" opacity="0.75"/>
<circle cx="560.3" cy="463.4" r="0.58" fill="#11404b" opacity="0.75"/>
<circle cx="561.6" cy="463.42" r="1.08" fill="#11404b" opacity="0.75"/>
<circle cx="559.5" cy="462.96" r="0.64" fill="#9ad3dc" opacity="0.7"/>
<circle cx="559.62" cy="464.63" r="0.88" fill="#9ad3dc" opacity="0.7"/>
<circle cx="561.07" cy="463.11" r="0.56" fill="#9ad3dc" opacity="0.7"/>
<circle cx="559.5" cy="466.3" r="0.72" fill="#11404b" opacity="0.75"/>
<circle cx="560.22" cy="466.02" r="0.92" fill="#11404b" opacity="0.75"/>
<circle cx="559.35" cy="466.06" r="0.91" fill="#11404b" opacity="0.75"/>
<circle cx="559.21" cy="466.41" r="0.79" fill="#9ad3dc" opacity="0.7"/>
<circle cx="558.03" cy="466.68" r="0.71" fill="#9ad3dc" opacity="0.7"/>
<circle cx="558.92" cy="464.81" r="0.55" fill="#9ad3dc" opacity="0.7"/>
<circle cx="559.77" cy="465.86" r="0.86" fill="#11404b" opacity="0.75"/>
<circle cx="558.34" cy="463.87" r="0.71" fill="#11404b" opacity="0.75"/>
<circle cx="561.16" cy="465.34" r="0.79" fill="#11404b" opacity="0.75"/>
<circle cx="559.14" cy="465.94" r="0.68" fill="#9ad3dc" opacity="0.7"/>
<circle cx="558.93" cy="465.58" r="0.9" fill="#9ad3dc" opacity="0.7"/>
<circle cx="558.52" cy="465.32" r="0.52" fill="#9ad3dc" opacity="0.7"/>
<circle cx="559.94" cy="465.1" r="1.03" fill="#11404b" opacity="0.75"/>
<circle cx="559.11" cy="464.18" r="0.64" fill="#11404b" opacity="0.75"/>
<circle cx="558.72" cy="464.62" r="0.84" fill="#11404b" opacity="0.75"/>
<circle cx="558.19" cy="463.91" r="0.89" fill="#9ad3dc" opacity="0.7"/>
<circle cx="559.15" cy="463.02" r="0.79" fill="#9ad3dc" opacity="0.7"/>
<circle cx="557.91" cy="463.99" r="0.64" fill="#9ad3dc" opacity="0.7"/>
<circle cx="558.87" cy="467.47" r="0.88" fill="#11404b" opacity="0.75"/>
<circle cx="556.02" cy="468.53" r="0.7" fill="#11404b" opacity="0.75"/>
<circle cx="556.04" cy="467.46" r="0.72" fill="#11404b" opacity="0.75"/>
<circle cx="557.44" cy="467.48" r="0.74" fill="#9ad3dc" opacity="0.7"/>
<circle cx="556.76" cy="467.9" r="0.85" fill="#9ad3dc" opacity="0.7"/>
<circle cx="557.56" cy="468.58" r="0.91" fill="#9ad3dc" opacity="0.7"/>
<circle cx="557.05" cy="468.9" r="0.96" fill="#11404b" opacity="0.75"/>
<circle cx="556.01" cy="469.29" r="0.65" fill="#11404b" opacity="0.75"/>
<circle cx="556.04" cy="467.85" r="0.57" fill="#11404b" opacity="0.75"/>
<circle cx="554.78" cy="468.68" r="0.61" fill="#9ad3dc" opacity="0.7"/>
<circle cx="554.31" cy="467.72" r="0.87" fill="#9ad3dc" opacity="0.7"/>
<circle cx="555.66" cy="467.18" r="0.82" fill="#9ad3dc" opacity="0.7"/>
<circle cx="565.56" cy="459.15" r="0.7" fill="#11404b" opacity="0.75"/>
<circle cx="564.24" cy="458.24" r="1.05" fill="#11404b" opacity="0.75"/>
<circle cx="565.96" cy="459.02" r="0.56" fill="#11404b" opacity="0.75"/>
<circle cx="562.98" cy="458.3" r="0.99" fill="#9ad3dc" opacity="0.7"/>
<circle cx="563.32" cy="457.15" r="0.95" fill="#9ad3dc" opacity="0.7"/>
<circle cx="563.34" cy="458.81" r="0.57" fill="#9ad3dc" opacity="0.7"/>
<circle cx="564.33" cy="457.92" r="0.9" fill="#11404b" opacity="0.75"/>
<circle cx="564.08" cy="461.44" r="0.89" fill="#11404b" opacity="0.75"/>
<circle cx="564.89" cy="461.95" r="0.62" fill="#11404b" opacity="0.75"/>
<circle cx="564.73" cy="460.34" r="0.74" fill="#9ad3dc" opacity="0.7"/>
<circle cx="564.8" cy="459.7" r="0.7" fill="#9ad3dc" opacity="0.7"/>
<circle cx="564.78" cy="459.63" r="0.76" fill="#9ad3dc" opacity="0.7"/>
<circle cx="564.24" cy="461.71" r="0.63" fill="#11404b" opacity="0.75"/>
<circle cx="564.35" cy="461.09" r="0.61" fill="#11404b" opacity="0.75"/>
<circle cx="565.07" cy="461.15" r="1.02" fill="#11404b" opacity="0.75"/>
<circle cx="564.73" cy="461.42" r="0.86" fill="#9ad3dc" opacity="0.7"/>
<circle cx="563.92" cy="461.86" r="0.54" fill="#9ad3dc" opacity="0.7"/>
<circle cx="564.1" cy="461.85" r="0.94" fill="#9ad3dc" opacity="0.7"/>
<circle cx="567.24" cy="461.44" r="1.02" fill="#11404b" opacity="0.75"/>
<circle cx="569.8" cy="463.33" r="0.87" fill="#11404b" opacity="0.75"/>
<circle cx="567.63" cy="463.74" r="0.98" fill="#11404b" opacity="0.75"/>
<circle cx="568.01" cy="463.24" r="0.62" fill="#9ad3dc" opacity="0.7"/>
<circle cx="566.63" cy="463.63" r="0.8" fill="#9ad3dc" opacity="0.7"/>
<circle cx="566.7" cy="463.72" r="0.78" fill="#9ad3dc" opacity="0.7"/>
<circle cx="566.57" cy="465.45" r="1.1" fill="#11404b" opacity="0.75"/>
<circle cx="566.85" cy="465.08" r="0.86" fill="#11404b" opacity="0.75"/>
<circle cx="567.34" cy="463.71" r="0.74" fill="#11404b" opacity="0.75"/>
<circle cx="566.63" cy="464.6" r="0.69" fill="#9ad3dc" opacity="0.7"/>
<circle cx="566.81" cy="464.04" r="0.72" fill="#9ad3dc" opacity="0.7"/>
<circle cx="566.34" cy="464.28" r="0.77" fill="#9ad3dc" opacity="0.7"/>
<circle cx="572.85" cy="462.65" r="0.62" fill="#11404b" opacity="0.75"/>
<circle cx="570.85" cy="461.81" r="0.86" fill="#11404b" opacity="0.75"/>
<circle cx="569.69" cy="464.52" r="0.79" fill="#11404b" opacity="0.75"/>
<circle cx="569.98" cy="463.28" r="0.56" fill="#9ad3dc" opacity="0.7"/>
<circle cx="571.18" cy="463.94" r="0.77" fill="#9ad3dc" opacity="0.7"/>
<circle cx="569.25" cy="464.63" r="0.54" fill="#9ad3dc" opacity="0.7"/>
<circle cx="596.8" cy="453.42" r="4.42" fill="#041115"/>
<circle cx="594.7" cy="453.14" r="3.9" fill="#041115"/>
<circle cx="592.98" cy="452.53" r="2.84" fill="#041115"/>
<circle cx="592.21" cy="451.33" r="3.94" fill="#041115"/>
<circle cx="591.92" cy="449.5" r="2.51" fill="#041115"/>
<circle cx="589.48" cy="449.51" r="4.16" fill="#041115"/>
<circle cx="588.24" cy="447.81" r="4.56" fill="#041115"/>
<circle cx="585.17" cy="446.78" r="4.01" fill="#041115"/>
<circle cx="596.34" cy="453.63" r="4.37" fill="#041115"/>
<circle cx="595.93" cy="455.7" r="3.32" fill="#041115"/>
<circle cx="600.49" cy="453.23" r="4.12" fill="#041115"/>
<circle cx="599.07" cy="454.58" r="2.89" fill="#041115"/>
<circle cx="602.63" cy="451.9" r="3.92" fill="#041115"/>
<circle cx="601.12" cy="450.85" r="2.48" fill="#041115"/>
<circle cx="606.26" cy="449.4" r="4.55" fill="#041115"/>
<circle cx="608.18" cy="450.51" r="3.2" fill="#041115"/>
<circle cx="607.84" cy="448.49" r="3.91" fill="#041115"/>
<circle cx="596.84" cy="454.22" r="4.37" fill="#041115"/>
<circle cx="594.99" cy="453.21" r="2.76" fill="#041115"/>
<circle cx="597.53" cy="456.29" r="4.58" fill="#041115"/>
<circle cx="595.77" cy="454.9" r="2.86" fill="#041115"/>
<circle cx="597.39" cy="460.8" r="4.2" fill="#041115"/>
<circle cx="596.84" cy="458.87" r="3.32" fill="#041115"/>
<circle cx="596.58" cy="462.27" r="4.16" fill="#041115"/>
<circle cx="595.67" cy="460.5" r="2.99" fill="#041115"/>
<circle cx="595.54" cy="465.76" r="4.77" fill="#041115"/>
<circle cx="595.92" cy="468.84" r="4.56" fill="#041115"/>
<circle cx="596.8" cy="453.42" r="3.57" fill="#2d7282"/>
<circle cx="594.7" cy="453.14" r="3.05" fill="#2d7282"/>
<circle cx="592.98" cy="452.53" r="1.99" fill="#2d7282"/>
<circle cx="592.21" cy="451.33" r="3.09" fill="#2d7282"/>
<circle cx="591.92" cy="449.5" r="1.66" fill="#2d7282"/>
<circle cx="589.48" cy="449.51" r="3.31" fill="#2d7282"/>
<circle cx="588.24" cy="447.81" r="3.71" fill="#2d7282"/>
<circle cx="585.17" cy="446.78" r="3.16" fill="#2d7282"/>
<circle cx="596.34" cy="453.63" r="3.52" fill="#2d7282"/>
<circle cx="595.93" cy="455.7" r="2.47" fill="#2d7282"/>
<circle cx="600.49" cy="453.23" r="3.27" fill="#2d7282"/>
<circle cx="599.07" cy="454.58" r="2.04" fill="#2d7282"/>
<circle cx="602.63" cy="451.9" r="3.07" fill="#2d7282"/>
<circle cx="601.12" cy="450.85" r="1.63" fill="#2d7282"/>
<circle cx="606.26" cy="449.4" r="3.7" fill="#2d7282"/>
<circle cx="608.18" cy="450.51" r="2.35" fill="#2d7282"/>
<circle cx="607.84" cy="448.49" r="3.06" fill="#2d7282"/>
<circle cx="596.84" cy="454.22" r="3.52" fill="#2d7282"/>
<circle cx="594.99" cy="453.21" r="1.91" fill="#2d7282"/>
<circle cx="597.53" cy="456.29" r="3.73" fill="#2d7282"/>
<circle cx="595.77" cy="454.9" r="2.01" fill="#2d7282"/>
<circle cx="597.39" cy="460.8" r="3.35" fill="#2d7282"/>
<circle cx="596.84" cy="458.87" r="2.47" fill="#2d7282"/>
<circle cx="596.58" cy="462.27" r="3.31" fill="#2d7282"/>
<circle cx="595.67" cy="460.5" r="2.14" fill="#2d7282"/>
<circle cx="595.54" cy="465.76" r="3.92" fill="#2d7282"/>
<circle cx="595.92" cy="468.84" r="3.71" fill="#2d7282"/>
<circle cx="596.75" cy="453.4" r="0.98" fill="#11404b" opacity="0.75"/>
<circle cx="596.21" cy="454.51" r="0.63" fill="#11404b" opacity="0.75"/>
<circle cx="595.93" cy="453.74" r="0.55" fill="#11404b" opacity="0.75"/>
<circle cx="596.66" cy="453.12" r="0.89" fill="#9ad3dc" opacity="0.7"/>
<circle cx="595.24" cy="454.39" r="0.9" fill="#9ad3dc" opacity="0.7"/>
<circle cx="595.6" cy="452.25" r="0.62" fill="#9ad3dc" opacity="0.7"/>
<circle cx="594.62" cy="452.1" r="0.64" fill="#11404b" opacity="0.75"/>
<circle cx="595.66" cy="452.92" r="0.72" fill="#11404b" opacity="0.75"/>
<circle cx="595.28" cy="452.44" r="0.9" fill="#11404b" opacity="0.75"/>
<circle cx="593.04" cy="453.38" r="0.63" fill="#9ad3dc" opacity="0.7"/>
<circle cx="592.99" cy="454.04" r="0.59" fill="#9ad3dc" opacity="0.7"/>
<circle cx="595.6" cy="451.4" r="0.8" fill="#9ad3dc" opacity="0.7"/>
<circle cx="593.08" cy="452.53" r="0.63" fill="#11404b" opacity="0.75"/>
<circle cx="592.23" cy="453.15" r="1.08" fill="#11404b" opacity="0.75"/>
<circle cx="592.84" cy="452.7" r="0.84" fill="#11404b" opacity="0.75"/>
<circle cx="592.78" cy="452.57" r="0.78" fill="#9ad3dc" opacity="0.7"/>
<circle cx="592.94" cy="452.35" r="0.73" fill="#9ad3dc" opacity="0.7"/>
<circle cx="592.77" cy="451.53" r="0.69" fill="#9ad3dc" opacity="0.7"/>
<circle cx="592.52" cy="451.05" r="0.93" fill="#11404b" opacity="0.75"/>
<circle cx="592.5" cy="449.17" r="0.8" fill="#11404b" opacity="0.75"/>
<circle cx="592.3" cy="451.4" r="0.82" fill="#11404b" opacity="0.75"/>
<circle cx="590.92" cy="451.5" r="0.54" fill="#9ad3dc" opacity="0.7"/>
<circle cx="592.21" cy="450.8" r="0.51" fill="#9ad3dc" opacity="0.7"/>
<circle cx="591.24" cy="451.45" r="0.78" fill="#9ad3dc" opacity="0.7"/>
<circle cx="591.74" cy="449.65" r="0.79" fill="#11404b" opacity="0.75"/>
<circle cx="592.59" cy="449.26" r="1.06" fill="#11404b" opacity="0.75"/>
<circle cx="593.22" cy="449.73" r="1.03" fill="#11404b" opacity="0.75"/>
<circle cx="591.54" cy="449.01" r="0.77" fill="#9ad3dc" opacity="0.7"/>
<circle cx="591.98" cy="449.34" r="0.82" fill="#9ad3dc" opacity="0.7"/>
<circle cx="591.67" cy="449.19" r="0.86" fill="#9ad3dc" opacity="0.7"/>
<circle cx="589.43" cy="449.24" r="0.92" fill="#11404b" opacity="0.75"/>
<circle cx="588.23" cy="449.88" r="0.88" fill="#11404b" opacity="0.75"/>
<circle cx="590.99" cy="450.03" r="0.72" fill="#11404b" opacity="0.75"/>
<circle cx="589.64" cy="448.96" r="0.91" fill="#9ad3dc" opacity="0.7"/>
<circle cx="589.29" cy="448.14" r="0.94" fill="#9ad3dc" opacity="0.7"/>
<circle cx="588.33" cy="450.18" r="0.81" fill="#9ad3dc" opacity="0.7"/>
<circle cx="587.71" cy="446.73" r="0.54" fill="#11404b" opacity="0.75"/>
<circle cx="588.91" cy="449.49" r="0.61" fill="#11404b" opacity="0.75"/>
<circle cx="589.21" cy="448.23" r="0.78" fill="#11404b" opacity="0.75"/>
<circle cx="588.14" cy="447.69" r="0.89" fill="#9ad3dc" opacity="0.7"/>
<circle cx="586.42" cy="447.22" r="0.5" fill="#9ad3dc" opacity="0.7"/>
<circle cx="588.94" cy="446.53" r="0.99" fill="#9ad3dc" opacity="0.7"/>
<circle cx="587.26" cy="446.6" r="0.56" fill="#11404b" opacity="0.75"/>
<circle cx="584.83" cy="447.25" r="0.97" fill="#11404b" opacity="0.75"/>
<circle cx="585.36" cy="447.3" r="0.57" fill="#11404b" opacity="0.75"/>
<circle cx="583.32" cy="447.33" r="0.99" fill="#9ad3dc" opacity="0.7"/>
<circle cx="583.76" cy="446.14" r="0.73" fill="#9ad3dc" opacity="0.7"/>
<circle cx="584.62" cy="446.16" r="0.82" fill="#9ad3dc" opacity="0.7"/>
<circle cx="596.4" cy="454.35" r="0.81" fill="#11404b" opacity="0.75"/>
<circle cx="596.74" cy="454.8" r="1.07" fill="#11404b" opacity="0.75"/>
<circle cx="596.63" cy="453.67" r="0.98" fill="#11404b" opacity="0.75"/>
<circle cx="595.76" cy="453.92" r="0.93" fill="#9ad3dc" opacity="0.7"/>
<circle cx="596.07" cy="453.11" r="0.53" fill="#9ad3dc" opacity="0.7"/>
<circle cx="595.59" cy="453.51" r="0.9" fill="#9ad3dc" opacity="0.7"/>
<circle cx="597.47" cy="455.46" r="1.04" fill="#11404b" opacity="0.75"/>
<circle cx="597.5" cy="454.97" r="1.05" fill="#11404b" opacity="0.75"/>
<circle cx="596.11" cy="455.66" r="0.69" fill="#11404b" opacity="0.75"/>
<circle cx="594.92" cy="455.63" r="0.75" fill="#9ad3dc" opacity="0.7"/>
<circle cx="594.65" cy="455.23" r="0.7" fill="#9ad3dc" opacity="0.7"/>
<circle cx="595.41" cy="455.72" r="0.73" fill="#9ad3dc" opacity="0.7"/>
<circle cx="599.35" cy="452.28" r="0.76" fill="#11404b" opacity="0.75"/>
<circle cx="600.9" cy="454.2" r="0.7" fill="#11404b" opacity="0.75"/>
<circle cx="601.17" cy="454.48" r="0.61" fill="#11404b" opacity="0.75"/>
<circle cx="600.23" cy="451.82" r="0.57" fill="#9ad3dc" opacity="0.7"/>
<circle cx="600.17" cy="452.52" r="0.72" fill="#9ad3dc" opacity="0.7"/>
<circle cx="599.73" cy="451.78" r="0.94" fill="#9ad3dc" opacity="0.7"/>
<circle cx="599.04" cy="454.24" r="0.83" fill="#11404b" opacity="0.75"/>
<circle cx="599.06" cy="454.61" r="0.83" fill="#11404b" opacity="0.75"/>
<circle cx="597.69" cy="454.84" r="0.69" fill="#11404b" opacity="0.75"/>
<circle cx="599.19" cy="453.86" r="0.55" fill="#9ad3dc" opacity="0.7"/>
<circle cx="599" cy="454.14" r="0.77" fill="#9ad3dc" opacity="0.7"/>
<circle cx="598.97" cy="454.63" r="0.96" fill="#9ad3dc" opacity="0.7"/>
<circle cx="602.98" cy="452" r="0.6" fill="#11404b" opacity="0.75"/>
<circle cx="604.29" cy="453.05" r="1.1" fill="#11404b" opacity="0.75"/>
<circle cx="602.06" cy="451.12" r="1.03" fill="#11404b" opacity="0.75"/>
<circle cx="602.38" cy="451.64" r="0.85" fill="#9ad3dc" opacity="0.7"/>
<circle cx="602.06" cy="451.67" r="0.66" fill="#9ad3dc" opacity="0.7"/>
<circle cx="602.23" cy="451.7" r="0.81" fill="#9ad3dc" opacity="0.7"/>
<circle cx="601.62" cy="450.3" r="0.51" fill="#11404b" opacity="0.75"/>
<circle cx="601.11" cy="450.82" r="0.79" fill="#11404b" opacity="0.75"/>
<circle cx="601.71" cy="450.19" r="1.04" fill="#11404b" opacity="0.75"/>
<circle cx="601.1" cy="450.49" r="0.57" fill="#9ad3dc" opacity="0.7"/>
<circle cx="600.52" cy="450.4" r="0.62" fill="#9ad3dc" opacity="0.7"/>
<circle cx="600.34" cy="450.6" r="0.67" fill="#9ad3dc" opacity="0.7"/>
<circle cx="604.96" cy="448.44" r="1.06" fill="#11404b" opacity="0.75"/>
<circle cx="606.8" cy="449.49" r="0.97" fill="#11404b" opacity="0.75"/>
<circle cx="606.12" cy="449.15" r="0.58" fill="#11404b" opacity="0.75"/>
<circle cx="604.91" cy="449.44" r="0.95" fill="#9ad3dc" opacity="0.7"/>
<circle cx="605.69" cy="449.41" r="0.84" fill="#9ad3dc" opacity="0.7"/>
<circle cx="604.53" cy="448.3" r="1" fill="#9ad3dc" opacity="0.7"/>
<circle cx="609.42" cy="449.99" r="0.8" fill="#11404b" opacity="0.75"/>
<circle cx="609.59" cy="451.08" r="0.74" fill="#11404b" opacity="0.75"/>
<circle cx="607.02" cy="450.78" r="1.08" fill="#11404b" opacity="0.75"/>
<circle cx="607.35" cy="449.37" r="0.98" fill="#9ad3dc" opacity="0.7"/>
<circle cx="607.62" cy="450.74" r="0.94" fill="#9ad3dc" opacity="0.7"/>
<circle cx="608.14" cy="449.03" r="0.59" fill="#9ad3dc" opacity="0.7"/>
<circle cx="605.6" cy="448.05" r="0.82" fill="#11404b" opacity="0.75"/>
<circle cx="606.69" cy="446.4" r="0.6" fill="#11404b" opacity="0.75"/>
<circle cx="609.8" cy="449.22" r="0.85" fill="#11404b" opacity="0.75"/>
<circle cx="606.17" cy="448.6" r="0.64" fill="#9ad3dc" opacity="0.7"/>
<circle cx="607.2" cy="448.67" r="0.52" fill="#9ad3dc" opacity="0.7"/>
<circle cx="606.47" cy="447.71" r="0.73" fill="#9ad3dc" opacity="0.7"/>
<circle cx="596.95" cy="454.2" r="0.6" fill="#11404b" opacity="0.75"/>
<circle cx="597.84" cy="455.49" r="0.62" fill="#11404b" opacity="0.75"/>
<circle cx="596.11" cy="452.94" r="0.85" fill="#11404b" opacity="0.75"/>
<circle cx="597.18" cy="452.43" r="0.96" fill="#9ad3dc" opacity="0.7"/>
<circle cx="595.93" cy="454.41" r="0.98" fill="#9ad3dc" opacity="0.7"/>
<circle cx="596.2" cy="453.88" r="0.74" fill="#9ad3dc" opacity="0.7"/>
<circle cx="595.53" cy="454.38" r="0.88" fill="#11404b" opacity="0.75"/>
<circle cx="596.21" cy="454.03" r="0.81" fill="#11404b" opacity="0.75"/>
<circle cx="594.96" cy="454.14" r="1.07" fill="#11404b" opacity="0.75"/>
<circle cx="594.88" cy="453.17" r="0.6" fill="#9ad3dc" opacity="0.7"/>
<circle cx="594.36" cy="453.52" r="0.66" fill="#9ad3dc" opacity="0.7"/>
<circle cx="595.06" cy="452.88" r="0.51" fill="#9ad3dc" opacity="0.7"/>
<circle cx="597.17" cy="456.37" r="0.69" fill="#11404b" opacity="0.75"/>
<circle cx="597.61" cy="456.81" r="0.88" fill="#11404b" opacity="0.75"/>
<circle cx="598.55" cy="455.86" r="0.88" fill="#11404b" opacity="0.75"/>
<circle cx="595.39" cy="455.66" r="0.78" fill="#9ad3dc" opacity="0.7"/>
<circle cx="595.97" cy="457.23" r="0.6" fill="#9ad3dc" opacity="0.7"/>
<circle cx="597.41" cy="456.36" r="0.92" fill="#9ad3dc" opacity="0.7"/>
<circle cx="595.63" cy="454.34" r="0.83" fill="#11404b" opacity="0.75"/>
<circle cx="595.74" cy="454.78" r="0.92" fill="#11404b" opacity="0.75"/>
<circle cx="595.39" cy="453.44" r="0.54" fill="#11404b" opacity="0.75"/>
<circle cx="595.38" cy="454.3" r="0.92" fill="#9ad3dc" opacity="0.7"/>
<circle cx="594.95" cy="454.55" r="0.95" fill="#9ad3dc" opacity="0.7"/>
<circle cx="595.1" cy="454.65" r="0.95" fill="#9ad3dc" opacity="0.7"/>
<circle cx="599.94" cy="461.35" r="0.69" fill="#11404b" opacity="0.75"/>
<circle cx="596.65" cy="461" r="0.98" fill="#11404b" opacity="0.75"/>
<circle cx="595.43" cy="460.39" r="0.56" fill="#11404b" opacity="0.75"/>
<circle cx="597.91" cy="459.07" r="0.84" fill="#9ad3dc" opacity="0.7"/>
<circle cx="596.75" cy="460.8" r="0.73" fill="#9ad3dc" opacity="0.7"/>
<circle cx="595.52" cy="461.69" r="0.7" fill="#9ad3dc" opacity="0.7"/>
<circle cx="597.18" cy="458.76" r="0.89" fill="#11404b" opacity="0.75"/>
<circle cx="597.22" cy="457.65" r="0.75" fill="#11404b" opacity="0.75"/>
<circle cx="597.69" cy="458.97" r="0.73" fill="#11404b" opacity="0.75"/>
<circle cx="597.55" cy="457.47" r="0.98" fill="#9ad3dc" opacity="0.7"/>
<circle cx="597.03" cy="458.57" r="0.51" fill="#9ad3dc" opacity="0.7"/>
<circle cx="596.73" cy="458.85" r="0.56" fill="#9ad3dc" opacity="0.7"/>
<circle cx="596.11" cy="462.02" r="0.87" fill="#11404b" opacity="0.75"/>
<circle cx="596.05" cy="462.76" r="1.08" fill="#11404b" opacity="0.75"/>
<circle cx="597.49" cy="464.42" r="0.82" fill="#11404b" opacity="0.75"/>
<circle cx="596.45" cy="461.89" r="0.87" fill="#9ad3dc" opacity="0.7"/>
<circle cx="596.74" cy="461.79" r="0.74" fill="#9ad3dc" opacity="0.7"/>
<circle cx="596.21" cy="461.26" r="0.88" fill="#9ad3dc" opacity="0.7"/>
<circle cx="595.33" cy="460.08" r="0.91" fill="#11404b" opacity="0.75"/>
<circle cx="595.78" cy="459.72" r="0.85" fill="#11404b" opacity="0.75"/>
<circle cx="595.12" cy="459.89" r="0.55" fill="#11404b" opacity="0.75"/>
<circle cx="594.71" cy="459.95" r="0.86" fill="#9ad3dc" opacity="0.7"/>
<circle cx="595.01" cy="460.8" r="0.79" fill="#9ad3dc" opacity="0.7"/>
<circle cx="595.48" cy="460.28" r="0.82" fill="#9ad3dc" opacity="0.7"/>
<circle cx="594.99" cy="464.17" r="1.06" fill="#11404b" opacity="0.75"/>
<circle cx="595.5" cy="465.74" r="0.67" fill="#11404b" opacity="0.75"/>
<circle cx="595.46" cy="465.52" r="1.08" fill="#11404b" opacity="0.75"/>
<circle cx="595.1" cy="463.83" r="0.58" fill="#9ad3dc" opacity="0.7"/>
<circle cx="593.7" cy="467.04" r="0.76" fill="#9ad3dc" opacity="0.7"/>
<circle cx="594.43" cy="464.96" r="0.88" fill="#9ad3dc" opacity="0.7"/>
<circle cx="594.33" cy="470.49" r="0.6" fill="#11404b" opacity="0.75"/>
<circle cx="597.97" cy="468.59" r="0.69" fill="#11404b" opacity="0.75"/>
<circle cx="593.34" cy="469.22" r="0.7" fill="#11404b" opacity="0.75"/>
<circle cx="595.44" cy="466.7" r="0.98" fill="#9ad3dc" opacity="0.7"/>
<circle cx="594" cy="468.66" r="0.8" fill="#9ad3dc" opacity="0.7"/>
<circle cx="595.94" cy="468.58" r="0.71" fill="#9ad3dc" opacity="0.7"/>
<circle cx="574.3" cy="469.7" r="3.6" fill="#86243f" stroke="#1c060c" stroke-width="0.8"/>
<circle cx="573.4" cy="468.62" r="1.8" fill="#a8405c" opacity="0.7"/>
<circle cx="594.6" cy="474" r="4.1" fill="#86243f" stroke="#1c060c" stroke-width="0.8"/>
<circle cx="593.58" cy="472.77" r="2.05" fill="#a8405c" opacity="0.7"/>
<circle cx="644.49" cy="454.62" r="4.74" fill="#041115"/>
<circle cx="645.39" cy="452.48" r="3.59" fill="#041115"/>
<circle cx="640.91" cy="452.91" r="4.83" fill="#041115"/>
<circle cx="640.91" cy="455.3" r="3.79" fill="#041115"/>
<circle cx="637.57" cy="451.83" r="5.25" fill="#041115"/>
<circle cx="635.63" cy="453.61" r="3.36" fill="#041115"/>
<circle cx="635.08" cy="449.92" r="4.86" fill="#041115"/>
<circle cx="636.69" cy="451.71" r="3.62" fill="#041115"/>
<circle cx="632.75" cy="448.18" r="5.23" fill="#041115"/>
<circle cx="635.38" cy="448.25" r="3.19" fill="#041115"/>
<circle cx="644.28" cy="454.29" r="5.18" fill="#041115"/>
<circle cx="647.16" cy="452.81" r="4.43" fill="#041115"/>
<circle cx="645.31" cy="451.73" r="3.39" fill="#041115"/>
<circle cx="649.13" cy="451.19" r="4.24" fill="#041115"/>
<circle cx="647.09" cy="451.24" r="3.24" fill="#041115"/>
<circle cx="652.1" cy="450.32" r="4.84" fill="#041115"/>
<circle cx="649.92" cy="449.34" r="3.22" fill="#041115"/>
<circle cx="653.91" cy="448.61" r="4.77" fill="#041115"/>
<circle cx="655.09" cy="450.64" r="3.6" fill="#041115"/>
<circle cx="656.91" cy="446.45" r="5.19" fill="#041115"/>
<circle cx="656.51" cy="449.02" r="3.69" fill="#041115"/>
<circle cx="658.89" cy="444.93" r="4.26" fill="#041115"/>
<circle cx="657.67" cy="443.28" r="3.26" fill="#041115"/>
<circle cx="644.57" cy="454.76" r="4.98" fill="#041115"/>
<circle cx="647.05" cy="454.83" r="3.65" fill="#041115"/>
<circle cx="644.59" cy="457.33" r="4.45" fill="#041115"/>
<circle cx="642.71" cy="456.25" r="3" fill="#041115"/>
<circle cx="645.43" cy="460.59" r="5.09" fill="#041115"/>
<circle cx="647.58" cy="459.23" r="3.52" fill="#041115"/>
<circle cx="644.73" cy="463.98" r="4.77" fill="#041115"/>
<circle cx="642.81" cy="465.35" r="3.22" fill="#041115"/>
<circle cx="645.76" cy="466.98" r="4.75" fill="#041115"/>
<circle cx="643.58" cy="467.83" r="3.75" fill="#041115"/>
<circle cx="644.49" cy="454.62" r="3.89" fill="#2d7282"/>
<circle cx="645.39" cy="452.48" r="2.74" fill="#2d7282"/>
<circle cx="640.91" cy="452.91" r="3.98" fill="#2d7282"/>
<circle cx="640.91" cy="455.3" r="2.94" fill="#2d7282"/>
<circle cx="637.57" cy="451.83" r="4.4" fill="#2d7282"/>
<circle cx="635.63" cy="453.61" r="2.51" fill="#2d7282"/>
<circle cx="635.08" cy="449.92" r="4.01" fill="#2d7282"/>
<circle cx="636.69" cy="451.71" r="2.77" fill="#2d7282"/>
<circle cx="632.75" cy="448.18" r="4.38" fill="#2d7282"/>
<circle cx="635.38" cy="448.25" r="2.34" fill="#2d7282"/>
<circle cx="644.28" cy="454.29" r="4.33" fill="#2d7282"/>
<circle cx="647.16" cy="452.81" r="3.58" fill="#2d7282"/>
<circle cx="645.31" cy="451.73" r="2.54" fill="#2d7282"/>
<circle cx="649.13" cy="451.19" r="3.39" fill="#2d7282"/>
<circle cx="647.09" cy="451.24" r="2.39" fill="#2d7282"/>
<circle cx="652.1" cy="450.32" r="3.99" fill="#2d7282"/>
<circle cx="649.92" cy="449.34" r="2.37" fill="#2d7282"/>
<circle cx="653.91" cy="448.61" r="3.92" fill="#2d7282"/>
<circle cx="655.09" cy="450.64" r="2.75" fill="#2d7282"/>
<circle cx="656.91" cy="446.45" r="4.34" fill="#2d7282"/>
<circle cx="656.51" cy="449.02" r="2.84" fill="#2d7282"/>
<circle cx="658.89" cy="444.93" r="3.41" fill="#2d7282"/>
<circle cx="657.67" cy="443.28" r="2.41" fill="#2d7282"/>
<circle cx="644.57" cy="454.76" r="4.13" fill="#2d7282"/>
<circle cx="647.05" cy="454.83" r="2.8" fill="#2d7282"/>
<circle cx="644.59" cy="457.33" r="3.6" fill="#2d7282"/>
<circle cx="642.71" cy="456.25" r="2.15" fill="#2d7282"/>
<circle cx="645.43" cy="460.59" r="4.24" fill="#2d7282"/>
<circle cx="647.58" cy="459.23" r="2.67" fill="#2d7282"/>
<circle cx="644.73" cy="463.98" r="3.92" fill="#2d7282"/>
<circle cx="642.81" cy="465.35" r="2.37" fill="#2d7282"/>
<circle cx="645.76" cy="466.98" r="3.9" fill="#2d7282"/>
<circle cx="643.58" cy="467.83" r="2.9" fill="#2d7282"/>
<circle cx="644.39" cy="454.68" r="0.5" fill="#11404b" opacity="0.75"/>
<circle cx="644.33" cy="454.59" r="0.56" fill="#11404b" opacity="0.75"/>
<circle cx="645.58" cy="455.52" r="1.1" fill="#11404b" opacity="0.75"/>
<circle cx="643.59" cy="453.8" r="0.72" fill="#9ad3dc" opacity="0.7"/>
<circle cx="643.65" cy="453.78" r="0.86" fill="#9ad3dc" opacity="0.7"/>
<circle cx="645.08" cy="452.93" r="0.71" fill="#9ad3dc" opacity="0.7"/>
<circle cx="644.21" cy="450.86" r="0.59" fill="#11404b" opacity="0.75"/>
<circle cx="645.5" cy="453.83" r="0.91" fill="#11404b" opacity="0.75"/>
<circle cx="644.58" cy="451.47" r="1" fill="#11404b" opacity="0.75"/>
<circle cx="644.3" cy="451.51" r="0.98" fill="#9ad3dc" opacity="0.7"/>
<circle cx="644.12" cy="451.6" r="0.86" fill="#9ad3dc" opacity="0.7"/>
<circle cx="645.44" cy="452.31" r="0.96" fill="#9ad3dc" opacity="0.7"/>
<circle cx="641.23" cy="449.86" r="1.09" fill="#11404b" opacity="0.75"/>
<circle cx="640.43" cy="454.99" r="0.58" fill="#11404b" opacity="0.75"/>
<circle cx="638.48" cy="451.26" r="0.62" fill="#11404b" opacity="0.75"/>
<circle cx="640.63" cy="452.8" r="0.6" fill="#9ad3dc" opacity="0.7"/>
<circle cx="640.57" cy="452.92" r="1" fill="#9ad3dc" opacity="0.7"/>
<circle cx="641.29" cy="451.71" r="0.87" fill="#9ad3dc" opacity="0.7"/>
<circle cx="640.49" cy="454.14" r="0.75" fill="#11404b" opacity="0.75"/>
<circle cx="640.23" cy="454.18" r="0.66" fill="#11404b" opacity="0.75"/>
<circle cx="639.94" cy="456.41" r="0.88" fill="#11404b" opacity="0.75"/>
<circle cx="639.7" cy="455.34" r="0.94" fill="#9ad3dc" opacity="0.7"/>
<circle cx="641.24" cy="454.06" r="0.54" fill="#9ad3dc" opacity="0.7"/>
<circle cx="640.69" cy="455.16" r="0.53" fill="#9ad3dc" opacity="0.7"/>
<circle cx="637.52" cy="453.43" r="0.96" fill="#11404b" opacity="0.75"/>
<circle cx="636.89" cy="451.11" r="0.92" fill="#11404b" opacity="0.75"/>
<circle cx="635.79" cy="451.75" r="0.66" fill="#11404b" opacity="0.75"/>
<circle cx="636.72" cy="451.22" r="0.86" fill="#9ad3dc" opacity="0.7"/>
<circle cx="636.58" cy="450.93" r="0.74" fill="#9ad3dc" opacity="0.7"/>
<circle cx="636.08" cy="450.49" r="0.86" fill="#9ad3dc" opacity="0.7"/>
<circle cx="635.89" cy="452.84" r="0.98" fill="#11404b" opacity="0.75"/>
<circle cx="637.57" cy="453.17" r="0.93" fill="#11404b" opacity="0.75"/>
<circle cx="637.19" cy="454.29" r="1" fill="#11404b" opacity="0.75"/>
<circle cx="635.13" cy="453.94" r="0.66" fill="#9ad3dc" opacity="0.7"/>
<circle cx="635.52" cy="452.58" r="0.64" fill="#9ad3dc" opacity="0.7"/>
<circle cx="635.27" cy="453.65" r="0.55" fill="#9ad3dc" opacity="0.7"/>
<circle cx="635.84" cy="447.02" r="0.63" fill="#11404b" opacity="0.75"/>
<circle cx="634.98" cy="446.87" r="0.62" fill="#11404b" opacity="0.75"/>
<circle cx="633.81" cy="449.31" r="1.08" fill="#11404b" opacity="0.75"/>
<circle cx="635.12" cy="449.79" r="0.6" fill="#9ad3dc" opacity="0.7"/>
<circle cx="635.38" cy="448.41" r="0.76" fill="#9ad3dc" opacity="0.7"/>
<circle cx="635.26" cy="447.92" r="0.98" fill="#9ad3dc" opacity="0.7"/>
<circle cx="636.65" cy="451.8" r="0.92" fill="#11404b" opacity="0.75"/>
<circle cx="637.89" cy="452.1" r="1.02" fill="#11404b" opacity="0.75"/>
<circle cx="635.63" cy="452.51" r="0.6" fill="#11404b" opacity="0.75"/>
<circle cx="635.58" cy="451.91" r="0.93" fill="#9ad3dc" opacity="0.7"/>
<circle cx="636.78" cy="451.58" r="0.96" fill="#9ad3dc" opacity="0.7"/>
<circle cx="636.22" cy="451.2" r="0.7" fill="#9ad3dc" opacity="0.7"/>
<circle cx="631.68" cy="447.61" r="0.59" fill="#11404b" opacity="0.75"/>
<circle cx="634.39" cy="446.33" r="0.87" fill="#11404b" opacity="0.75"/>
<circle cx="632.16" cy="444.78" r="0.61" fill="#11404b" opacity="0.75"/>
<circle cx="633.06" cy="445.84" r="0.67" fill="#9ad3dc" opacity="0.7"/>
<circle cx="631.96" cy="447.07" r="0.6" fill="#9ad3dc" opacity="0.7"/>
<circle cx="632.32" cy="447.89" r="0.97" fill="#9ad3dc" opacity="0.7"/>
<circle cx="635.83" cy="449.34" r="0.84" fill="#11404b" opacity="0.75"/>
<circle cx="636.84" cy="448.01" r="0.72" fill="#11404b" opacity="0.75"/>
<circle cx="635.31" cy="448.31" r="0.53" fill="#11404b" opacity="0.75"/>
<circle cx="633.98" cy="447.89" r="0.52" fill="#9ad3dc" opacity="0.7"/>
<circle cx="634.38" cy="448.38" r="0.68" fill="#9ad3dc" opacity="0.7"/>
<circle cx="633.94" cy="448.4" r="0.52" fill="#9ad3dc" opacity="0.7"/>
<circle cx="643.07" cy="453.43" r="0.71" fill="#11404b" opacity="0.75"/>
<circle cx="644.48" cy="454.82" r="0.74" fill="#11404b" opacity="0.75"/>
<circle cx="644.31" cy="452.66" r="0.97" fill="#11404b" opacity="0.75"/>
<circle cx="644.44" cy="453.74" r="0.94" fill="#9ad3dc" opacity="0.7"/>
<circle cx="643.63" cy="453.23" r="0.76" fill="#9ad3dc" opacity="0.7"/>
<circle cx="644.65" cy="453.18" r="0.55" fill="#9ad3dc" opacity="0.7"/>
<circle cx="647.49" cy="452.73" r="0.56" fill="#11404b" opacity="0.75"/>
<circle cx="647" cy="451.94" r="0.67" fill="#11404b" opacity="0.75"/>
<circle cx="645.66" cy="450.75" r="0.71" fill="#11404b" opacity="0.75"/>
<circle cx="647.69" cy="451.43" r="0.8" fill="#9ad3dc" opacity="0.7"/>
<circle cx="647.08" cy="452.72" r="0.58" fill="#9ad3dc" opacity="0.7"/>
<circle cx="646.7" cy="451.24" r="0.55" fill="#9ad3dc" opacity="0.7"/>
<circle cx="644.68" cy="451" r="0.85" fill="#11404b" opacity="0.75"/>
<circle cx="644.95" cy="451.99" r="0.71" fill="#11404b" opacity="0.75"/>
<circle cx="645.69" cy="451.65" r="1.02" fill="#11404b" opacity="0.75"/>
<circle cx="645.17" cy="451.56" r="0.91" fill="#9ad3dc" opacity="0.7"/>
<circle cx="644.14" cy="452.49" r="0.67" fill="#9ad3dc" opacity="0.7"/>
<circle cx="645.79" cy="450.59" r="0.68" fill="#9ad3dc" opacity="0.7"/>
<circle cx="647.24" cy="449.3" r="0.6" fill="#11404b" opacity="0.75"/>
<circle cx="649.34" cy="451.95" r="0.99" fill="#11404b" opacity="0.75"/>
<circle cx="649.14" cy="451.86" r="0.87" fill="#11404b" opacity="0.75"/>
<circle cx="648.62" cy="450.36" r="0.78" fill="#9ad3dc" opacity="0.7"/>
<circle cx="649.03" cy="451.25" r="0.51" fill="#9ad3dc" opacity="0.7"/>
<circle cx="647.59" cy="451.98" r="0.99" fill="#9ad3dc" opacity="0.7"/>
<circle cx="647.61" cy="451.76" r="0.51" fill="#11404b" opacity="0.75"/>
<circle cx="645.94" cy="451.75" r="0.87" fill="#11404b" opacity="0.75"/>
<circle cx="647.95" cy="450.63" r="0.53" fill="#11404b" opacity="0.75"/>
<circle cx="646.4" cy="450.91" r="0.67" fill="#9ad3dc" opacity="0.7"/>
<circle cx="646.22" cy="451.75" r="0.74" fill="#9ad3dc" opacity="0.7"/>
<circle cx="646.97" cy="450.62" r="0.54" fill="#9ad3dc" opacity="0.7"/>
<circle cx="652.05" cy="450.88" r="0.78" fill="#11404b" opacity="0.75"/>
<circle cx="652.25" cy="450.52" r="0.81" fill="#11404b" opacity="0.75"/>
<circle cx="652.31" cy="450.58" r="0.57" fill="#11404b" opacity="0.75"/>
<circle cx="651.67" cy="448.25" r="0.9" fill="#9ad3dc" opacity="0.7"/>
<circle cx="651.19" cy="448.9" r="0.88" fill="#9ad3dc" opacity="0.7"/>
<circle cx="650.96" cy="449.57" r="0.86" fill="#9ad3dc" opacity="0.7"/>
<circle cx="649.15" cy="448.48" r="0.89" fill="#11404b" opacity="0.75"/>
<circle cx="649.53" cy="449.25" r="0.68" fill="#11404b" opacity="0.75"/>
<circle cx="649.63" cy="448.6" r="1.02" fill="#11404b" opacity="0.75"/>
<circle cx="648.95" cy="448.89" r="0.56" fill="#9ad3dc" opacity="0.7"/>
<circle cx="648.63" cy="449.05" r="0.59" fill="#9ad3dc" opacity="0.7"/>
<circle cx="649.86" cy="449.21" r="0.8" fill="#9ad3dc" opacity="0.7"/>
<circle cx="651.22" cy="449.46" r="1" fill="#11404b" opacity="0.75"/>
<circle cx="654.07" cy="447.56" r="0.9" fill="#11404b" opacity="0.75"/>
<circle cx="654.78" cy="449.88" r="0.73" fill="#11404b" opacity="0.75"/>
<circle cx="653.32" cy="448.11" r="0.61" fill="#9ad3dc" opacity="0.7"/>
<circle cx="652.78" cy="447.34" r="0.78" fill="#9ad3dc" opacity="0.7"/>
<circle cx="654.61" cy="447.32" r="0.57" fill="#9ad3dc" opacity="0.7"/>
<circle cx="654.66" cy="450.1" r="1.06" fill="#11404b" opacity="0.75"/>
<circle cx="655.78" cy="451.38" r="0.9" fill="#11404b" opacity="0.75"/>
<circle cx="656.22" cy="450.42" r="0.73" fill="#11404b" opacity="0.75"/>
<circle cx="655.09" cy="449.21" r="0.96" fill="#9ad3dc" opacity="0.7"/>
<circle cx="655.04" cy="450.33" r="1" fill="#9ad3dc" opacity="0.7"/>
<circle cx="655.44" cy="449.88" r="0.83" fill="#9ad3dc" opacity="0.7"/>
<circle cx="658.52" cy="443.7" r="0.93" fill="#11404b" opacity="0.75"/>
<circle cx="657.11" cy="446.57" r="0.72" fill="#11404b" opacity="0.75"/>
<circle cx="655.87" cy="446.74" r="0.95" fill="#11404b" opacity="0.75"/>
<circle cx="656.86" cy="445.26" r="0.85" fill="#9ad3dc" opacity="0.7"/>
<circle cx="654.23" cy="446.67" r="0.62" fill="#9ad3dc" opacity="0.7"/>
<circle cx="655.79" cy="446.66" r="0.93" fill="#9ad3dc" opacity="0.7"/>
<circle cx="655.24" cy="448.12" r="0.99" fill="#11404b" opacity="0.75"/>
<circle cx="654.87" cy="450.45" r="1.09" fill="#11404b" opacity="0.75"/>
<circle cx="654.85" cy="448.64" r="1.01" fill="#11404b" opacity="0.75"/>
<circle cx="656.34" cy="448.73" r="0.83" fill="#9ad3dc" opacity="0.7"/>
<circle cx="655.25" cy="448.04" r="0.6" fill="#9ad3dc" opacity="0.7"/>
<circle cx="656.17" cy="449.25" r="0.59" fill="#9ad3dc" opacity="0.7"/>
<circle cx="658.47" cy="445.31" r="0.7" fill="#11404b" opacity="0.75"/>
<circle cx="658.53" cy="444.7" r="0.79" fill="#11404b" opacity="0.75"/>
<circle cx="658.88" cy="444.94" r="0.9" fill="#11404b" opacity="0.75"/>
<circle cx="657.66" cy="443.69" r="0.94" fill="#9ad3dc" opacity="0.7"/>
<circle cx="657.47" cy="445.69" r="0.73" fill="#9ad3dc" opacity="0.7"/>
<circle cx="658.98" cy="444.6" r="0.92" fill="#9ad3dc" opacity="0.7"/>
<circle cx="657.51" cy="443.36" r="0.78" fill="#11404b" opacity="0.75"/>
<circle cx="657.78" cy="443.18" r="0.73" fill="#11404b" opacity="0.75"/>
<circle cx="657.69" cy="443.29" r="1" fill="#11404b" opacity="0.75"/>
<circle cx="657.11" cy="442.53" r="0.95" fill="#9ad3dc" opacity="0.7"/>
<circle cx="656.3" cy="443.84" r="0.88" fill="#9ad3dc" opacity="0.7"/>
<circle cx="657.94" cy="442.01" r="0.7" fill="#9ad3dc" opacity="0.7"/>
<circle cx="647.83" cy="455.24" r="0.88" fill="#11404b" opacity="0.75"/>
<circle cx="644.02" cy="452.52" r="0.68" fill="#11404b" opacity="0.75"/>
<circle cx="643.75" cy="453.51" r="0.64" fill="#11404b" opacity="0.75"/>
<circle cx="643.64" cy="453.83" r="0.65" fill="#9ad3dc" opacity="0.7"/>
<circle cx="644.37" cy="452.31" r="0.8" fill="#9ad3dc" opacity="0.7"/>
<circle cx="643.29" cy="455.56" r="0.82" fill="#9ad3dc" opacity="0.7"/>
<circle cx="647.32" cy="454.21" r="0.64" fill="#11404b" opacity="0.75"/>
<circle cx="646.79" cy="455.09" r="0.97" fill="#11404b" opacity="0.75"/>
<circle cx="648.29" cy="455.05" r="1" fill="#11404b" opacity="0.75"/>
<circle cx="646.72" cy="455.03" r="1" fill="#9ad3dc" opacity="0.7"/>
<circle cx="645.67" cy="454.49" r="0.51" fill="#9ad3dc" opacity="0.7"/>
<circle cx="646.91" cy="454.72" r="0.62" fill="#9ad3dc" opacity="0.7"/>
<circle cx="646.53" cy="457.54" r="0.77" fill="#11404b" opacity="0.75"/>
<circle cx="643.86" cy="458.3" r="0.91" fill="#11404b" opacity="0.75"/>
<circle cx="644.56" cy="457.77" r="0.53" fill="#11404b" opacity="0.75"/>
<circle cx="644.04" cy="455.84" r="0.62" fill="#9ad3dc" opacity="0.7"/>
<circle cx="643.05" cy="455.65" r="0.74" fill="#9ad3dc" opacity="0.7"/>
<circle cx="644.56" cy="456.44" r="0.78" fill="#9ad3dc" opacity="0.7"/>
<circle cx="642.93" cy="455.07" r="0.86" fill="#11404b" opacity="0.75"/>
<circle cx="642.69" cy="456.35" r="0.79" fill="#11404b" opacity="0.75"/>
<circle cx="642.61" cy="455.64" r="0.94" fill="#11404b" opacity="0.75"/>
<circle cx="642.57" cy="456.13" r="0.79" fill="#9ad3dc" opacity="0.7"/>
<circle cx="642.4" cy="455.84" r="0.6" fill="#9ad3dc" opacity="0.7"/>
<circle cx="643.19" cy="455.54" r="0.86" fill="#9ad3dc" opacity="0.7"/>
<circle cx="647.83" cy="461.24" r="0.6" fill="#11404b" opacity="0.75"/>
<circle cx="644.1" cy="460.73" r="0.73" fill="#11404b" opacity="0.75"/>
<circle cx="645.6" cy="459.92" r="1.07" fill="#11404b" opacity="0.75"/>
<circle cx="645.71" cy="459.21" r="0.94" fill="#9ad3dc" opacity="0.7"/>
<circle cx="643.9" cy="458.56" r="0.74" fill="#9ad3dc" opacity="0.7"/>
<circle cx="646.54" cy="458.83" r="0.83" fill="#9ad3dc" opacity="0.7"/>
<circle cx="649.07" cy="459.17" r="0.65" fill="#11404b" opacity="0.75"/>
<circle cx="647.36" cy="458.94" r="0.74" fill="#11404b" opacity="0.75"/>
<circle cx="647.46" cy="458.84" r="0.75" fill="#11404b" opacity="0.75"/>
<circle cx="646.8" cy="459.21" r="0.62" fill="#9ad3dc" opacity="0.7"/>
<circle cx="647.27" cy="457.79" r="0.74" fill="#9ad3dc" opacity="0.7"/>
<circle cx="647.34" cy="457.92" r="0.9" fill="#9ad3dc" opacity="0.7"/>
<circle cx="645.39" cy="462.03" r="0.94" fill="#11404b" opacity="0.75"/>
<circle cx="644.51" cy="462.36" r="0.98" fill="#11404b" opacity="0.75"/>
<circle cx="645.57" cy="466.08" r="0.88" fill="#11404b" opacity="0.75"/>
<circle cx="643.74" cy="462.74" r="0.96" fill="#9ad3dc" opacity="0.7"/>
<circle cx="644.78" cy="462.19" r="0.95" fill="#9ad3dc" opacity="0.7"/>
<circle cx="644.96" cy="463.11" r="0.93" fill="#9ad3dc" opacity="0.7"/>
<circle cx="643.65" cy="464.63" r="1.06" fill="#11404b" opacity="0.75"/>
<circle cx="643.5" cy="466.71" r="0.65" fill="#11404b" opacity="0.75"/>
<circle cx="642.03" cy="465.92" r="0.75" fill="#11404b" opacity="0.75"/>
<circle cx="642.65" cy="465.18" r="0.53" fill="#9ad3dc" opacity="0.7"/>
<circle cx="642.74" cy="464.87" r="0.64" fill="#9ad3dc" opacity="0.7"/>
<circle cx="642.55" cy="464.19" r="0.77" fill="#9ad3dc" opacity="0.7"/>
<circle cx="646.21" cy="465.99" r="1.03" fill="#11404b" opacity="0.75"/>
<circle cx="644.05" cy="464.97" r="0.99" fill="#11404b" opacity="0.75"/>
<circle cx="644.89" cy="464.23" r="0.95" fill="#11404b" opacity="0.75"/>
<circle cx="645.45" cy="466.75" r="0.7" fill="#9ad3dc" opacity="0.7"/>
<circle cx="645.69" cy="466.84" r="0.8" fill="#9ad3dc" opacity="0.7"/>
<circle cx="644.67" cy="466.35" r="0.53" fill="#9ad3dc" opacity="0.7"/>
<circle cx="644.9" cy="468.54" r="0.66" fill="#11404b" opacity="0.75"/>
<circle cx="644.71" cy="469.48" r="0.53" fill="#11404b" opacity="0.75"/>
<circle cx="643.02" cy="466" r="1.04" fill="#11404b" opacity="0.75"/>
<circle cx="643.51" cy="467.64" r="0.72" fill="#9ad3dc" opacity="0.7"/>
<circle cx="643.8" cy="467.03" r="0.77" fill="#9ad3dc" opacity="0.7"/>
<circle cx="643.47" cy="466.7" r="0.68" fill="#9ad3dc" opacity="0.7"/>
<circle cx="624.4" cy="470.4" r="4.2" fill="#86243f" stroke="#1c060c" stroke-width="0.8"/>
<circle cx="623.35" cy="469.14" r="2.1" fill="#a8405c" opacity="0.7"/>
<circle cx="647.9" cy="473.4" r="4.6" fill="#86243f" stroke="#1c060c" stroke-width="0.8"/>
<circle cx="646.75" cy="472.02" r="2.3" fill="#a8405c" opacity="0.7"/>
<text x="-0.3" y="551.2" font-size="13" font-weight="bold" font-family="Liberation Serif, serif">g</text>
<polygon points="67.7,642.96 69.25,648.18 70.79,653.4 72.34,663.94 73.88,674.47 75.42,685 76.97,695.53 78.52,706.06 80.06,716.59 81.61,725.85 83.15,729.99 84.69,734.14 86.24,738.28 87.78,741.65 89.33,744.49 90.88,747.33 92.42,750.17 93.97,753.15 95.51,756.35 97.06,759.55 98.6,762.75 100.15,765.13 101.69,764.27 103.23,763.41 104.78,762.55 106.33,761.69 107.87,760.83 109.41,754.11 110.96,747.4 112.5,740.69 114.05,733.97 115.59,729.31 117.14,724.65 118.69,719.98 120.23,711.09 121.78,701.15 123.32,691.2 124.87,681.25 126.41,671.24 127.95,661.19 129.5,651.13 131.05,641.08 132.59,631.02 134.13,622.82 135.68,614.61 137.22,607.24 138.77,603.19 140.31,599.14 141.86,596.07 143.41,594.48 144.95,592.89 146.5,591.81 148.04,591.5 149.58,591.2 151.13,590.89 152.68,591.11 154.22,591.34 155.76,591.56 157.31,591.78 158.86,592.01 160.4,592.23 161.94,592.73 163.49,593.23 165.03,593.72 166.58,594.18 168.12,594.64 169.67,595.09 171.22,595.55 172.76,596.01 174.31,596.46 175.85,596.92 177.39,597.38 178.94,597.83 180.49,598.24 182.03,598.44 183.57,598.64 185.12,598.84 186.66,599.04 188.21,599.24 189.75,599.44 191.3,599.64 192.84,599.84 194.39,600.04 195.94,600.24 197.48,600.44 199.02,600.59 200.57,600.74 202.12,600.89 203.66,601.03 205.2,601.18 206.75,601.33 208.3,601.48 209.84,601.63 209.84,601.63 208.3,601.86 206.75,602.08 205.2,602.3 203.66,602.53 202.12,602.75 200.57,602.97 199.02,603.2 197.48,603.42 195.94,603.68 194.39,603.93 192.84,604.18 191.3,604.43 189.75,604.69 188.21,604.94 186.66,605.19 185.12,605.45 183.57,605.7 182.03,605.95 180.49,606.21 178.94,606.55 177.39,606.91 175.85,607.28 174.31,607.65 172.76,608.01 171.22,608.38 169.67,608.74 168.12,609.11 166.58,609.47 165.03,609.84 163.49,610.69 161.94,611.54 160.4,612.4 158.86,613.25 157.31,614.1 155.76,615.28 154.22,616.93 152.68,618.59 151.13,620.25 149.58,621.91 148.04,623.56 146.5,627.09 144.95,630.61 143.41,634.13 141.86,637.66 140.31,641.18 138.77,644.7 137.22,648.22 135.68,652.91 134.13,657.88 132.59,662.85 131.05,667.83 129.5,672.8 127.95,682.75 126.41,692.69 124.87,702.64 123.32,717.56 121.78,732.48 120.23,747.4 118.69,762.32 117.14,777.24 115.59,792.16 114.05,802.82 112.5,813.47 110.96,824.07 109.41,834.4 107.87,844.72 106.33,852.21 104.78,857.81 103.23,866.2 101.69,872.13 100.15,874.37 98.6,874.22 97.06,870.49 95.51,865.27 93.97,857.81 92.42,849.57 90.88,838.22 89.33,826.87 87.78,815.51 86.24,804.16 84.69,790.92 83.15,776.41 81.61,761.91 80.06,747.4 78.52,738.08 76.97,728.75 75.42,719.43 73.88,710.1 72.34,703.01 70.79,695.93 69.25,688.84 67.7,681.75" fill="#e9eefb"/>
<path d="M67.7,642.96V681.75M66.7,642.96h2M66.7,681.75h2M70.79,653.4V695.93M69.79,653.4h2M69.79,695.93h2M73.88,674.47V710.1M72.88,674.47h2M72.88,710.1h2M76.97,695.53V728.75M75.97,695.53h2M75.97,728.75h2M80.06,716.59V747.4M79.06,716.59h2M79.06,747.4h2M83.15,729.99V776.41M82.15,729.99h2M82.15,776.41h2M86.24,738.28V804.16M85.24,738.28h2M85.24,804.16h2M89.33,744.49V826.87M88.33,744.49h2M88.33,826.87h2M92.42,750.17V849.57M91.42,750.17h2M91.42,849.57h2M95.51,756.35V865.27M94.51,756.35h2M94.51,865.27h2M98.6,762.75V874.22M97.6,762.75h2M97.6,874.22h2M101.69,764.27V872.13M100.69,764.27h2M100.69,872.13h2M104.78,762.55V857.81M103.78,762.55h2M103.78,857.81h2M107.87,760.83V844.72M106.87,760.83h2M106.87,844.72h2M110.96,747.4V824.07M109.96,747.4h2M109.96,824.07h2M114.05,733.97V802.82M113.05,733.97h2M113.05,802.82h2M117.14,724.65V777.24M116.14,724.65h2M116.14,777.24h2M120.23,711.09V747.4M119.23,711.09h2M119.23,747.4h2M123.32,691.2V717.56M122.32,691.2h2M122.32,717.56h2M126.41,671.24V692.69M125.41,671.24h2M125.41,692.69h2M129.5,651.13V672.8M128.5,651.13h2M128.5,672.8h2M132.59,631.02V662.85M131.59,631.02h2M131.59,662.85h2M135.68,614.61V652.91M134.68,614.61h2M134.68,652.91h2M138.77,603.19V644.7M137.77,603.19h2M137.77,644.7h2M141.86,596.07V637.66M140.86,596.07h2M140.86,637.66h2M144.95,592.89V630.61M143.95,592.89h2M143.95,630.61h2M148.04,591.5V623.56M147.04,591.5h2M147.04,623.56h2M151.13,590.89V620.25M150.13,590.89h2M150.13,620.25h2M154.22,591.34V616.93M153.22,591.34h2M153.22,616.93h2M157.31,591.78V614.1M156.31,591.78h2M156.31,614.1h2M160.4,592.23V612.4M159.4,592.23h2M159.4,612.4h2M163.49,593.23V610.69M162.49,593.23h2M162.49,610.69h2M166.58,594.18V609.47M165.58,594.18h2M165.58,609.47h2M169.67,595.09V608.74M168.67,595.09h2M168.67,608.74h2M172.76,596.01V608.01M171.76,596.01h2M171.76,608.01h2M175.85,596.92V607.28M174.85,596.92h2M174.85,607.28h2M178.94,597.83V606.55M177.94,597.83h2M177.94,606.55h2M182.03,598.44V605.95M181.03,598.44h2M181.03,605.95h2M185.12,598.84V605.45M184.12,598.84h2M184.12,605.45h2M188.21,599.24V604.94M187.21,599.24h2M187.21,604.94h2M191.3,599.64V604.43M190.3,599.64h2M190.3,604.43h2M194.39,600.04V603.93M193.39,600.04h2M193.39,603.93h2M197.48,600.44V603.42M196.48,600.44h2M196.48,603.42h2M200.57,600.74V602.97M199.57,600.74h2M199.57,602.97h2M203.66,601.03V602.53M202.66,601.03h2M202.66,602.53h2M206.75,601.33V602.08M205.75,601.33h2M205.75,602.08h2M209.84,601.63V601.63M208.84,601.63h2M208.84,601.63h2" stroke="#a9bff0" stroke-width="0.75" fill="none"/>
<path d="M63.5,705.5H84M63.5,704.1v2.8M84,704.1v2.8M73.5,702V709M72.1,702h2.8M72.1,709h2.8" stroke="#2a2a2a" stroke-width="0.95" fill="none"/>
<path d="M67.5,709.8H86M67.5,708.4v2.8M86,708.4v2.8M78.3,700V718M76.9,700h2.8M76.9,718h2.8" stroke="#2a2a2a" stroke-width="0.95" fill="none"/>
<path d="M82.6,789.6H97.2M82.6,788.2v2.8M97.2,788.2v2.8M89.6,700V879.4M88.2,700h2.8M88.2,879.4h2.8" stroke="#2a2a2a" stroke-width="0.95" fill="none"/>
<path d="M104.5,771.5H119.7M104.5,770.1v2.8M119.7,770.1v2.8M111.8,695V848M110.4,695h2.8M110.4,848h2.8" stroke="#2a2a2a" stroke-width="0.95" fill="none"/>
<path d="M109.5,760.4H125.5M109.5,759v2.8M125.5,759v2.8M117.4,700V820.3M116,700h2.8M116,820.3h2.8" stroke="#2a2a2a" stroke-width="0.95" fill="none"/>
<path d="M104.5,836H119.7M104.5,834.6v2.8M119.7,834.6v2.8M111.8,786V885.4M110.4,786h2.8M110.4,885.4h2.8" stroke="#2a2a2a" stroke-width="0.95" fill="none"/>
<path d="M113.3,684.8H130M113.3,683.4v2.8M130,683.4v2.8" stroke="#2a2a2a" stroke-width="0.95" fill="none"/>
<path d="M122,644.5H143.6M122,643.1v2.8M143.6,643.1v2.8M132.8,631.4V650M131.4,631.4h2.8M131.4,650h2.8" stroke="#2a2a2a" stroke-width="0.95" fill="none"/>
<path d="M122,648H143.6M122,646.6v2.8M143.6,646.6v2.8M132.8,640V655M131.4,640h2.8M131.4,655h2.8" stroke="#2a2a2a" stroke-width="0.95" fill="none"/>
<path d="M122,662.6H143.6M122,661.2v2.8M143.6,661.2v2.8M132.8,651.8V674.6M131.4,651.8h2.8M131.4,674.6h2.8" stroke="#2a2a2a" stroke-width="0.95" fill="none"/>
<path d="M146,657.6H165.8M146,656.2v2.8M165.8,656.2v2.8M156.8,646V669.3M155.4,646h2.8M155.4,669.3h2.8" stroke="#2a2a2a" stroke-width="0.95" fill="none"/>
<path d="M147.4,604.2H166.4M147.4,602.8v2.8M166.4,602.8v2.8M156.8,601V607M155.4,601h2.8M155.4,607h2.8" stroke="#2a2a2a" stroke-width="0.95" fill="none"/>
<path d="M192.7,584.3H213.1M192.7,582.9v2.8M213.1,582.9v2.8M202.6,570.9V598.9M201.2,570.9h2.8M201.2,598.9h2.8" stroke="#2a2a2a" stroke-width="0.95" fill="none"/>
<path d="M202.6,598V617.6M201.2,598h2.8M201.2,617.6h2.8" stroke="#2a2a2a" stroke-width="0.95" fill="none"/>
<path d="M318.2,583.1H339.8M318.2,581.7v2.8M339.8,581.7v2.8M328.8,565V601.2M327.4,565h2.8M327.4,601.2h2.8" stroke="#2a2a2a" stroke-width="0.95" fill="none"/>
<path d="M364.8,637.2H386.5M364.8,635.8v2.8M386.5,635.8v2.8M375.6,623.4V651.4M374.2,623.4h2.8M374.2,651.4h2.8" stroke="#2a2a2a" stroke-width="0.95" fill="none"/>
<line x1="90.5" y1="820.6" x2="108.6" y2="820.6" stroke="#e05555" stroke-width="0.8" />
<line x1="100.1" y1="811" x2="100.1" y2="829.5" stroke="#e05555" stroke-width="0.8" />
<circle cx="73.5" cy="705.5" r="3.6" fill="#c0393b"/>
<circle cx="78.3" cy="709.8" r="3.6" fill="#c0393b"/>
<circle cx="89.6" cy="789.6" r="3.6" fill="#c0393b"/>
<circle cx="111.8" cy="771.5" r="3.6" fill="#c0393b"/>
<circle cx="117.4" cy="760.4" r="3.6" fill="#c0393b"/>
<circle cx="111.8" cy="836" r="3.6" fill="#c0393b"/>
<circle cx="121.2" cy="684.8" r="3.6" fill="#c0393b"/>
<circle cx="132.8" cy="644.5" r="3.6" fill="#c0393b"/>
<circle cx="132.8" cy="648" r="3.6" fill="#c0393b"/>
<circle cx="132.8" cy="662.6" r="3.6" fill="#c0393b"/>
<circle cx="156.8" cy="657.6" r="3.6" fill="#c0393b"/>
<circle cx="156.8" cy="604.2" r="3.6" fill="#c0393b"/>
<circle cx="202.6" cy="584.3" r="3.6" fill="#c0393b"/>
<circle cx="202.6" cy="601.2" r="3.6" fill="#c0393b"/>
<circle cx="328.8" cy="583.1" r="3.6" fill="#c0393b"/>
<circle cx="375.6" cy="637.2" r="3.6" fill="#c0393b"/>
<path d="M67.7,662.34 68.47,666.95 69.25,671.56 70.02,676.16 70.79,680.77 71.56,685.37 72.34,689.97 73.11,694.57 73.88,699.17 74.65,703.76 75.42,708.35 76.2,712.93 76.97,717.5 77.74,722.07 78.52,726.63 79.29,731.18 80.06,735.71 80.83,740.23 81.61,744.73 82.38,749.21 83.15,753.66 83.92,758.08 84.69,762.47 85.47,766.82 86.24,771.12 87.01,775.36 87.78,779.53 88.56,783.62 89.33,787.63 90.1,791.52 90.88,795.29 91.65,798.92 92.42,802.39 93.19,805.66 93.97,808.73 94.74,811.55 95.51,814.1 96.28,816.35 97.06,818.26 97.83,819.82 98.6,820.99 99.37,821.75 100.15,822.08 100.92,821.95 101.69,821.37 102.46,820.33 103.23,818.83 104.01,816.89 104.78,814.52 105.55,811.75 106.33,808.6 107.1,805.09 107.87,801.28 108.64,797.18 109.41,792.82 110.19,788.25 110.96,783.49 111.73,778.57 112.5,773.51 113.28,768.35 114.05,763.11 114.82,757.8 115.59,752.44 116.37,747.06 117.14,741.67 117.91,736.29 118.69,730.92 119.46,725.58 120.23,720.29 121,715.05 121.78,709.88 122.55,704.78 123.32,699.76 124.09,694.84 124.87,690.03 125.64,685.32 126.41,680.73 127.18,676.27 127.95,671.94 128.73,667.75 129.5,663.71 130.27,659.81 131.05,656.06 131.82,652.47 132.59,649.04 133.36,645.76 134.13,642.65 134.91,639.7 135.68,636.9 136.45,634.26 137.22,631.78 138,629.45 138.77,627.26 139.54,625.21 140.31,623.3 141.09,621.53 141.86,619.87 142.63,618.34 143.41,616.92 144.18,615.61 144.95,614.41 145.72,613.29 146.5,612.27 147.27,611.32 148.04,610.46 148.81,609.67 149.58,608.94 150.36,608.28 151.13,607.67 151.9,607.12 152.68,606.62 153.45,606.16 154.22,605.74 154.99,605.36 155.76,605.01 156.54,604.69 157.31,604.41 158.08,604.15 158.86,603.91 159.63,603.69 160.4,603.5 161.17,603.32 161.94,603.16 162.72,603.01 163.49,602.88 164.26,602.76 165.03,602.65 165.81,602.56 166.58,602.47 167.35,602.39 168.12,602.31 168.9,602.25 169.67,602.19 170.44,602.13 171.22,602.08 171.99,602.04 172.76,602 173.53,601.96 174.31,601.93 175.08,601.9 175.85,601.87 176.62,601.85 177.39,601.82 178.17,601.8 178.94,601.79 179.71,601.77 180.49,601.76 181.26,601.74 182.03,601.73 182.8,601.72 183.57,601.71 184.35,601.7 185.12,601.69 185.89,601.68 186.66,601.68 187.44,601.67 188.21,601.67 188.98,601.66 189.75,601.66 190.53,601.65 191.3,601.65 192.07,601.65 192.84,601.64 193.62,601.64 194.39,601.64 195.16,601.63 195.94,601.63 196.71,601.63 197.48,601.63 198.25,601.63 199.02,601.63 199.8,601.63 200.57,601.62 201.34,601.62 202.12,601.62 202.89,601.62 203.66,601.62 204.43,601.62 205.2,601.62 205.98,601.62 206.75,601.62 207.52,601.62 208.3,601.62 209.07,601.62 209.84,601.62 210.61,601.62 211.38,601.62 212.16,601.62 212.93,601.62 213.7,601.62 214.48,601.62 215.25,601.62 216.02,601.61 216.79,601.61 217.56,601.61 218.34,601.61 219.11,601.61 219.88,601.61 220.65,601.61 221.43,601.61 222.2,601.61 222.97,601.61 223.75,601.61 224.52,601.61 225.29,601.61 226.06,601.61 226.83,601.61 227.61,601.61 228.38,601.61 229.15,601.61 229.93,601.61 230.7,601.61 231.47,601.61 232.24,601.61 233.01,601.61 233.79,601.61 234.56,601.61 235.33,601.61 236.11,601.61 236.88,601.61 237.65,601.61 238.42,601.61 239.19,601.61 239.97,601.61 240.74,601.61 241.51,601.61 242.28,601.61 243.06,601.61 243.83,601.61 244.6,601.61 245.38,601.61 246.15,601.61 246.92,601.61 247.69,601.61 248.46,601.61 249.24,601.61 250.01,601.61 250.78,601.61 251.56,601.61 252.33,601.61 253.1,601.61 253.87,601.61 254.64,601.61 255.42,601.61 256.19,601.61 256.96,601.61 257.74,601.61 258.51,601.61 259.28,601.61 260.05,601.61 260.82,601.61 261.6,601.61 262.37,601.61 263.14,601.61 263.92,601.61 264.69,601.61 265.46,601.61 266.23,601.61 267,601.61 267.78,601.61 268.55,601.61 269.32,601.61 270.09,601.61 270.87,601.61 271.64,601.61 272.41,601.61 273.19,601.61 273.96,601.61 274.73,601.61 275.5,601.61 276.27,601.61 277.05,601.61 277.82,601.61 278.59,601.61 279.37,601.61 280.14,601.61 280.91,601.61 281.68,601.61 282.45,601.61 283.23,601.61 284,601.61 284.77,601.61 285.55,601.61 286.32,601.61 287.09,601.61 287.86,601.61 288.63,601.61 289.41,601.61 290.18,601.61 290.95,601.61 291.72,601.61 292.5,601.61 293.27,601.61 294.04,601.61 294.81,601.61 295.59,601.61 296.36,601.61 297.13,601.61 297.9,601.61 298.68,601.61 299.45,601.61 300.22,601.61 301,601.61 301.77,601.61 302.54,601.61 303.31,601.61 304.08,601.61 304.86,601.61 305.63,601.61 306.4,601.61 307.18,601.61 307.95,601.61 308.72,601.61 309.49,601.61 310.26,601.61 311.04,601.61 311.81,601.61 312.58,601.61 313.36,601.61 314.13,601.61 314.9,601.61 315.67,601.61 316.44,601.61 317.22,601.61 317.99,601.61 318.76,601.61 319.53,601.61 320.31,601.61 321.08,601.61 321.85,601.61 322.62,601.61 323.4,601.61 324.17,601.61 324.94,601.61 325.71,601.61 326.49,601.61 327.26,601.61 328.03,601.61 328.8,601.61 329.58,601.61 330.35,601.61 331.12,601.61 331.89,601.61 332.67,601.61 333.44,601.61 334.21,601.61 334.98,601.61 335.76,601.61 336.53,601.61 337.3,601.61 338.07,601.61 338.85,601.61 339.62,601.61 340.39,601.61 341.16,601.61 341.94,601.61 342.71,601.61 343.48,601.61 344.25,601.61 345.03,601.61 345.8,601.61 346.57,601.61 347.34,601.61 348.12,601.61 348.89,601.61 349.66,601.61 350.44,601.61 351.21,601.61 351.98,601.61 352.75,601.61 353.52,601.61 354.3,601.61 355.07,601.61 355.84,601.61 356.61,601.61 357.39,601.61 358.16,601.61 358.93,601.61 359.7,601.61 360.48,601.61 361.25,601.61 362.02,601.61 362.79,601.61 363.57,601.61 364.34,601.61 365.11,601.61 365.88,601.61 366.66,601.61 367.43,601.61 368.2,601.61 368.97,601.61 369.75,601.61 370.52,601.61 371.29,601.61 372.06,601.61 372.84,601.61 373.61,601.61 374.38,601.61 375.15,601.61 375.93,601.61 376.7,601.61" fill="none" stroke="#3d5fc4" stroke-width="3.2" stroke-linecap="butt" stroke-linejoin="round"/>
<rect x="47.6" y="549.2" width="354.7" height="352.3" fill="none" stroke="#9a9a9a" stroke-width="0.9" />
<line x1="43.2" y1="598.2" x2="47.2" y2="598.2" stroke="#555" stroke-width="0.8" />
<text transform="translate(38.3,601.75) scale(1,1.16)" font-size="10.0" text-anchor="end" >−0.5</text>
<line x1="43.2" y1="672.8" x2="47.2" y2="672.8" stroke="#555" stroke-width="0.8" />
<text transform="translate(38.3,676.35) scale(1,1.16)" font-size="10.0" text-anchor="end" >−1.0</text>
<line x1="43.2" y1="747.4" x2="47.2" y2="747.4" stroke="#555" stroke-width="0.8" />
<text transform="translate(38.3,750.95) scale(1,1.16)" font-size="10.0" text-anchor="end" >−1.5</text>
<line x1="43.2" y1="822" x2="47.2" y2="822" stroke="#555" stroke-width="0.8" />
<text transform="translate(38.3,825.55) scale(1,1.16)" font-size="10.0" text-anchor="end" >−2.0</text>
<line x1="43.2" y1="896.6" x2="47.2" y2="896.6" stroke="#555" stroke-width="0.8" />
<text transform="translate(38.3,900.15) scale(1,1.16)" font-size="10.0" text-anchor="end" >−2.5</text>
<line x1="67.7" y1="901.8" x2="67.7" y2="905.5" stroke="#555" stroke-width="0.8" />
<text transform="translate(67.7,918.15) scale(1,1.16)" font-size="10.0" text-anchor="middle" >0</text>
<line x1="129.5" y1="901.8" x2="129.5" y2="905.5" stroke="#555" stroke-width="0.8" />
<text transform="translate(129.5,918.15) scale(1,1.16)" font-size="10.0" text-anchor="middle" >20</text>
<line x1="191.3" y1="901.8" x2="191.3" y2="905.5" stroke="#555" stroke-width="0.8" />
<text transform="translate(191.3,918.15) scale(1,1.16)" font-size="10.0" text-anchor="middle" >40</text>
<line x1="253.1" y1="901.8" x2="253.1" y2="905.5" stroke="#555" stroke-width="0.8" />
<text transform="translate(253.1,918.15) scale(1,1.16)" font-size="10.0" text-anchor="middle" >60</text>
<line x1="314.9" y1="901.8" x2="314.9" y2="905.5" stroke="#555" stroke-width="0.8" />
<text transform="translate(314.9,918.15) scale(1,1.16)" font-size="10.0" text-anchor="middle" >80</text>
<line x1="376.7" y1="901.8" x2="376.7" y2="905.5" stroke="#555" stroke-width="0.8" />
<text transform="translate(376.7,918.15) scale(1,1.16)" font-size="10.0" text-anchor="middle" >100</text>
<text transform="translate(224.4,934.85) scale(1,1.16)" font-size="10.0" text-anchor="middle" >Distance (nm)</text>
<text transform="translate(7.15,724.5) rotate(-90) scale(1,1.16)" font-size="10.0" text-anchor="middle" >log<tspan font-size="7" dy="2.2">10</tspan><tspan dy="-2.2"> </tspan>[<tspan font-style="italic">K</tspan><tspan font-size="7" dy="2.2">D2</tspan><tspan dy="-2.2"> </tspan>]</text>
<text transform="translate(169.4,746.8) scale(1,1.12)" font-size="10.2" text-anchor="start" ><tspan font-style="italic">K</tspan><tspan font-size="7.2" dy="2.2">D2</tspan><tspan dy="-2.2"> =</tspan></text>
<line x1="198.5" y1="743.3" x2="286.8" y2="743.3" stroke="#000" stroke-width="0.8" />
<text transform="translate(242.9,734.8) scale(1,1.12)" font-size="10.2" text-anchor="middle" >0.3</text>
<text transform="translate(204.5,758.3) scale(1,1.12)" font-size="10.2" text-anchor="start" >1 + e<tspan font-size="6.8" dy="-4.4">−0.4(<tspan font-style="italic">x</tspan> − 21.2 nm)</tspan></text>
<text transform="translate(291.2,746.8) scale(1,1.12)" font-size="10.2" text-anchor="start" >+ 0.3e<tspan font-size="6.8" dy="-4.6">−0.3(<tspan font-style="italic">x</tspan> − 1.0 nm)</tspan></text>
<circle cx="93.1" cy="586.68" r="5.81" fill="#a3b5ba"/>
<circle cx="90.12" cy="586.53" r="4.06" fill="#a3b5ba"/>
<circle cx="92.52" cy="581.21" r="5.38" fill="#a3b5ba"/>
<circle cx="91.69" cy="575.35" r="5.24" fill="#a3b5ba"/>
<circle cx="96.27" cy="596.77" r="6.19" fill="#a3b5ba"/>
<circle cx="101.18" cy="598.12" r="6.13" fill="#a3b5ba"/>
<circle cx="98.07" cy="597.56" r="3.57" fill="#a3b5ba"/>
<circle cx="104.59" cy="600.58" r="5.39" fill="#a3b5ba"/>
<circle cx="102.05" cy="601.58" r="4.08" fill="#a3b5ba"/>
<circle cx="109.22" cy="604" r="5.92" fill="#a3b5ba"/>
<circle cx="106.29" cy="604.8" r="3.73" fill="#a3b5ba"/>
<circle cx="95.79" cy="592.54" r="6.68" fill="#a3b5ba"/>
<circle cx="97.07" cy="594.66" r="5.59" fill="#a3b5ba"/>
<circle cx="97.36" cy="591.83" r="3.7" fill="#a3b5ba"/>
<circle cx="99.82" cy="598.73" r="6.44" fill="#a3b5ba"/>
<circle cx="93.1" cy="586.68" r="4.96" fill="#c5dbe1"/>
<circle cx="90.12" cy="586.53" r="3.21" fill="#c5dbe1"/>
<circle cx="92.52" cy="581.21" r="4.53" fill="#c5dbe1"/>
<circle cx="91.69" cy="575.35" r="4.39" fill="#c5dbe1"/>
<circle cx="96.27" cy="596.77" r="5.34" fill="#c5dbe1"/>
<circle cx="101.18" cy="598.12" r="5.28" fill="#c5dbe1"/>
<circle cx="98.07" cy="597.56" r="2.72" fill="#c5dbe1"/>
<circle cx="104.59" cy="600.58" r="4.54" fill="#c5dbe1"/>
<circle cx="102.05" cy="601.58" r="3.23" fill="#c5dbe1"/>
<circle cx="109.22" cy="604" r="5.07" fill="#c5dbe1"/>
<circle cx="106.29" cy="604.8" r="2.88" fill="#c5dbe1"/>
<circle cx="95.79" cy="592.54" r="5.83" fill="#c5dbe1"/>
<circle cx="97.07" cy="594.66" r="4.74" fill="#c5dbe1"/>
<circle cx="97.36" cy="591.83" r="2.85" fill="#c5dbe1"/>
<circle cx="99.82" cy="598.73" r="5.59" fill="#c5dbe1"/>
<circle cx="93.93" cy="586.68" r="1.05" fill="#aac4cb" opacity="0.75"/>
<circle cx="89.28" cy="587.41" r="0.74" fill="#aac4cb" opacity="0.75"/>
<circle cx="95.33" cy="587.78" r="0.97" fill="#aac4cb" opacity="0.75"/>
<circle cx="92.73" cy="586.63" r="0.67" fill="#eef6f8" opacity="0.7"/>
<circle cx="94.34" cy="584.55" r="0.56" fill="#eef6f8" opacity="0.7"/>
<circle cx="92.68" cy="586.65" r="0.53" fill="#eef6f8" opacity="0.7"/>
<circle cx="90.26" cy="586.1" r="0.84" fill="#aac4cb" opacity="0.75"/>
<circle cx="89.66" cy="586.69" r="0.94" fill="#aac4cb" opacity="0.75"/>
<circle cx="91.25" cy="587.74" r="0.57" fill="#aac4cb" opacity="0.75"/>
<circle cx="89.68" cy="586.25" r="0.63" fill="#eef6f8" opacity="0.7"/>
<circle cx="91" cy="585.08" r="0.65" fill="#eef6f8" opacity="0.7"/>
<circle cx="90.28" cy="586.04" r="0.7" fill="#eef6f8" opacity="0.7"/>
<circle cx="93.94" cy="579.36" r="0.56" fill="#aac4cb" opacity="0.75"/>
<circle cx="93.29" cy="581.16" r="0.65" fill="#aac4cb" opacity="0.75"/>
<circle cx="92.69" cy="580.03" r="0.68" fill="#aac4cb" opacity="0.75"/>
<circle cx="92.19" cy="581.35" r="0.79" fill="#eef6f8" opacity="0.7"/>
<circle cx="90.71" cy="581.1" r="0.69" fill="#eef6f8" opacity="0.7"/>
<circle cx="90.27" cy="579.49" r="0.74" fill="#eef6f8" opacity="0.7"/>
<circle cx="88.97" cy="573.97" r="0.61" fill="#aac4cb" opacity="0.75"/>
<circle cx="93.49" cy="577.97" r="0.99" fill="#aac4cb" opacity="0.75"/>
<circle cx="91.69" cy="576.01" r="0.94" fill="#aac4cb" opacity="0.75"/>
<circle cx="91.97" cy="574.77" r="0.98" fill="#eef6f8" opacity="0.7"/>
<circle cx="92.2" cy="573.66" r="0.71" fill="#eef6f8" opacity="0.7"/>
<circle cx="91.49" cy="575.41" r="0.98" fill="#eef6f8" opacity="0.7"/>
<circle cx="96.49" cy="599.77" r="0.65" fill="#aac4cb" opacity="0.75"/>
<circle cx="97.41" cy="594.49" r="0.68" fill="#aac4cb" opacity="0.75"/>
<circle cx="97.66" cy="599.52" r="0.54" fill="#aac4cb" opacity="0.75"/>
<circle cx="94.28" cy="596.74" r="0.93" fill="#eef6f8" opacity="0.7"/>
<circle cx="95.8" cy="595.84" r="0.96" fill="#eef6f8" opacity="0.7"/>
<circle cx="96.11" cy="596.78" r="0.63" fill="#eef6f8" opacity="0.7"/>
<circle cx="100.94" cy="598.2" r="0.61" fill="#aac4cb" opacity="0.75"/>
<circle cx="99.54" cy="599.89" r="0.58" fill="#aac4cb" opacity="0.75"/>
<circle cx="98.75" cy="600.99" r="1.09" fill="#aac4cb" opacity="0.75"/>
<circle cx="100.38" cy="595.85" r="0.79" fill="#eef6f8" opacity="0.7"/>
<circle cx="100.97" cy="598.17" r="0.51" fill="#eef6f8" opacity="0.7"/>
<circle cx="102.08" cy="595.85" r="0.98" fill="#eef6f8" opacity="0.7"/>
<circle cx="99.44" cy="597.74" r="0.79" fill="#aac4cb" opacity="0.75"/>
<circle cx="97.98" cy="596.87" r="1.1" fill="#aac4cb" opacity="0.75"/>
<circle cx="99.12" cy="598.1" r="0.94" fill="#aac4cb" opacity="0.75"/>
<circle cx="98.52" cy="596.31" r="0.85" fill="#eef6f8" opacity="0.7"/>
<circle cx="98.14" cy="595.93" r="0.68" fill="#eef6f8" opacity="0.7"/>
<circle cx="97.65" cy="596.01" r="0.94" fill="#eef6f8" opacity="0.7"/>
<circle cx="102.09" cy="602.01" r="1.02" fill="#aac4cb" opacity="0.75"/>
<circle cx="102.55" cy="599.58" r="0.73" fill="#aac4cb" opacity="0.75"/>
<circle cx="102.67" cy="599.48" r="0.55" fill="#aac4cb" opacity="0.75"/>
<circle cx="103.47" cy="597.87" r="0.94" fill="#eef6f8" opacity="0.7"/>
<circle cx="104.42" cy="599.39" r="0.87" fill="#eef6f8" opacity="0.7"/>
<circle cx="103.87" cy="599.43" r="0.92" fill="#eef6f8" opacity="0.7"/>
<circle cx="103.72" cy="602.55" r="0.52" fill="#aac4cb" opacity="0.75"/>
<circle cx="101.05" cy="600.84" r="0.64" fill="#aac4cb" opacity="0.75"/>
<circle cx="101.64" cy="600.36" r="0.87" fill="#aac4cb" opacity="0.75"/>
<circle cx="102.29" cy="601.01" r="0.51" fill="#eef6f8" opacity="0.7"/>
<circle cx="100.63" cy="601.25" r="0.6" fill="#eef6f8" opacity="0.7"/>
<circle cx="100.16" cy="601.86" r="0.83" fill="#eef6f8" opacity="0.7"/>
<circle cx="105.85" cy="605.29" r="0.7" fill="#aac4cb" opacity="0.75"/>
<circle cx="108.82" cy="603.3" r="0.76" fill="#aac4cb" opacity="0.75"/>
<circle cx="110.5" cy="600.52" r="1.03" fill="#aac4cb" opacity="0.75"/>
<circle cx="107.47" cy="603.13" r="0.66" fill="#eef6f8" opacity="0.7"/>
<circle cx="107.59" cy="604.41" r="0.92" fill="#eef6f8" opacity="0.7"/>
<circle cx="109.7" cy="601.68" r="0.98" fill="#eef6f8" opacity="0.7"/>
<circle cx="106.23" cy="605.19" r="0.77" fill="#aac4cb" opacity="0.75"/>
<circle cx="106.22" cy="605.29" r="0.75" fill="#aac4cb" opacity="0.75"/>
<circle cx="105.49" cy="604" r="0.69" fill="#aac4cb" opacity="0.75"/>
<circle cx="106.61" cy="602.99" r="0.73" fill="#eef6f8" opacity="0.7"/>
<circle cx="106.15" cy="604.87" r="0.94" fill="#eef6f8" opacity="0.7"/>
<circle cx="105.11" cy="605.47" r="0.79" fill="#eef6f8" opacity="0.7"/>
<circle cx="94.46" cy="595.98" r="0.51" fill="#aac4cb" opacity="0.75"/>
<circle cx="97.19" cy="594.14" r="0.51" fill="#aac4cb" opacity="0.75"/>
<circle cx="96.32" cy="591.57" r="0.58" fill="#aac4cb" opacity="0.75"/>
<circle cx="93.66" cy="593.7" r="0.72" fill="#eef6f8" opacity="0.7"/>
<circle cx="94.77" cy="590.25" r="0.9" fill="#eef6f8" opacity="0.7"/>
<circle cx="97.08" cy="590.26" r="0.6" fill="#eef6f8" opacity="0.7"/>
<circle cx="96.4" cy="594.77" r="0.51" fill="#aac4cb" opacity="0.75"/>
<circle cx="94.4" cy="595.13" r="0.61" fill="#aac4cb" opacity="0.75"/>
<circle cx="96.88" cy="595.96" r="0.92" fill="#aac4cb" opacity="0.75"/>
<circle cx="95.78" cy="593.22" r="0.88" fill="#eef6f8" opacity="0.7"/>
<circle cx="94.89" cy="593.52" r="0.95" fill="#eef6f8" opacity="0.7"/>
<circle cx="94.39" cy="595.74" r="0.86" fill="#eef6f8" opacity="0.7"/>
<circle cx="98.07" cy="592.58" r="0.88" fill="#aac4cb" opacity="0.75"/>
<circle cx="98.08" cy="591.37" r="0.84" fill="#aac4cb" opacity="0.75"/>
<circle cx="98.67" cy="590.59" r="1.07" fill="#aac4cb" opacity="0.75"/>
<circle cx="96.4" cy="591.05" r="0.6" fill="#eef6f8" opacity="0.7"/>
<circle cx="97.12" cy="590.32" r="0.82" fill="#eef6f8" opacity="0.7"/>
<circle cx="97.28" cy="591.37" r="0.95" fill="#eef6f8" opacity="0.7"/>
<circle cx="104.15" cy="598.2" r="0.82" fill="#aac4cb" opacity="0.75"/>
<circle cx="100.18" cy="597.35" r="1.05" fill="#aac4cb" opacity="0.75"/>
<circle cx="100.78" cy="597.51" r="0.55" fill="#aac4cb" opacity="0.75"/>
<circle cx="98.15" cy="597.55" r="0.88" fill="#eef6f8" opacity="0.7"/>
<circle cx="99.67" cy="598.6" r="0.9" fill="#eef6f8" opacity="0.7"/>
<circle cx="97.18" cy="600" r="0.59" fill="#eef6f8" opacity="0.7"/>
<circle cx="117" cy="610.4" r="5.9" fill="#dba8b4" stroke="#aaa" stroke-width="1"/>
<circle cx="115.53" cy="608.63" r="2.95" fill="#e9c3cb" opacity="0.7"/>
<circle cx="86.25" cy="578.27" r="5.75" fill="#041115"/>
<circle cx="89.19" cy="578.47" r="3.76" fill="#041115"/>
<circle cx="86.5" cy="573.3" r="5.44" fill="#041115"/>
<circle cx="83.93" cy="572.32" r="3.9" fill="#041115"/>
<circle cx="85.9" cy="567.46" r="5.24" fill="#041115"/>
<circle cx="84.51" cy="582.32" r="5.1" fill="#041115"/>
<circle cx="83.18" cy="584.5" r="3.41" fill="#041115"/>
<circle cx="82.73" cy="586.3" r="6.32" fill="#041115"/>
<circle cx="82.35" cy="591.78" r="5.8" fill="#041115"/>
<circle cx="86.25" cy="578.27" r="4.9" fill="#2d7282"/>
<circle cx="89.19" cy="578.47" r="2.91" fill="#2d7282"/>
<circle cx="86.5" cy="573.3" r="4.59" fill="#2d7282"/>
<circle cx="83.93" cy="572.32" r="3.05" fill="#2d7282"/>
<circle cx="85.9" cy="567.46" r="4.39" fill="#2d7282"/>
<circle cx="84.51" cy="582.32" r="4.25" fill="#2d7282"/>
<circle cx="83.18" cy="584.5" r="2.56" fill="#2d7282"/>
<circle cx="82.73" cy="586.3" r="5.47" fill="#2d7282"/>
<circle cx="82.35" cy="591.78" r="4.95" fill="#2d7282"/>
<circle cx="87.51" cy="579.34" r="0.58" fill="#11404b" opacity="0.75"/>
<circle cx="85.32" cy="580.52" r="0.6" fill="#11404b" opacity="0.75"/>
<circle cx="86.19" cy="578.08" r="0.6" fill="#11404b" opacity="0.75"/>
<circle cx="86.39" cy="576.94" r="0.71" fill="#9ad3dc" opacity="0.7"/>
<circle cx="85.48" cy="576.9" r="0.69" fill="#9ad3dc" opacity="0.7"/>
<circle cx="84.25" cy="579.47" r="0.98" fill="#9ad3dc" opacity="0.7"/>
<circle cx="90.71" cy="578.24" r="0.71" fill="#11404b" opacity="0.75"/>
<circle cx="88.14" cy="579.68" r="0.9" fill="#11404b" opacity="0.75"/>
<circle cx="89.6" cy="578.83" r="0.72" fill="#11404b" opacity="0.75"/>
<circle cx="88.12" cy="577.34" r="0.75" fill="#9ad3dc" opacity="0.7"/>
<circle cx="87.84" cy="579.29" r="0.72" fill="#9ad3dc" opacity="0.7"/>
<circle cx="88.85" cy="578.1" r="0.71" fill="#9ad3dc" opacity="0.7"/>
<circle cx="84.33" cy="575.13" r="0.56" fill="#11404b" opacity="0.75"/>
<circle cx="85.88" cy="573.1" r="0.92" fill="#11404b" opacity="0.75"/>
<circle cx="87.48" cy="573.54" r="0.71" fill="#11404b" opacity="0.75"/>
<circle cx="86.4" cy="573.07" r="0.73" fill="#9ad3dc" opacity="0.7"/>
<circle cx="85.58" cy="573.34" r="0.74" fill="#9ad3dc" opacity="0.7"/>
<circle cx="87.22" cy="572.01" r="0.98" fill="#9ad3dc" opacity="0.7"/>
<circle cx="85.04" cy="574.28" r="0.72" fill="#11404b" opacity="0.75"/>
<circle cx="84.61" cy="574.02" r="1.05" fill="#11404b" opacity="0.75"/>
<circle cx="84.58" cy="572.35" r="0.96" fill="#11404b" opacity="0.75"/>
<circle cx="83.4" cy="572.14" r="0.5" fill="#9ad3dc" opacity="0.7"/>
<circle cx="82.82" cy="572.94" r="0.99" fill="#9ad3dc" opacity="0.7"/>
<circle cx="84.54" cy="571.47" r="0.51" fill="#9ad3dc" opacity="0.7"/>
<circle cx="84.69" cy="569.94" r="1" fill="#11404b" opacity="0.75"/>
<circle cx="85.39" cy="566.84" r="0.82" fill="#11404b" opacity="0.75"/>
<circle cx="83.73" cy="567.77" r="0.66" fill="#11404b" opacity="0.75"/>
<circle cx="87.08" cy="565.19" r="0.58" fill="#9ad3dc" opacity="0.7"/>
<circle cx="83.45" cy="566.97" r="0.64" fill="#9ad3dc" opacity="0.7"/>
<circle cx="86.59" cy="566.11" r="0.85" fill="#9ad3dc" opacity="0.7"/>
<circle cx="84.31" cy="581.62" r="0.67" fill="#11404b" opacity="0.75"/>
<circle cx="84.44" cy="584.64" r="0.92" fill="#11404b" opacity="0.75"/>
<circle cx="86.55" cy="584.54" r="0.75" fill="#11404b" opacity="0.75"/>
<circle cx="83.25" cy="582.25" r="0.99" fill="#9ad3dc" opacity="0.7"/>
<circle cx="83.49" cy="580.88" r="0.96" fill="#9ad3dc" opacity="0.7"/>
<circle cx="85.57" cy="580.48" r="0.71" fill="#9ad3dc" opacity="0.7"/>
<circle cx="81.62" cy="583.53" r="0.97" fill="#11404b" opacity="0.75"/>
<circle cx="82.56" cy="584.16" r="0.72" fill="#11404b" opacity="0.75"/>
<circle cx="83.08" cy="583.35" r="0.51" fill="#11404b" opacity="0.75"/>
<circle cx="82.9" cy="583.02" r="0.9" fill="#9ad3dc" opacity="0.7"/>
<circle cx="83.69" cy="583.06" r="0.77" fill="#9ad3dc" opacity="0.7"/>
<circle cx="83.21" cy="583.81" r="0.55" fill="#9ad3dc" opacity="0.7"/>
<circle cx="81.9" cy="587.39" r="1.06" fill="#11404b" opacity="0.75"/>
<circle cx="81.84" cy="584.1" r="0.87" fill="#11404b" opacity="0.75"/>
<circle cx="84.39" cy="587.95" r="0.92" fill="#11404b" opacity="0.75"/>
<circle cx="81.89" cy="585.85" r="0.7" fill="#9ad3dc" opacity="0.7"/>
<circle cx="80.36" cy="585.6" r="0.57" fill="#9ad3dc" opacity="0.7"/>
<circle cx="81.63" cy="586.73" r="0.85" fill="#9ad3dc" opacity="0.7"/>
<circle cx="82.5" cy="589.17" r="1.06" fill="#11404b" opacity="0.75"/>
<circle cx="82.27" cy="591.87" r="0.79" fill="#11404b" opacity="0.75"/>
<circle cx="81.68" cy="592.03" r="0.9" fill="#11404b" opacity="0.75"/>
<circle cx="81.55" cy="591.5" r="0.66" fill="#9ad3dc" opacity="0.7"/>
<circle cx="82.4" cy="591.67" r="0.68" fill="#9ad3dc" opacity="0.7"/>
<circle cx="81.63" cy="591.66" r="0.72" fill="#9ad3dc" opacity="0.7"/>
<circle cx="81.3" cy="595.29" r="6.12" fill="#041115"/>
<circle cx="76.9" cy="597.44" r="5.98" fill="#041115"/>
<circle cx="76.59" cy="594.37" r="3.58" fill="#041115"/>
<circle cx="73.21" cy="600.67" r="6.61" fill="#041115"/>
<circle cx="75.02" cy="597.73" r="4.6" fill="#041115"/>
<circle cx="69.64" cy="603.43" r="5.68" fill="#041115"/>
<circle cx="85.49" cy="595.52" r="7.11" fill="#041115"/>
<circle cx="88.97" cy="599.11" r="7.36" fill="#041115"/>
<circle cx="92.41" cy="604.1" r="6.53" fill="#041115"/>
<circle cx="90.17" cy="606.67" r="4.3" fill="#041115"/>
<circle cx="75.39" cy="598.51" r="6.21" fill="#041115"/>
<circle cx="82.31" cy="598.09" r="7.42" fill="#041115"/>
<circle cx="88.28" cy="597.91" r="5.89" fill="#041115"/>
<circle cx="89.17" cy="600.8" r="4.03" fill="#041115"/>
<circle cx="81.3" cy="595.29" r="5.27" fill="#2d7282"/>
<circle cx="76.9" cy="597.44" r="5.13" fill="#2d7282"/>
<circle cx="76.59" cy="594.37" r="2.73" fill="#2d7282"/>
<circle cx="73.21" cy="600.67" r="5.76" fill="#2d7282"/>
<circle cx="75.02" cy="597.73" r="3.75" fill="#2d7282"/>
<circle cx="69.64" cy="603.43" r="4.83" fill="#2d7282"/>
<circle cx="85.49" cy="595.52" r="6.26" fill="#2d7282"/>
<circle cx="88.97" cy="599.11" r="6.51" fill="#2d7282"/>
<circle cx="92.41" cy="604.1" r="5.68" fill="#2d7282"/>
<circle cx="90.17" cy="606.67" r="3.45" fill="#2d7282"/>
<circle cx="75.39" cy="598.51" r="5.36" fill="#2d7282"/>
<circle cx="82.31" cy="598.09" r="6.57" fill="#2d7282"/>
<circle cx="88.28" cy="597.91" r="5.04" fill="#2d7282"/>
<circle cx="89.17" cy="600.8" r="3.18" fill="#2d7282"/>
<circle cx="81.26" cy="597.23" r="0.86" fill="#11404b" opacity="0.75"/>
<circle cx="80.86" cy="595.63" r="0.79" fill="#11404b" opacity="0.75"/>
<circle cx="81.39" cy="596.28" r="0.62" fill="#11404b" opacity="0.75"/>
<circle cx="80.98" cy="595.16" r="0.83" fill="#9ad3dc" opacity="0.7"/>
<circle cx="81.96" cy="594.07" r="0.86" fill="#9ad3dc" opacity="0.7"/>
<circle cx="81.4" cy="595.07" r="0.57" fill="#9ad3dc" opacity="0.7"/>
<circle cx="78.09" cy="594.2" r="0.88" fill="#11404b" opacity="0.75"/>
<circle cx="77.81" cy="598.87" r="1.02" fill="#11404b" opacity="0.75"/>
<circle cx="79.39" cy="595.27" r="0.62" fill="#11404b" opacity="0.75"/>
<circle cx="77.18" cy="596.15" r="0.86" fill="#9ad3dc" opacity="0.7"/>
<circle cx="73.75" cy="598.21" r="0.8" fill="#9ad3dc" opacity="0.7"/>
<circle cx="76.78" cy="596.66" r="0.81" fill="#9ad3dc" opacity="0.7"/>
<circle cx="75.46" cy="593.74" r="0.72" fill="#11404b" opacity="0.75"/>
<circle cx="76.49" cy="593.63" r="0.68" fill="#11404b" opacity="0.75"/>
<circle cx="77.36" cy="595.66" r="0.57" fill="#11404b" opacity="0.75"/>
<circle cx="76.38" cy="594.37" r="0.82" fill="#9ad3dc" opacity="0.7"/>
<circle cx="76" cy="593.55" r="0.52" fill="#9ad3dc" opacity="0.7"/>
<circle cx="76.04" cy="593.98" r="0.55" fill="#9ad3dc" opacity="0.7"/>
<circle cx="77.8" cy="600.76" r="0.57" fill="#11404b" opacity="0.75"/>
<circle cx="72.82" cy="601.85" r="0.86" fill="#11404b" opacity="0.75"/>
<circle cx="75.12" cy="601.68" r="0.72" fill="#11404b" opacity="0.75"/>
<circle cx="73.23" cy="600.55" r="0.67" fill="#9ad3dc" opacity="0.7"/>
<circle cx="70.62" cy="598.13" r="0.76" fill="#9ad3dc" opacity="0.7"/>
<circle cx="71.29" cy="599.01" r="0.65" fill="#9ad3dc" opacity="0.7"/>
<circle cx="76.49" cy="598.03" r="1.05" fill="#11404b" opacity="0.75"/>
<circle cx="74.96" cy="596.95" r="0.91" fill="#11404b" opacity="0.75"/>
<circle cx="75.47" cy="597.1" r="0.85" fill="#11404b" opacity="0.75"/>
<circle cx="74.39" cy="597.48" r="0.64" fill="#9ad3dc" opacity="0.7"/>
<circle cx="74.1" cy="597.78" r="0.52" fill="#9ad3dc" opacity="0.7"/>
<circle cx="74.75" cy="597.58" r="0.88" fill="#9ad3dc" opacity="0.7"/>
<circle cx="69.63" cy="603.43" r="0.96" fill="#11404b" opacity="0.75"/>
<circle cx="70.32" cy="605.16" r="0.83" fill="#11404b" opacity="0.75"/>
<circle cx="69.09" cy="604.4" r="0.76" fill="#11404b" opacity="0.75"/>
<circle cx="67" cy="604.08" r="0.56" fill="#9ad3dc" opacity="0.7"/>
<circle cx="69.74" cy="602.68" r="0.65" fill="#9ad3dc" opacity="0.7"/>
<circle cx="69.46" cy="603.34" r="0.56" fill="#9ad3dc" opacity="0.7"/>
<circle cx="84.07" cy="597.22" r="1.03" fill="#11404b" opacity="0.75"/>
<circle cx="85.71" cy="595.51" r="0.82" fill="#11404b" opacity="0.75"/>
<circle cx="88.26" cy="598.44" r="0.69" fill="#11404b" opacity="0.75"/>
<circle cx="86.21" cy="593.38" r="0.56" fill="#9ad3dc" opacity="0.7"/>
<circle cx="84.6" cy="596.15" r="0.93" fill="#9ad3dc" opacity="0.7"/>
<circle cx="83.53" cy="595.93" r="0.69" fill="#9ad3dc" opacity="0.7"/>
<circle cx="86.62" cy="602.56" r="0.63" fill="#11404b" opacity="0.75"/>
<circle cx="88.28" cy="595.71" r="1.06" fill="#11404b" opacity="0.75"/>
<circle cx="84.21" cy="598.51" r="0.76" fill="#11404b" opacity="0.75"/>
<circle cx="87.51" cy="596.88" r="0.92" fill="#9ad3dc" opacity="0.7"/>
<circle cx="89.16" cy="598.57" r="0.57" fill="#9ad3dc" opacity="0.7"/>
<circle cx="86.77" cy="596.44" r="0.77" fill="#9ad3dc" opacity="0.7"/>
<circle cx="91.07" cy="608.26" r="0.68" fill="#11404b" opacity="0.75"/>
<circle cx="92.61" cy="604.23" r="0.52" fill="#11404b" opacity="0.75"/>
<circle cx="92.34" cy="603.62" r="0.93" fill="#11404b" opacity="0.75"/>
<circle cx="93.32" cy="600.53" r="0.9" fill="#9ad3dc" opacity="0.7"/>
<circle cx="90.45" cy="602.84" r="0.92" fill="#9ad3dc" opacity="0.7"/>
<circle cx="92.21" cy="602.98" r="0.88" fill="#9ad3dc" opacity="0.7"/>
<circle cx="90.83" cy="607.21" r="1.1" fill="#11404b" opacity="0.75"/>
<circle cx="89.44" cy="606.8" r="0.97" fill="#11404b" opacity="0.75"/>
<circle cx="90.16" cy="606.67" r="0.52" fill="#11404b" opacity="0.75"/>
<circle cx="89.36" cy="606.58" r="0.97" fill="#9ad3dc" opacity="0.7"/>
<circle cx="88.25" cy="606.53" r="0.93" fill="#9ad3dc" opacity="0.7"/>
<circle cx="88.27" cy="605.51" r="0.88" fill="#9ad3dc" opacity="0.7"/>
<circle cx="74.27" cy="598.62" r="0.78" fill="#11404b" opacity="0.75"/>
<circle cx="77.27" cy="597.18" r="0.62" fill="#11404b" opacity="0.75"/>
<circle cx="73.94" cy="599.95" r="0.61" fill="#11404b" opacity="0.75"/>
<circle cx="75.27" cy="598.33" r="0.91" fill="#9ad3dc" opacity="0.7"/>
<circle cx="74.94" cy="598.57" r="0.79" fill="#9ad3dc" opacity="0.7"/>
<circle cx="72.38" cy="597.77" r="0.75" fill="#9ad3dc" opacity="0.7"/>
<circle cx="77.96" cy="597.5" r="0.63" fill="#11404b" opacity="0.75"/>
<circle cx="82.21" cy="594.67" r="0.76" fill="#11404b" opacity="0.75"/>
<circle cx="82.42" cy="598.06" r="1.02" fill="#11404b" opacity="0.75"/>
<circle cx="78.79" cy="598.88" r="0.58" fill="#9ad3dc" opacity="0.7"/>
<circle cx="80.36" cy="599.09" r="0.96" fill="#9ad3dc" opacity="0.7"/>
<circle cx="80.19" cy="597.88" r="0.8" fill="#9ad3dc" opacity="0.7"/>
<circle cx="88.37" cy="600.05" r="0.51" fill="#11404b" opacity="0.75"/>
<circle cx="85.37" cy="598.87" r="0.7" fill="#11404b" opacity="0.75"/>
<circle cx="88.32" cy="598.11" r="0.92" fill="#11404b" opacity="0.75"/>
<circle cx="85.77" cy="596.26" r="0.87" fill="#9ad3dc" opacity="0.7"/>
<circle cx="85.45" cy="598.92" r="0.97" fill="#9ad3dc" opacity="0.7"/>
<circle cx="88.59" cy="595.18" r="0.84" fill="#9ad3dc" opacity="0.7"/>
<circle cx="88.86" cy="599.13" r="0.85" fill="#11404b" opacity="0.75"/>
<circle cx="89.15" cy="601.14" r="0.94" fill="#11404b" opacity="0.75"/>
<circle cx="89.05" cy="600.72" r="0.89" fill="#11404b" opacity="0.75"/>
<circle cx="88.67" cy="599.82" r="0.89" fill="#9ad3dc" opacity="0.7"/>
<circle cx="89.4" cy="599.99" r="0.91" fill="#9ad3dc" opacity="0.7"/>
<circle cx="88.3" cy="599.94" r="0.71" fill="#9ad3dc" opacity="0.7"/>
<circle cx="65.1" cy="611.1" r="5.8" fill="#86243f" stroke="#1c060c" stroke-width="1.4"/>
<circle cx="63.65" cy="609.36" r="2.9" fill="#a8405c" opacity="0.7"/>
<circle cx="96" cy="611" r="5.8" fill="#86243f" stroke="#1c060c" stroke-width="1.4"/>
<circle cx="94.55" cy="609.26" r="2.9" fill="#a8405c" opacity="0.7"/>
<text x="423.5" y="551.7" font-size="11.5" font-weight="bold" >h</text>
<circle cx="488.9" cy="624.3" r="4" fill="#3a5fbf"/>
<circle cx="490.8" cy="628" r="4" fill="#3a5fbf"/>
<circle cx="495" cy="642.4" r="4" fill="#3a5fbf"/>
<circle cx="507.7" cy="627.7" r="4" fill="#3a5fbf"/>
<circle cx="533.8" cy="580.8" r="4" fill="#3a5fbf"/>
<circle cx="533.8" cy="631" r="4" fill="#3a5fbf"/>
<circle cx="539.9" cy="612.1" r="4" fill="#3a5fbf"/>
<circle cx="544.3" cy="648.2" r="4" fill="#3a5fbf"/>
<circle cx="557.7" cy="616.6" r="4" fill="#3a5fbf"/>
<circle cx="557.7" cy="627.7" r="4" fill="#3a5fbf"/>
<circle cx="585.1" cy="586.1" r="4" fill="#3a5fbf"/>
<circle cx="585.1" cy="628" r="4" fill="#3a5fbf"/>
<circle cx="639.1" cy="641" r="4" fill="#3a5fbf"/>
<circle cx="533.8" cy="568" r="4" fill="#bc3a3d"/>
<circle cx="539.9" cy="578" r="4" fill="#bc3a3d"/>
<circle cx="544.3" cy="607.2" r="4" fill="#bc3a3d"/>
<circle cx="557.7" cy="611" r="4" fill="#bc3a3d"/>
<circle cx="585.1" cy="594.4" r="4" fill="#bc3a3d"/>
<circle cx="585.1" cy="621.6" r="4" fill="#bc3a3d"/>
<circle cx="488.9" cy="629.9" r="4" fill="#bc3a3d"/>
<circle cx="490.2" cy="650.1" r="4" fill="#bc3a3d"/>
<circle cx="495" cy="664.6" r="4" fill="#bc3a3d"/>
<circle cx="507.7" cy="635.2" r="4" fill="#bc3a3d"/>
<circle cx="533.8" cy="641.5" r="4" fill="#bc3a3d"/>
<circle cx="557.7" cy="629.9" r="4" fill="#bc3a3d"/>
<circle cx="557.7" cy="636.6" r="4" fill="#bc3a3d"/>
<circle cx="639.1" cy="631.8" r="4" fill="#bc3a3d"/>
<rect x="477.8" y="560" width="173.1" height="112.9" fill="none" stroke="#9a9a9a" stroke-width="0.9" />
<line x1="473.3" y1="568.9" x2="477.4" y2="568.9" stroke="#555" stroke-width="0.8" />
<text transform="translate(469.2,572.45) scale(1,1.16)" font-size="10.0" text-anchor="end" >0.50</text>
<line x1="473.3" y1="598.3" x2="477.4" y2="598.3" stroke="#555" stroke-width="0.8" />
<text transform="translate(469.2,601.85) scale(1,1.16)" font-size="10.0" text-anchor="end" >0.25</text>
<line x1="473.3" y1="627.6" x2="477.4" y2="627.6" stroke="#555" stroke-width="0.8" />
<text transform="translate(469.2,631.15) scale(1,1.16)" font-size="10.0" text-anchor="end" >0</text>
<line x1="473.3" y1="657" x2="477.4" y2="657" stroke="#555" stroke-width="0.8" />
<text transform="translate(469.2,660.55) scale(1,1.16)" font-size="10.0" text-anchor="end" >−0.25</text>
<line x1="481.7" y1="673.2" x2="481.7" y2="676.8" stroke="#555" stroke-width="0.8" />
<text transform="translate(481.7,689.25) scale(1,1.16)" font-size="10.0" text-anchor="middle" >0</text>
<line x1="554" y1="673.2" x2="554" y2="676.8" stroke="#555" stroke-width="0.8" />
<text transform="translate(554,689.25) scale(1,1.16)" font-size="10.0" text-anchor="middle" >20</text>
<line x1="626.3" y1="673.2" x2="626.3" y2="676.8" stroke="#555" stroke-width="0.8" />
<text transform="translate(626.3,689.25) scale(1,1.16)" font-size="10.0" text-anchor="middle" >40</text>
<text transform="translate(564,706.95) scale(1,1.16)" font-size="10.0" text-anchor="middle" >Distance (nm)</text>
<text transform="translate(431.15,616.7) rotate(-90) scale(1,1.16)" font-size="10.0" text-anchor="middle" ><tspan font-style="italic">K</tspan><tspan font-size="7" dy="2.2">D2</tspan><tspan dy="-2.2"> </tspan> (projected)</text>
<text transform="translate(642.8,667.55) scale(1,1.16)" font-size="10.0" text-anchor="end" ><tspan font-style="italic">χ</tspan><tspan font-size="7" dy="-4">2</tspan><tspan dy="4"> = 0.988</tspan></text>
<text x="424.3" y="738.5" font-size="11.5" font-weight="bold" >i</text>
<rect x="486.7" y="809.04" width="16.6" height="43.36" fill="#000" stroke="none" stroke-width="1" />
<text transform="translate(495,806.35) scale(1,1.16)" font-size="10.0" text-anchor="middle" >9.49</text>
<rect x="520.6" y="793.33" width="17" height="59.07" fill="#000" stroke="none" stroke-width="1" />
<text transform="translate(529.1,789.35) scale(1,1.16)" font-size="10.0" text-anchor="middle" >10.03</text>
<rect x="554.9" y="779.65" width="17" height="72.75" fill="#000" stroke="none" stroke-width="1" />
<text transform="translate(563.4,774.75) scale(1,1.16)" font-size="10.0" text-anchor="middle" >10.50</text>
<rect x="588.8" y="776.74" width="17.4" height="75.66" fill="#000" stroke="none" stroke-width="1" />
<text transform="translate(597.5,773.25) scale(1,1.16)" font-size="10.0" text-anchor="middle" >10.60</text>
<rect x="623.1" y="791.29" width="17" height="61.11" fill="#000" stroke="none" stroke-width="1" />
<text transform="translate(631.6,786.65) scale(1,1.16)" font-size="10.0" text-anchor="middle" >10.10</text>
<rect x="477.3" y="735.8" width="171.4" height="116.6" fill="none" stroke="#9a9a9a" stroke-width="0.9" />
<line x1="473.3" y1="852.4" x2="477" y2="852.4" stroke="#555" stroke-width="0.8" />
<text transform="translate(469.2,855.95) scale(1,1.16)" font-size="10.0" text-anchor="end" >8</text>
<line x1="473.3" y1="823.3" x2="477" y2="823.3" stroke="#555" stroke-width="0.8" />
<text transform="translate(469.2,826.85) scale(1,1.16)" font-size="10.0" text-anchor="end" >9</text>
<line x1="473.3" y1="794.2" x2="477" y2="794.2" stroke="#555" stroke-width="0.8" />
<text transform="translate(469.2,797.75) scale(1,1.16)" font-size="10.0" text-anchor="end" >10</text>
<line x1="473.3" y1="765.1" x2="477" y2="765.1" stroke="#555" stroke-width="0.8" />
<text transform="translate(469.2,768.65) scale(1,1.16)" font-size="10.0" text-anchor="end" >11</text>
<line x1="495" y1="852.6" x2="495" y2="856.2" stroke="#555" stroke-width="0.8" />
<text transform="translate(498.8,866.8) rotate(-45) scale(1,1.16)" font-size="10.0" text-anchor="end">−2SEM</text>
<line x1="529.1" y1="852.6" x2="529.1" y2="856.2" stroke="#555" stroke-width="0.8" />
<text transform="translate(532.9,866.8) rotate(-45) scale(1,1.16)" font-size="10.0" text-anchor="end">−1SEM</text>
<line x1="563.4" y1="852.6" x2="563.4" y2="856.2" stroke="#555" stroke-width="0.8" />
<line x1="597.5" y1="852.6" x2="597.5" y2="856.2" stroke="#555" stroke-width="0.8" />
<text transform="translate(601.3,866.8) rotate(-45) scale(1,1.16)" font-size="10.0" text-anchor="end">+1SEM</text>
<line x1="631.6" y1="852.6" x2="631.6" y2="856.2" stroke="#555" stroke-width="0.8" />
<text transform="translate(635.4,866.8) rotate(-45) scale(1,1.16)" font-size="10.0" text-anchor="end">+2SEM</text>
<line x1="546.1" y1="880.6" x2="569.5" y2="856.7" stroke="#000" stroke-width="0.8" />
<text transform="translate(572.9,868.5) rotate(-45) scale(1,1.16)" font-size="10.0" text-anchor="end"><tspan font-style="italic">ϕ</tspan><tspan font-size="7" dy="2">1</tspan><tspan dy="-2">(</tspan><tspan font-style="italic">t</tspan>)</text>
<text transform="translate(563.2,905.55) scale(1,1.16)" font-size="10.0" text-anchor="middle" >Input occupancy data,</text>
<text transform="translate(563.2,918.65) scale(1,1.16)" font-size="10.0" text-anchor="middle" >one-antigen (<tspan font-style="italic">n</tspan><tspan font-size="7" dy="2.2">Ab</tspan><tspan dy="-2.2"> </tspan>/<tspan font-style="italic">n</tspan><tspan font-size="7" dy="2.2">struct</tspan><tspan dy="-2.2"> </tspan>)</text>
<text transform="translate(436.95,794.9) rotate(-90) scale(1,1.16)" font-size="10.0" text-anchor="middle" >Optimal bivalent</text>
<text transform="translate(449.35,794.9) rotate(-90) scale(1,1.16)" font-size="10.0" text-anchor="middle" >separation (nm)</text>
</svg></body></html>
